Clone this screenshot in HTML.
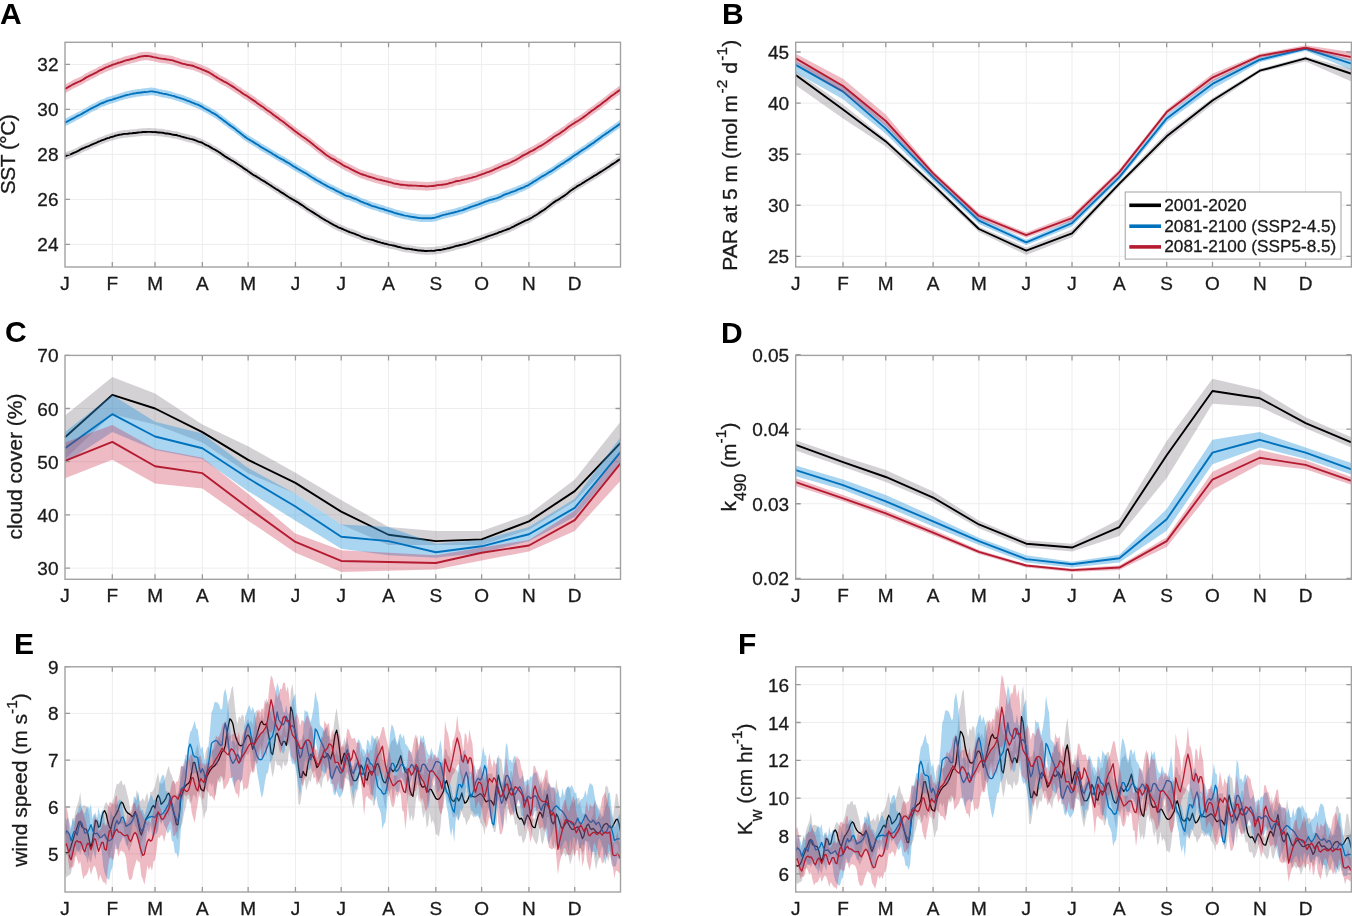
<!DOCTYPE html>
<html><head><meta charset="utf-8"><title>Figure</title>
<style>html,body{margin:0;padding:0;background:#fff;}svg{display:block;will-change:transform}</style></head>
<body><svg width="1352" height="916" viewBox="0 0 1352 916"><rect width="1352" height="916" fill="#fff"/>
<g stroke="#ededed" stroke-width="1"><line x1="112.31" y1="42.3" x2="112.31" y2="267"/><line x1="155.04" y1="42.3" x2="155.04" y2="267"/><line x1="202.35" y1="42.3" x2="202.35" y2="267"/><line x1="248.13" y1="42.3" x2="248.13" y2="267"/><line x1="295.44" y1="42.3" x2="295.44" y2="267"/><line x1="341.22" y1="42.3" x2="341.22" y2="267"/><line x1="388.53" y1="42.3" x2="388.53" y2="267"/><line x1="435.84" y1="42.3" x2="435.84" y2="267"/><line x1="481.62" y1="42.3" x2="481.62" y2="267"/><line x1="528.93" y1="42.3" x2="528.93" y2="267"/><line x1="574.72" y1="42.3" x2="574.72" y2="267"/><line x1="65" y1="244.45" x2="620.5" y2="244.45"/><line x1="65" y1="199.45" x2="620.5" y2="199.45"/><line x1="65" y1="154.45" x2="620.5" y2="154.45"/><line x1="65" y1="109.45" x2="620.5" y2="109.45"/><line x1="65" y1="64.45" x2="620.5" y2="64.45"/></g>
<path d="M65,152.71 L66.53,151.86 L68.05,151.34 L69.58,150.91 L71.1,150.29 L72.63,149.59 L74.16,148.88 L75.68,148.28 L77.21,147.49 L78.73,146.8 L80.26,145.83 L81.79,145.07 L83.31,144.45 L84.84,143.73 L86.37,143.07 L87.89,142.58 L89.42,141.96 L90.94,141.17 L92.47,140.49 L94,139.77 L95.52,139.29 L97.05,138.62 L98.57,137.83 L100.1,137.26 L101.63,136.63 L103.15,136.04 L104.68,135.52 L106.2,134.87 L107.73,134.4 L109.26,134 L110.78,133.22 L112.31,132.96 L113.84,132.51 L115.36,131.91 L116.89,131.53 L118.41,131.24 L119.94,130.82 L121.47,130.66 L122.99,130.29 L124.52,130.1 L126.04,130.11 L127.57,129.91 L129.1,129.65 L130.62,129.58 L132.15,129.47 L133.67,129.23 L135.2,129.14 L136.73,128.94 L138.25,128.74 L139.78,128.57 L141.3,128.42 L142.83,128.16 L144.36,128.26 L145.88,128.24 L147.41,128.04 L148.94,128.08 L150.46,128.1 L151.99,128.2 L153.51,128.31 L155.04,128.26 L156.57,128.39 L158.09,128.74 L159.62,128.69 L161.14,128.87 L162.67,129 L164.2,129.29 L165.72,129.7 L167.25,129.74 L168.77,129.9 L170.3,130.23 L171.83,130.65 L173.35,130.89 L174.88,131.19 L176.41,131.21 L177.93,131.78 L179.46,132.15 L180.98,132.66 L182.51,133.01 L184.04,133.44 L185.56,133.82 L187.09,134.33 L188.61,134.57 L190.14,135.09 L191.67,135.38 L193.19,135.74 L194.72,136.21 L196.24,136.83 L197.77,137.52 L199.3,138.07 L200.82,138.41 L202.35,139.16 L203.88,139.98 L205.4,140.78 L206.93,141.51 L208.45,142.19 L209.98,143.12 L211.51,144.07 L213.03,144.98 L214.56,145.68 L216.08,146.52 L217.61,147.41 L219.14,148.41 L220.66,149.36 L222.19,150.56 L223.71,151.6 L225.24,152.78 L226.77,153.59 L228.29,154.58 L229.82,155.5 L231.34,156.54 L232.87,157.15 L234.4,158.14 L235.92,159.12 L237.45,160.2 L238.98,161.16 L240.5,162.15 L242.03,163.11 L243.55,164.35 L245.08,165.4 L246.61,166.26 L248.13,167.39 L249.66,168.44 L251.18,169.61 L252.71,170.64 L254.24,171.67 L255.76,172.37 L257.29,173.35 L258.81,174.19 L260.34,175.28 L261.87,176.17 L263.39,177.07 L264.92,177.9 L266.45,179.02 L267.97,179.96 L269.5,180.94 L271.02,181.84 L272.55,182.98 L274.08,183.98 L275.6,184.95 L277.13,185.8 L278.65,186.73 L280.18,187.83 L281.71,188.84 L283.23,189.61 L284.76,190.63 L286.28,191.65 L287.81,192.73 L289.34,193.67 L290.86,194.54 L292.39,195.43 L293.91,196.3 L295.44,197.17 L296.97,198.04 L298.49,198.95 L300.02,200.11 L301.55,201.07 L303.07,202.01 L304.6,203.11 L306.12,204.18 L307.65,205.36 L309.18,206.17 L310.7,207.14 L312.23,208.09 L313.75,209.07 L315.28,210.03 L316.81,211.02 L318.33,211.9 L319.86,213.03 L321.38,214.02 L322.91,214.95 L324.44,215.83 L325.96,216.72 L327.49,217.46 L329.02,218.43 L330.54,219.36 L332.07,220.25 L333.59,221.09 L335.12,221.88 L336.65,222.61 L338.17,223.49 L339.7,224 L341.22,224.68 L342.75,225.2 L344.28,226.03 L345.8,226.68 L347.33,227.42 L348.85,227.95 L350.38,228.56 L351.91,229.09 L353.43,229.59 L354.96,230.06 L356.48,230.79 L358.01,231.28 L359.54,231.95 L361.06,232.72 L362.59,233.34 L364.12,233.98 L365.64,234.46 L367.17,234.74 L368.69,235.29 L370.22,235.57 L371.75,235.96 L373.27,236.41 L374.8,236.95 L376.32,237.42 L377.85,237.93 L379.38,238.34 L380.9,238.87 L382.43,239.23 L383.95,239.65 L385.48,239.96 L387.01,240.36 L388.53,240.76 L390.06,241.11 L391.59,241.36 L393.11,241.75 L394.64,242.01 L396.16,242.48 L397.69,242.96 L399.22,243.21 L400.74,243.57 L402.27,244.06 L403.79,244.29 L405.32,244.74 L406.85,244.88 L408.37,244.89 L409.9,245.29 L411.42,245.51 L412.95,245.75 L414.48,245.95 L416,246.15 L417.53,246.43 L419.05,246.65 L420.58,246.76 L422.11,246.89 L423.63,246.94 L425.16,247.27 L426.69,247.26 L428.21,247.09 L429.74,247.07 L431.26,247.02 L432.79,247.09 L434.32,246.94 L435.84,246.58 L437.37,246.37 L438.89,246.2 L440.42,246.19 L441.95,245.87 L443.47,245.44 L445,245.16 L446.52,244.88 L448.05,244.4 L449.58,244.21 L451.1,243.65 L452.63,243.33 L454.16,242.81 L455.68,242.35 L457.21,241.94 L458.73,241.72 L460.26,241.22 L461.79,240.91 L463.31,240.53 L464.84,240.17 L466.36,239.86 L467.89,239.4 L469.42,238.85 L470.94,238.38 L472.47,237.91 L473.99,237.38 L475.52,236.86 L477.05,236.36 L478.57,235.98 L480.1,235.47 L481.62,234.89 L483.15,234.26 L484.68,233.83 L486.2,233.2 L487.73,232.65 L489.26,232.07 L490.78,231.5 L492.31,231.11 L493.83,230.63 L495.36,229.95 L496.89,229.58 L498.41,228.86 L499.94,228.15 L501.46,227.81 L502.99,227.03 L504.52,226.56 L506.04,226 L507.57,225.46 L509.09,224.98 L510.62,224.21 L512.15,223.36 L513.67,222.8 L515.2,221.87 L516.73,221.08 L518.25,220.32 L519.78,219.55 L521.3,218.86 L522.83,218.11 L524.36,217.4 L525.88,216.67 L527.41,216.06 L528.93,215.34 L530.46,214.55 L531.99,213.72 L533.51,212.76 L535.04,211.76 L536.56,210.93 L538.09,209.9 L539.62,208.82 L541.14,207.78 L542.67,206.87 L544.2,205.91 L545.72,204.83 L547.25,203.58 L548.77,202.35 L550.3,201.18 L551.83,200.03 L553.35,198.83 L554.88,197.83 L556.4,196.75 L557.93,196.01 L559.46,195.12 L560.98,194.01 L562.51,193.08 L564.03,192.11 L565.56,190.91 L567.09,189.94 L568.61,188.56 L570.14,187.17 L571.66,186.25 L573.19,185.11 L574.72,184.2 L576.24,183.21 L577.77,182.03 L579.3,181.24 L580.82,180.43 L582.35,179.4 L583.87,178.6 L585.4,177.51 L586.93,176.59 L588.45,175.74 L589.98,174.72 L591.5,173.78 L593.03,172.85 L594.56,171.82 L596.08,171.06 L597.61,170.08 L599.13,169.04 L600.66,168.08 L602.19,167.17 L603.71,166.19 L605.24,165.2 L606.77,164.15 L608.29,163.17 L609.82,162.29 L611.34,161.06 L612.87,160.06 L614.4,159.21 L615.92,158.19 L617.45,157.07 L618.97,156.07 L620.5,155.16 L620.5,162.76 L618.97,163.67 L617.45,164.67 L615.92,165.79 L614.4,166.81 L612.87,167.66 L611.34,168.66 L609.82,169.89 L608.29,170.77 L606.77,171.75 L605.24,172.8 L603.71,173.79 L602.19,174.77 L600.66,175.68 L599.13,176.64 L597.61,177.68 L596.08,178.66 L594.56,179.42 L593.03,180.45 L591.5,181.38 L589.98,182.32 L588.45,183.34 L586.93,184.19 L585.4,185.11 L583.87,186.2 L582.35,187 L580.82,188.03 L579.3,188.84 L577.77,189.63 L576.24,190.81 L574.72,191.8 L573.19,192.71 L571.66,193.85 L570.14,194.77 L568.61,196.16 L567.09,197.54 L565.56,198.51 L564.03,199.71 L562.51,200.68 L560.98,201.61 L559.46,202.72 L557.93,203.61 L556.4,204.35 L554.88,205.43 L553.35,206.43 L551.83,207.63 L550.3,208.78 L548.77,209.95 L547.25,211.18 L545.72,212.43 L544.2,213.51 L542.67,214.47 L541.14,215.38 L539.62,216.42 L538.09,217.5 L536.56,218.53 L535.04,219.36 L533.51,220.36 L531.99,221.32 L530.46,222.15 L528.93,222.94 L527.41,223.66 L525.88,224.27 L524.36,225 L522.83,225.71 L521.3,226.46 L519.78,227.15 L518.25,227.92 L516.73,228.68 L515.2,229.47 L513.67,230.4 L512.15,230.96 L510.62,231.81 L509.09,232.58 L507.57,233.06 L506.04,233.6 L504.52,234.16 L502.99,234.63 L501.46,235.41 L499.94,235.75 L498.41,236.46 L496.89,237.18 L495.36,237.55 L493.83,238.23 L492.31,238.71 L490.78,239.1 L489.26,239.67 L487.73,240.25 L486.2,240.8 L484.68,241.43 L483.15,241.86 L481.62,242.49 L480.1,243.07 L478.57,243.58 L477.05,243.96 L475.52,244.46 L473.99,244.98 L472.47,245.51 L470.94,245.98 L469.42,246.45 L467.89,247 L466.36,247.46 L464.84,247.77 L463.31,248.13 L461.79,248.51 L460.26,248.82 L458.73,249.32 L457.21,249.54 L455.68,249.95 L454.16,250.41 L452.63,250.93 L451.1,251.25 L449.58,251.81 L448.05,252 L446.52,252.48 L445,252.76 L443.47,253.04 L441.95,253.47 L440.42,253.79 L438.89,253.8 L437.37,253.97 L435.84,254.18 L434.32,254.54 L432.79,254.69 L431.26,254.62 L429.74,254.67 L428.21,254.69 L426.69,254.86 L425.16,254.87 L423.63,254.54 L422.11,254.49 L420.58,254.36 L419.05,254.25 L417.53,254.03 L416,253.75 L414.48,253.55 L412.95,253.35 L411.42,253.11 L409.9,252.89 L408.37,252.49 L406.85,252.48 L405.32,252.34 L403.79,251.89 L402.27,251.66 L400.74,251.17 L399.22,250.81 L397.69,250.56 L396.16,250.08 L394.64,249.61 L393.11,249.35 L391.59,248.96 L390.06,248.71 L388.53,248.36 L387.01,247.96 L385.48,247.56 L383.95,247.25 L382.43,246.83 L380.9,246.47 L379.38,245.94 L377.85,245.53 L376.32,245.02 L374.8,244.55 L373.27,244.01 L371.75,243.56 L370.22,243.17 L368.69,242.89 L367.17,242.34 L365.64,242.06 L364.12,241.58 L362.59,240.94 L361.06,240.32 L359.54,239.55 L358.01,238.88 L356.48,238.39 L354.96,237.66 L353.43,237.19 L351.91,236.69 L350.38,236.16 L348.85,235.55 L347.33,235.02 L345.8,234.28 L344.28,233.63 L342.75,232.8 L341.22,232.28 L339.7,231.6 L338.17,231.09 L336.65,230.21 L335.12,229.48 L333.59,228.69 L332.07,227.85 L330.54,226.96 L329.02,226.03 L327.49,225.06 L325.96,224.32 L324.44,223.43 L322.91,222.55 L321.38,221.62 L319.86,220.63 L318.33,219.5 L316.81,218.62 L315.28,217.63 L313.75,216.67 L312.23,215.69 L310.7,214.74 L309.18,213.77 L307.65,212.96 L306.12,211.78 L304.6,210.71 L303.07,209.61 L301.55,208.67 L300.02,207.71 L298.49,206.55 L296.97,205.64 L295.44,204.77 L293.91,203.9 L292.39,203.03 L290.86,202.14 L289.34,201.27 L287.81,200.33 L286.28,199.25 L284.76,198.23 L283.23,197.21 L281.71,196.44 L280.18,195.43 L278.65,194.33 L277.13,193.4 L275.6,192.55 L274.08,191.58 L272.55,190.58 L271.02,189.44 L269.5,188.54 L267.97,187.56 L266.45,186.62 L264.92,185.5 L263.39,184.67 L261.87,183.77 L260.34,182.88 L258.81,181.79 L257.29,180.95 L255.76,179.97 L254.24,179.27 L252.71,178.24 L251.18,177.21 L249.66,176.04 L248.13,174.99 L246.61,173.86 L245.08,173 L243.55,171.95 L242.03,170.71 L240.5,169.75 L238.98,168.76 L237.45,167.8 L235.92,166.72 L234.4,165.74 L232.87,164.75 L231.34,164.14 L229.82,163.1 L228.29,162.18 L226.77,161.19 L225.24,160.38 L223.71,159.2 L222.19,158.16 L220.66,156.96 L219.14,156.01 L217.61,155.01 L216.08,154.12 L214.56,153.28 L213.03,152.58 L211.51,151.67 L209.98,150.72 L208.45,149.79 L206.93,149.11 L205.4,148.38 L203.88,147.58 L202.35,146.76 L200.82,146.01 L199.3,145.67 L197.77,145.12 L196.24,144.43 L194.72,143.81 L193.19,143.34 L191.67,142.98 L190.14,142.69 L188.61,142.17 L187.09,141.93 L185.56,141.42 L184.04,141.04 L182.51,140.61 L180.98,140.26 L179.46,139.75 L177.93,139.38 L176.41,138.81 L174.88,138.79 L173.35,138.49 L171.83,138.25 L170.3,137.83 L168.77,137.5 L167.25,137.34 L165.72,137.3 L164.2,136.89 L162.67,136.6 L161.14,136.47 L159.62,136.29 L158.09,136.34 L156.57,135.99 L155.04,135.86 L153.51,135.91 L151.99,135.8 L150.46,135.7 L148.94,135.68 L147.41,135.64 L145.88,135.84 L144.36,135.86 L142.83,135.76 L141.3,136.02 L139.78,136.17 L138.25,136.34 L136.73,136.54 L135.2,136.74 L133.67,136.83 L132.15,137.07 L130.62,137.18 L129.1,137.25 L127.57,137.51 L126.04,137.71 L124.52,137.7 L122.99,137.89 L121.47,138.26 L119.94,138.42 L118.41,138.84 L116.89,139.13 L115.36,139.51 L113.84,140.11 L112.31,140.56 L110.78,140.82 L109.26,141.6 L107.73,142 L106.2,142.47 L104.68,143.12 L103.15,143.64 L101.63,144.23 L100.1,144.86 L98.57,145.43 L97.05,146.22 L95.52,146.89 L94,147.37 L92.47,148.09 L90.94,148.77 L89.42,149.56 L87.89,150.18 L86.37,150.67 L84.84,151.33 L83.31,152.05 L81.79,152.67 L80.26,153.43 L78.73,154.4 L77.21,155.09 L75.68,155.88 L74.16,156.48 L72.63,157.19 L71.1,157.89 L69.58,158.51 L68.05,158.94 L66.53,159.46 L65,160.31 Z" fill="rgba(95,85,100,0.27)" stroke="none"/>
<path d="M65,156.51 L66.53,155.66 L68.05,155.14 L69.58,154.71 L71.1,154.09 L72.63,153.39 L74.16,152.68 L75.68,152.08 L77.21,151.29 L78.73,150.6 L80.26,149.63 L81.79,148.87 L83.31,148.25 L84.84,147.53 L86.37,146.87 L87.89,146.38 L89.42,145.76 L90.94,144.97 L92.47,144.29 L94,143.57 L95.52,143.09 L97.05,142.42 L98.57,141.63 L100.1,141.06 L101.63,140.43 L103.15,139.84 L104.68,139.32 L106.2,138.67 L107.73,138.2 L109.26,137.8 L110.78,137.02 L112.31,136.76 L113.84,136.31 L115.36,135.71 L116.89,135.33 L118.41,135.04 L119.94,134.62 L121.47,134.46 L122.99,134.09 L124.52,133.9 L126.04,133.91 L127.57,133.71 L129.1,133.45 L130.62,133.38 L132.15,133.27 L133.67,133.03 L135.2,132.94 L136.73,132.74 L138.25,132.54 L139.78,132.37 L141.3,132.22 L142.83,131.96 L144.36,132.06 L145.88,132.04 L147.41,131.84 L148.94,131.88 L150.46,131.9 L151.99,132 L153.51,132.11 L155.04,132.06 L156.57,132.19 L158.09,132.54 L159.62,132.49 L161.14,132.67 L162.67,132.8 L164.2,133.09 L165.72,133.5 L167.25,133.54 L168.77,133.7 L170.3,134.03 L171.83,134.45 L173.35,134.69 L174.88,134.99 L176.41,135.01 L177.93,135.58 L179.46,135.95 L180.98,136.46 L182.51,136.81 L184.04,137.24 L185.56,137.62 L187.09,138.13 L188.61,138.37 L190.14,138.89 L191.67,139.18 L193.19,139.54 L194.72,140.01 L196.24,140.63 L197.77,141.32 L199.3,141.87 L200.82,142.21 L202.35,142.96 L203.88,143.78 L205.4,144.58 L206.93,145.31 L208.45,145.99 L209.98,146.92 L211.51,147.87 L213.03,148.78 L214.56,149.48 L216.08,150.32 L217.61,151.21 L219.14,152.21 L220.66,153.16 L222.19,154.36 L223.71,155.4 L225.24,156.58 L226.77,157.39 L228.29,158.38 L229.82,159.3 L231.34,160.34 L232.87,160.95 L234.4,161.94 L235.92,162.92 L237.45,164 L238.98,164.96 L240.5,165.95 L242.03,166.91 L243.55,168.15 L245.08,169.2 L246.61,170.06 L248.13,171.19 L249.66,172.24 L251.18,173.41 L252.71,174.44 L254.24,175.47 L255.76,176.17 L257.29,177.15 L258.81,177.99 L260.34,179.08 L261.87,179.97 L263.39,180.87 L264.92,181.7 L266.45,182.82 L267.97,183.76 L269.5,184.74 L271.02,185.64 L272.55,186.78 L274.08,187.78 L275.6,188.75 L277.13,189.6 L278.65,190.53 L280.18,191.63 L281.71,192.64 L283.23,193.41 L284.76,194.43 L286.28,195.45 L287.81,196.53 L289.34,197.47 L290.86,198.34 L292.39,199.23 L293.91,200.1 L295.44,200.97 L296.97,201.84 L298.49,202.75 L300.02,203.91 L301.55,204.87 L303.07,205.81 L304.6,206.91 L306.12,207.98 L307.65,209.16 L309.18,209.97 L310.7,210.94 L312.23,211.89 L313.75,212.87 L315.28,213.83 L316.81,214.82 L318.33,215.7 L319.86,216.83 L321.38,217.82 L322.91,218.75 L324.44,219.63 L325.96,220.52 L327.49,221.26 L329.02,222.23 L330.54,223.16 L332.07,224.05 L333.59,224.89 L335.12,225.68 L336.65,226.41 L338.17,227.29 L339.7,227.8 L341.22,228.48 L342.75,229 L344.28,229.83 L345.8,230.48 L347.33,231.22 L348.85,231.75 L350.38,232.36 L351.91,232.89 L353.43,233.39 L354.96,233.86 L356.48,234.59 L358.01,235.08 L359.54,235.75 L361.06,236.52 L362.59,237.14 L364.12,237.78 L365.64,238.26 L367.17,238.54 L368.69,239.09 L370.22,239.37 L371.75,239.76 L373.27,240.21 L374.8,240.75 L376.32,241.22 L377.85,241.73 L379.38,242.14 L380.9,242.67 L382.43,243.03 L383.95,243.45 L385.48,243.76 L387.01,244.16 L388.53,244.56 L390.06,244.91 L391.59,245.16 L393.11,245.55 L394.64,245.81 L396.16,246.28 L397.69,246.76 L399.22,247.01 L400.74,247.37 L402.27,247.86 L403.79,248.09 L405.32,248.54 L406.85,248.68 L408.37,248.69 L409.9,249.09 L411.42,249.31 L412.95,249.55 L414.48,249.75 L416,249.95 L417.53,250.23 L419.05,250.45 L420.58,250.56 L422.11,250.69 L423.63,250.74 L425.16,251.07 L426.69,251.06 L428.21,250.89 L429.74,250.87 L431.26,250.82 L432.79,250.89 L434.32,250.74 L435.84,250.38 L437.37,250.17 L438.89,250 L440.42,249.99 L441.95,249.67 L443.47,249.24 L445,248.96 L446.52,248.68 L448.05,248.2 L449.58,248.01 L451.1,247.45 L452.63,247.13 L454.16,246.61 L455.68,246.15 L457.21,245.74 L458.73,245.52 L460.26,245.02 L461.79,244.71 L463.31,244.33 L464.84,243.97 L466.36,243.66 L467.89,243.2 L469.42,242.65 L470.94,242.18 L472.47,241.71 L473.99,241.18 L475.52,240.66 L477.05,240.16 L478.57,239.78 L480.1,239.27 L481.62,238.69 L483.15,238.06 L484.68,237.63 L486.2,237 L487.73,236.45 L489.26,235.87 L490.78,235.3 L492.31,234.91 L493.83,234.43 L495.36,233.75 L496.89,233.38 L498.41,232.66 L499.94,231.95 L501.46,231.61 L502.99,230.83 L504.52,230.36 L506.04,229.8 L507.57,229.26 L509.09,228.78 L510.62,228.01 L512.15,227.16 L513.67,226.6 L515.2,225.67 L516.73,224.88 L518.25,224.12 L519.78,223.35 L521.3,222.66 L522.83,221.91 L524.36,221.2 L525.88,220.47 L527.41,219.86 L528.93,219.14 L530.46,218.35 L531.99,217.52 L533.51,216.56 L535.04,215.56 L536.56,214.73 L538.09,213.7 L539.62,212.62 L541.14,211.58 L542.67,210.67 L544.2,209.71 L545.72,208.63 L547.25,207.38 L548.77,206.15 L550.3,204.98 L551.83,203.83 L553.35,202.63 L554.88,201.63 L556.4,200.55 L557.93,199.81 L559.46,198.92 L560.98,197.81 L562.51,196.88 L564.03,195.91 L565.56,194.71 L567.09,193.74 L568.61,192.36 L570.14,190.97 L571.66,190.05 L573.19,188.91 L574.72,188 L576.24,187.01 L577.77,185.83 L579.3,185.04 L580.82,184.23 L582.35,183.2 L583.87,182.4 L585.4,181.31 L586.93,180.39 L588.45,179.54 L589.98,178.52 L591.5,177.58 L593.03,176.65 L594.56,175.62 L596.08,174.86 L597.61,173.88 L599.13,172.84 L600.66,171.88 L602.19,170.97 L603.71,169.99 L605.24,169 L606.77,167.95 L608.29,166.97 L609.82,166.09 L611.34,164.86 L612.87,163.86 L614.4,163.01 L615.92,161.99 L617.45,160.87 L618.97,159.87 L620.5,158.96" fill="none" stroke="#000000" stroke-width="1.9" stroke-linejoin="round"/>
<path d="M65,118.75 L66.53,118.01 L68.05,117.33 L69.58,116.45 L71.1,115.61 L72.63,114.82 L74.16,114.04 L75.68,113.17 L77.21,112.36 L78.73,111.66 L80.26,110.95 L81.79,110.14 L83.31,109.08 L84.84,108.3 L86.37,107.46 L87.89,106.61 L89.42,105.73 L90.94,104.82 L92.47,104.01 L94,103.31 L95.52,102.63 L97.05,101.82 L98.57,101.02 L100.1,100.14 L101.63,99.46 L103.15,98.93 L104.68,98.38 L106.2,97.55 L107.73,97.04 L109.26,96.6 L110.78,96.23 L112.31,95.76 L113.84,95.22 L115.36,94.72 L116.89,94.36 L118.41,93.7 L119.94,93.26 L121.47,92.76 L122.99,92.45 L124.52,91.77 L126.04,91.41 L127.57,91.06 L129.1,90.76 L130.62,90.34 L132.15,90.08 L133.67,89.67 L135.2,89.53 L136.73,89.2 L138.25,88.98 L139.78,88.9 L141.3,88.68 L142.83,88.45 L144.36,88.27 L145.88,88.27 L147.41,88.07 L148.94,87.78 L150.46,87.62 L151.99,87.59 L153.51,87.76 L155.04,88.05 L156.57,88.32 L158.09,88.64 L159.62,89.14 L161.14,89.31 L162.67,89.78 L164.2,90.03 L165.72,90.26 L167.25,90.62 L168.77,91.04 L170.3,91.27 L171.83,91.76 L173.35,92.14 L174.88,92.67 L176.41,93.19 L177.93,93.65 L179.46,94.06 L180.98,94.54 L182.51,95 L184.04,95.55 L185.56,96.14 L187.09,96.78 L188.61,97.23 L190.14,97.84 L191.67,98.53 L193.19,99.15 L194.72,99.75 L196.24,100.38 L197.77,100.88 L199.3,101.58 L200.82,102.31 L202.35,103.15 L203.88,104.2 L205.4,104.95 L206.93,105.77 L208.45,106.54 L209.98,107.5 L211.51,108.48 L213.03,109.24 L214.56,110.11 L216.08,111.03 L217.61,112.08 L219.14,113.38 L220.66,114.35 L222.19,115.54 L223.71,116.85 L225.24,117.81 L226.77,118.96 L228.29,120.18 L229.82,121.32 L231.34,122.47 L232.87,123.52 L234.4,124.57 L235.92,125.81 L237.45,127.13 L238.98,128.22 L240.5,129.48 L242.03,130.78 L243.55,131.93 L245.08,133.07 L246.61,134.22 L248.13,135.2 L249.66,136.05 L251.18,136.96 L252.71,137.82 L254.24,138.88 L255.76,139.76 L257.29,140.66 L258.81,141.58 L260.34,142.79 L261.87,143.68 L263.39,144.6 L264.92,145.43 L266.45,146.33 L267.97,147.23 L269.5,148.14 L271.02,148.95 L272.55,150.02 L274.08,150.93 L275.6,151.83 L277.13,152.77 L278.65,153.73 L280.18,154.55 L281.71,155.38 L283.23,156.12 L284.76,157.11 L286.28,158.01 L287.81,158.89 L289.34,159.66 L290.86,160.7 L292.39,161.79 L293.91,162.72 L295.44,163.59 L296.97,164.53 L298.49,165.4 L300.02,166.36 L301.55,167.2 L303.07,168.02 L304.6,168.9 L306.12,169.7 L307.65,170.67 L309.18,171.81 L310.7,172.73 L312.23,173.7 L313.75,174.6 L315.28,175.57 L316.81,176.45 L318.33,177.38 L319.86,178.08 L321.38,179.09 L322.91,179.93 L324.44,180.74 L325.96,181.52 L327.49,182.56 L329.02,183.18 L330.54,184.02 L332.07,184.68 L333.59,185.32 L335.12,186.25 L336.65,187.08 L338.17,187.76 L339.7,188.68 L341.22,189.35 L342.75,190.1 L344.28,191.09 L345.8,191.75 L347.33,192.19 L348.85,192.58 L350.38,193.04 L351.91,193.86 L353.43,194.46 L354.96,194.92 L356.48,195.51 L358.01,196.23 L359.54,197.13 L361.06,197.88 L362.59,198.41 L364.12,199.05 L365.64,199.58 L367.17,200.12 L368.69,200.71 L370.22,201.34 L371.75,202.02 L373.27,202.44 L374.8,202.73 L376.32,203.25 L377.85,203.74 L379.38,204.36 L380.9,204.82 L382.43,205.01 L383.95,205.48 L385.48,206.24 L387.01,206.64 L388.53,207.15 L390.06,207.5 L391.59,207.92 L393.11,208.5 L394.64,209.08 L396.16,209.48 L397.69,209.92 L399.22,210.27 L400.74,210.71 L402.27,211.07 L403.79,211.51 L405.32,211.79 L406.85,212.02 L408.37,212.39 L409.9,212.66 L411.42,213.03 L412.95,213.21 L414.48,213.47 L416,213.75 L417.53,214 L419.05,214.13 L420.58,214.33 L422.11,214.44 L423.63,214.45 L425.16,214.46 L426.69,214.52 L428.21,214.45 L429.74,214.42 L431.26,214.39 L432.79,214.18 L434.32,213.96 L435.84,213.56 L437.37,213.09 L438.89,212.71 L440.42,212.12 L441.95,211.63 L443.47,211.1 L445,210.81 L446.52,210.41 L448.05,210.1 L449.58,209.67 L451.1,209.38 L452.63,208.93 L454.16,208.67 L455.68,208.18 L457.21,207.85 L458.73,207.33 L460.26,206.84 L461.79,206.56 L463.31,205.96 L464.84,205.43 L466.36,204.91 L467.89,204.33 L469.42,203.69 L470.94,203.15 L472.47,202.6 L473.99,202.16 L475.52,201.55 L477.05,201.03 L478.57,200.5 L480.1,199.95 L481.62,199.39 L483.15,198.75 L484.68,198.13 L486.2,197.53 L487.73,197.02 L489.26,196.43 L490.78,195.99 L492.31,195.68 L493.83,195.23 L495.36,194.85 L496.89,194.35 L498.41,193.75 L499.94,193.07 L501.46,192.48 L502.99,191.57 L504.52,190.85 L506.04,190.21 L507.57,189.74 L509.09,189.25 L510.62,188.68 L512.15,188.11 L513.67,187.58 L515.2,187.04 L516.73,186.3 L518.25,185.55 L519.78,184.99 L521.3,184.44 L522.83,183.87 L524.36,183.22 L525.88,182.37 L527.41,181.73 L528.93,181.02 L530.46,179.95 L531.99,179.07 L533.51,177.91 L535.04,177.03 L536.56,176.27 L538.09,175.27 L539.62,174.19 L541.14,173.21 L542.67,172.32 L544.2,171.58 L545.72,170.72 L547.25,169.71 L548.77,168.66 L550.3,167.89 L551.83,167.03 L553.35,166.01 L554.88,165.02 L556.4,163.79 L557.93,162.77 L559.46,161.86 L560.98,160.74 L562.51,159.85 L564.03,158.89 L565.56,157.66 L567.09,156.8 L568.61,155.81 L570.14,154.82 L571.66,153.66 L573.19,152.4 L574.72,151.39 L576.24,150.57 L577.77,149.58 L579.3,148.39 L580.82,147.5 L582.35,146.32 L583.87,145.39 L585.4,144.47 L586.93,143.37 L588.45,142.34 L589.98,141.32 L591.5,140.22 L593.03,139.29 L594.56,138.27 L596.08,137.02 L597.61,135.87 L599.13,134.84 L600.66,133.74 L602.19,132.48 L603.71,131.5 L605.24,130.36 L606.77,129.31 L608.29,128.39 L609.82,127.21 L611.34,126.2 L612.87,125.13 L614.4,124.02 L615.92,123.05 L617.45,121.92 L618.97,120.81 L620.5,119.76 L620.5,127.36 L618.97,128.41 L617.45,129.52 L615.92,130.65 L614.4,131.62 L612.87,132.73 L611.34,133.8 L609.82,134.81 L608.29,135.99 L606.77,136.91 L605.24,137.96 L603.71,139.1 L602.19,140.08 L600.66,141.34 L599.13,142.44 L597.61,143.47 L596.08,144.62 L594.56,145.87 L593.03,146.89 L591.5,147.82 L589.98,148.92 L588.45,149.94 L586.93,150.97 L585.4,152.07 L583.87,152.99 L582.35,153.92 L580.82,155.1 L579.3,155.99 L577.77,157.18 L576.24,158.17 L574.72,158.99 L573.19,160 L571.66,161.26 L570.14,162.42 L568.61,163.41 L567.09,164.4 L565.56,165.26 L564.03,166.49 L562.51,167.45 L560.98,168.34 L559.46,169.46 L557.93,170.37 L556.4,171.39 L554.88,172.62 L553.35,173.61 L551.83,174.63 L550.3,175.49 L548.77,176.26 L547.25,177.31 L545.72,178.32 L544.2,179.18 L542.67,179.92 L541.14,180.81 L539.62,181.79 L538.09,182.87 L536.56,183.87 L535.04,184.63 L533.51,185.51 L531.99,186.67 L530.46,187.55 L528.93,188.62 L527.41,189.33 L525.88,189.97 L524.36,190.82 L522.83,191.47 L521.3,192.04 L519.78,192.59 L518.25,193.15 L516.73,193.9 L515.2,194.64 L513.67,195.18 L512.15,195.71 L510.62,196.28 L509.09,196.85 L507.57,197.34 L506.04,197.81 L504.52,198.45 L502.99,199.17 L501.46,200.08 L499.94,200.67 L498.41,201.35 L496.89,201.95 L495.36,202.45 L493.83,202.83 L492.31,203.28 L490.78,203.59 L489.26,204.03 L487.73,204.62 L486.2,205.13 L484.68,205.73 L483.15,206.35 L481.62,206.99 L480.1,207.55 L478.57,208.1 L477.05,208.63 L475.52,209.15 L473.99,209.76 L472.47,210.2 L470.94,210.75 L469.42,211.29 L467.89,211.93 L466.36,212.51 L464.84,213.03 L463.31,213.56 L461.79,214.16 L460.26,214.44 L458.73,214.93 L457.21,215.45 L455.68,215.78 L454.16,216.27 L452.63,216.53 L451.1,216.98 L449.58,217.27 L448.05,217.7 L446.52,218.01 L445,218.41 L443.47,218.7 L441.95,219.23 L440.42,219.72 L438.89,220.31 L437.37,220.69 L435.84,221.16 L434.32,221.56 L432.79,221.78 L431.26,221.99 L429.74,222.02 L428.21,222.05 L426.69,222.12 L425.16,222.06 L423.63,222.05 L422.11,222.04 L420.58,221.93 L419.05,221.73 L417.53,221.6 L416,221.35 L414.48,221.07 L412.95,220.81 L411.42,220.63 L409.9,220.26 L408.37,219.99 L406.85,219.62 L405.32,219.39 L403.79,219.11 L402.27,218.67 L400.74,218.31 L399.22,217.87 L397.69,217.52 L396.16,217.08 L394.64,216.68 L393.11,216.1 L391.59,215.52 L390.06,215.1 L388.53,214.75 L387.01,214.24 L385.48,213.84 L383.95,213.08 L382.43,212.61 L380.9,212.42 L379.38,211.96 L377.85,211.34 L376.32,210.85 L374.8,210.33 L373.27,210.04 L371.75,209.62 L370.22,208.94 L368.69,208.31 L367.17,207.72 L365.64,207.18 L364.12,206.65 L362.59,206.01 L361.06,205.48 L359.54,204.73 L358.01,203.83 L356.48,203.11 L354.96,202.52 L353.43,202.06 L351.91,201.46 L350.38,200.64 L348.85,200.18 L347.33,199.79 L345.8,199.35 L344.28,198.69 L342.75,197.7 L341.22,196.95 L339.7,196.28 L338.17,195.36 L336.65,194.68 L335.12,193.85 L333.59,192.92 L332.07,192.28 L330.54,191.62 L329.02,190.78 L327.49,190.16 L325.96,189.12 L324.44,188.34 L322.91,187.53 L321.38,186.69 L319.86,185.68 L318.33,184.98 L316.81,184.05 L315.28,183.17 L313.75,182.2 L312.23,181.3 L310.7,180.33 L309.18,179.41 L307.65,178.27 L306.12,177.3 L304.6,176.5 L303.07,175.62 L301.55,174.8 L300.02,173.96 L298.49,173 L296.97,172.13 L295.44,171.19 L293.91,170.32 L292.39,169.39 L290.86,168.3 L289.34,167.26 L287.81,166.49 L286.28,165.61 L284.76,164.71 L283.23,163.72 L281.71,162.98 L280.18,162.15 L278.65,161.33 L277.13,160.37 L275.6,159.43 L274.08,158.53 L272.55,157.62 L271.02,156.55 L269.5,155.74 L267.97,154.83 L266.45,153.93 L264.92,153.03 L263.39,152.2 L261.87,151.28 L260.34,150.39 L258.81,149.18 L257.29,148.26 L255.76,147.36 L254.24,146.48 L252.71,145.42 L251.18,144.56 L249.66,143.65 L248.13,142.8 L246.61,141.82 L245.08,140.67 L243.55,139.53 L242.03,138.38 L240.5,137.08 L238.98,135.82 L237.45,134.73 L235.92,133.41 L234.4,132.17 L232.87,131.12 L231.34,130.07 L229.82,128.92 L228.29,127.78 L226.77,126.56 L225.24,125.41 L223.71,124.45 L222.19,123.14 L220.66,121.95 L219.14,120.98 L217.61,119.68 L216.08,118.63 L214.56,117.71 L213.03,116.84 L211.51,116.08 L209.98,115.1 L208.45,114.14 L206.93,113.37 L205.4,112.55 L203.88,111.8 L202.35,110.75 L200.82,109.91 L199.3,109.18 L197.77,108.48 L196.24,107.98 L194.72,107.35 L193.19,106.75 L191.67,106.13 L190.14,105.44 L188.61,104.83 L187.09,104.38 L185.56,103.74 L184.04,103.15 L182.51,102.6 L180.98,102.14 L179.46,101.66 L177.93,101.25 L176.41,100.79 L174.88,100.27 L173.35,99.74 L171.83,99.36 L170.3,98.87 L168.77,98.64 L167.25,98.22 L165.72,97.86 L164.2,97.63 L162.67,97.38 L161.14,96.91 L159.62,96.74 L158.09,96.24 L156.57,95.92 L155.04,95.65 L153.51,95.36 L151.99,95.19 L150.46,95.22 L148.94,95.38 L147.41,95.67 L145.88,95.87 L144.36,95.87 L142.83,96.05 L141.3,96.28 L139.78,96.5 L138.25,96.58 L136.73,96.8 L135.2,97.13 L133.67,97.27 L132.15,97.68 L130.62,97.94 L129.1,98.36 L127.57,98.66 L126.04,99.01 L124.52,99.37 L122.99,100.05 L121.47,100.36 L119.94,100.86 L118.41,101.3 L116.89,101.96 L115.36,102.32 L113.84,102.82 L112.31,103.36 L110.78,103.83 L109.26,104.2 L107.73,104.64 L106.2,105.15 L104.68,105.98 L103.15,106.53 L101.63,107.06 L100.1,107.74 L98.57,108.62 L97.05,109.42 L95.52,110.23 L94,110.91 L92.47,111.61 L90.94,112.42 L89.42,113.33 L87.89,114.21 L86.37,115.06 L84.84,115.9 L83.31,116.68 L81.79,117.74 L80.26,118.55 L78.73,119.26 L77.21,119.96 L75.68,120.77 L74.16,121.64 L72.63,122.42 L71.1,123.21 L69.58,124.05 L68.05,124.93 L66.53,125.61 L65,126.35 Z" fill="rgba(40,150,220,0.40)" stroke="none"/>
<path d="M65,122.55 L66.53,121.81 L68.05,121.13 L69.58,120.25 L71.1,119.41 L72.63,118.62 L74.16,117.84 L75.68,116.97 L77.21,116.16 L78.73,115.46 L80.26,114.75 L81.79,113.94 L83.31,112.88 L84.84,112.1 L86.37,111.26 L87.89,110.41 L89.42,109.53 L90.94,108.62 L92.47,107.81 L94,107.11 L95.52,106.43 L97.05,105.62 L98.57,104.82 L100.1,103.94 L101.63,103.26 L103.15,102.73 L104.68,102.18 L106.2,101.35 L107.73,100.84 L109.26,100.4 L110.78,100.03 L112.31,99.56 L113.84,99.02 L115.36,98.52 L116.89,98.16 L118.41,97.5 L119.94,97.06 L121.47,96.56 L122.99,96.25 L124.52,95.57 L126.04,95.21 L127.57,94.86 L129.1,94.56 L130.62,94.14 L132.15,93.88 L133.67,93.47 L135.2,93.33 L136.73,93 L138.25,92.78 L139.78,92.7 L141.3,92.48 L142.83,92.25 L144.36,92.07 L145.88,92.07 L147.41,91.87 L148.94,91.58 L150.46,91.42 L151.99,91.39 L153.51,91.56 L155.04,91.85 L156.57,92.12 L158.09,92.44 L159.62,92.94 L161.14,93.11 L162.67,93.58 L164.2,93.83 L165.72,94.06 L167.25,94.42 L168.77,94.84 L170.3,95.07 L171.83,95.56 L173.35,95.94 L174.88,96.47 L176.41,96.99 L177.93,97.45 L179.46,97.86 L180.98,98.34 L182.51,98.8 L184.04,99.35 L185.56,99.94 L187.09,100.58 L188.61,101.03 L190.14,101.64 L191.67,102.33 L193.19,102.95 L194.72,103.55 L196.24,104.18 L197.77,104.68 L199.3,105.38 L200.82,106.11 L202.35,106.95 L203.88,108 L205.4,108.75 L206.93,109.57 L208.45,110.34 L209.98,111.3 L211.51,112.28 L213.03,113.04 L214.56,113.91 L216.08,114.83 L217.61,115.88 L219.14,117.18 L220.66,118.15 L222.19,119.34 L223.71,120.65 L225.24,121.61 L226.77,122.76 L228.29,123.98 L229.82,125.12 L231.34,126.27 L232.87,127.32 L234.4,128.37 L235.92,129.61 L237.45,130.93 L238.98,132.02 L240.5,133.28 L242.03,134.58 L243.55,135.73 L245.08,136.87 L246.61,138.02 L248.13,139 L249.66,139.85 L251.18,140.76 L252.71,141.62 L254.24,142.68 L255.76,143.56 L257.29,144.46 L258.81,145.38 L260.34,146.59 L261.87,147.48 L263.39,148.4 L264.92,149.23 L266.45,150.13 L267.97,151.03 L269.5,151.94 L271.02,152.75 L272.55,153.82 L274.08,154.73 L275.6,155.63 L277.13,156.57 L278.65,157.53 L280.18,158.35 L281.71,159.18 L283.23,159.92 L284.76,160.91 L286.28,161.81 L287.81,162.69 L289.34,163.46 L290.86,164.5 L292.39,165.59 L293.91,166.52 L295.44,167.39 L296.97,168.33 L298.49,169.2 L300.02,170.16 L301.55,171 L303.07,171.82 L304.6,172.7 L306.12,173.5 L307.65,174.47 L309.18,175.61 L310.7,176.53 L312.23,177.5 L313.75,178.4 L315.28,179.37 L316.81,180.25 L318.33,181.18 L319.86,181.88 L321.38,182.89 L322.91,183.73 L324.44,184.54 L325.96,185.32 L327.49,186.36 L329.02,186.98 L330.54,187.82 L332.07,188.48 L333.59,189.12 L335.12,190.05 L336.65,190.88 L338.17,191.56 L339.7,192.48 L341.22,193.15 L342.75,193.9 L344.28,194.89 L345.8,195.55 L347.33,195.99 L348.85,196.38 L350.38,196.84 L351.91,197.66 L353.43,198.26 L354.96,198.72 L356.48,199.31 L358.01,200.03 L359.54,200.93 L361.06,201.68 L362.59,202.21 L364.12,202.85 L365.64,203.38 L367.17,203.92 L368.69,204.51 L370.22,205.14 L371.75,205.82 L373.27,206.24 L374.8,206.53 L376.32,207.05 L377.85,207.54 L379.38,208.16 L380.9,208.62 L382.43,208.81 L383.95,209.28 L385.48,210.04 L387.01,210.44 L388.53,210.95 L390.06,211.3 L391.59,211.72 L393.11,212.3 L394.64,212.88 L396.16,213.28 L397.69,213.72 L399.22,214.07 L400.74,214.51 L402.27,214.87 L403.79,215.31 L405.32,215.59 L406.85,215.82 L408.37,216.19 L409.9,216.46 L411.42,216.83 L412.95,217.01 L414.48,217.27 L416,217.55 L417.53,217.8 L419.05,217.93 L420.58,218.13 L422.11,218.24 L423.63,218.25 L425.16,218.26 L426.69,218.32 L428.21,218.25 L429.74,218.22 L431.26,218.19 L432.79,217.98 L434.32,217.76 L435.84,217.36 L437.37,216.89 L438.89,216.51 L440.42,215.92 L441.95,215.43 L443.47,214.9 L445,214.61 L446.52,214.21 L448.05,213.9 L449.58,213.47 L451.1,213.18 L452.63,212.73 L454.16,212.47 L455.68,211.98 L457.21,211.65 L458.73,211.13 L460.26,210.64 L461.79,210.36 L463.31,209.76 L464.84,209.23 L466.36,208.71 L467.89,208.13 L469.42,207.49 L470.94,206.95 L472.47,206.4 L473.99,205.96 L475.52,205.35 L477.05,204.83 L478.57,204.3 L480.1,203.75 L481.62,203.19 L483.15,202.55 L484.68,201.93 L486.2,201.33 L487.73,200.82 L489.26,200.23 L490.78,199.79 L492.31,199.48 L493.83,199.03 L495.36,198.65 L496.89,198.15 L498.41,197.55 L499.94,196.87 L501.46,196.28 L502.99,195.37 L504.52,194.65 L506.04,194.01 L507.57,193.54 L509.09,193.05 L510.62,192.48 L512.15,191.91 L513.67,191.38 L515.2,190.84 L516.73,190.1 L518.25,189.35 L519.78,188.79 L521.3,188.24 L522.83,187.67 L524.36,187.02 L525.88,186.17 L527.41,185.53 L528.93,184.82 L530.46,183.75 L531.99,182.87 L533.51,181.71 L535.04,180.83 L536.56,180.07 L538.09,179.07 L539.62,177.99 L541.14,177.01 L542.67,176.12 L544.2,175.38 L545.72,174.52 L547.25,173.51 L548.77,172.46 L550.3,171.69 L551.83,170.83 L553.35,169.81 L554.88,168.82 L556.4,167.59 L557.93,166.57 L559.46,165.66 L560.98,164.54 L562.51,163.65 L564.03,162.69 L565.56,161.46 L567.09,160.6 L568.61,159.61 L570.14,158.62 L571.66,157.46 L573.19,156.2 L574.72,155.19 L576.24,154.37 L577.77,153.38 L579.3,152.19 L580.82,151.3 L582.35,150.12 L583.87,149.19 L585.4,148.27 L586.93,147.17 L588.45,146.14 L589.98,145.12 L591.5,144.02 L593.03,143.09 L594.56,142.07 L596.08,140.82 L597.61,139.67 L599.13,138.64 L600.66,137.54 L602.19,136.28 L603.71,135.3 L605.24,134.16 L606.77,133.11 L608.29,132.19 L609.82,131.01 L611.34,130 L612.87,128.93 L614.4,127.82 L615.92,126.85 L617.45,125.72 L618.97,124.61 L620.5,123.56" fill="none" stroke="#0072bd" stroke-width="1.9" stroke-linejoin="round"/>
<path d="M65,84.64 L66.53,83.8 L68.05,82.9 L69.58,82.07 L71.1,81.23 L72.63,80.25 L74.16,79.53 L75.68,78.85 L77.21,78.18 L78.73,77.45 L80.26,76.74 L81.79,75.92 L83.31,75.06 L84.84,74.07 L86.37,73.11 L87.89,72.4 L89.42,71.57 L90.94,70.72 L92.47,70.08 L94,69.32 L95.52,68.64 L97.05,67.76 L98.57,66.78 L100.1,65.97 L101.63,65.46 L103.15,64.59 L104.68,63.84 L106.2,63.17 L107.73,62.6 L109.26,61.9 L110.78,61.32 L112.31,60.62 L113.84,60.09 L115.36,59.68 L116.89,59.07 L118.41,58.41 L119.94,58.14 L121.47,57.71 L122.99,57.03 L124.52,56.54 L126.04,56.03 L127.57,55.74 L129.1,55.48 L130.62,54.92 L132.15,54.46 L133.67,54.24 L135.2,53.88 L136.73,53.4 L138.25,52.81 L139.78,52.46 L141.3,52.12 L142.83,51.91 L144.36,51.77 L145.88,51.65 L147.41,51.65 L148.94,51.85 L150.46,52.12 L151.99,52.42 L153.51,52.76 L155.04,53.06 L156.57,53.35 L158.09,53.8 L159.62,54.03 L161.14,54.3 L162.67,54.58 L164.2,54.73 L165.72,54.89 L167.25,55.21 L168.77,55.32 L170.3,55.7 L171.83,55.85 L173.35,56.35 L174.88,56.92 L176.41,57.38 L177.93,57.84 L179.46,58.35 L180.98,58.91 L182.51,59.42 L184.04,59.61 L185.56,60 L187.09,60.42 L188.61,60.65 L190.14,61.02 L191.67,61.19 L193.19,61.68 L194.72,62.26 L196.24,62.81 L197.77,63.46 L199.3,64.01 L200.82,64.56 L202.35,65.29 L203.88,65.82 L205.4,66.6 L206.93,67.19 L208.45,67.81 L209.98,68.67 L211.51,69.63 L213.03,70.61 L214.56,71.73 L216.08,72.58 L217.61,73.52 L219.14,74.4 L220.66,75.38 L222.19,76.16 L223.71,77.02 L225.24,77.72 L226.77,78.57 L228.29,79.45 L229.82,80.53 L231.34,81.34 L232.87,82.36 L234.4,83.29 L235.92,84.41 L237.45,85.41 L238.98,86.42 L240.5,87.35 L242.03,88.59 L243.55,89.69 L245.08,90.57 L246.61,91.36 L248.13,92.44 L249.66,93.54 L251.18,94.6 L252.71,95.59 L254.24,96.55 L255.76,97.6 L257.29,98.91 L258.81,99.99 L260.34,101.03 L261.87,101.98 L263.39,103.02 L264.92,104.11 L266.45,105.4 L267.97,106.4 L269.5,107.46 L271.02,108.47 L272.55,109.82 L274.08,110.94 L275.6,112.06 L277.13,113.03 L278.65,114.12 L280.18,115.43 L281.71,116.46 L283.23,117.41 L284.76,118.6 L286.28,119.89 L287.81,121.09 L289.34,122.37 L290.86,123.43 L292.39,124.78 L293.91,125.97 L295.44,127.16 L296.97,128.2 L298.49,129.48 L300.02,130.47 L301.55,131.65 L303.07,132.63 L304.6,133.69 L306.12,134.78 L307.65,135.88 L309.18,136.98 L310.7,138.19 L312.23,139.44 L313.75,140.74 L315.28,141.97 L316.81,143.13 L318.33,144.45 L319.86,145.52 L321.38,146.81 L322.91,148 L324.44,149.2 L325.96,150.41 L327.49,151.45 L329.02,152.5 L330.54,153.5 L332.07,154.22 L333.59,155 L335.12,155.82 L336.65,156.92 L338.17,157.91 L339.7,158.67 L341.22,159.56 L342.75,160.69 L344.28,161.49 L345.8,162.32 L347.33,162.93 L348.85,163.67 L350.38,164.49 L351.91,165.31 L353.43,166.07 L354.96,166.96 L356.48,167.52 L358.01,168.38 L359.54,169 L361.06,169.7 L362.59,170.21 L364.12,170.7 L365.64,171.13 L367.17,171.82 L368.69,172.19 L370.22,172.75 L371.75,173.05 L373.27,173.59 L374.8,174.1 L376.32,174.6 L377.85,175.01 L379.38,175.34 L380.9,175.7 L382.43,176.11 L383.95,176.42 L385.48,176.88 L387.01,177.18 L388.53,177.59 L390.06,177.91 L391.59,178.37 L393.11,178.93 L394.64,179.31 L396.16,179.5 L397.69,179.72 L399.22,180.09 L400.74,180.45 L402.27,180.47 L403.79,180.61 L405.32,180.83 L406.85,180.97 L408.37,181.21 L409.9,181.13 L411.42,181.13 L412.95,181.36 L414.48,181.35 L416,181.33 L417.53,181.55 L419.05,181.58 L420.58,181.67 L422.11,181.72 L423.63,181.79 L425.16,181.93 L426.69,182.05 L428.21,181.95 L429.74,181.81 L431.26,181.76 L432.79,181.67 L434.32,181.46 L435.84,181.22 L437.37,180.8 L438.89,180.77 L440.42,180.58 L441.95,180.39 L443.47,180.25 L445,180.05 L446.52,179.74 L448.05,179.38 L449.58,178.72 L451.1,178.54 L452.63,178.11 L454.16,177.61 L455.68,176.99 L457.21,176.72 L458.73,176.65 L460.26,176.29 L461.79,175.83 L463.31,175.5 L464.84,175.08 L466.36,174.84 L467.89,174.33 L469.42,173.89 L470.94,173.62 L472.47,173.17 L473.99,172.67 L475.52,172.31 L477.05,171.79 L478.57,171.15 L480.1,170.68 L481.62,170.01 L483.15,169.48 L484.68,169.02 L486.2,168.33 L487.73,167.86 L489.26,167.42 L490.78,166.72 L492.31,166.17 L493.83,165.47 L495.36,164.6 L496.89,164.02 L498.41,163.24 L499.94,162.61 L501.46,161.96 L502.99,161.2 L504.52,160.57 L506.04,160.16 L507.57,159.57 L509.09,158.95 L510.62,158.18 L512.15,157.38 L513.67,156.66 L515.2,155.94 L516.73,155.04 L518.25,154.19 L519.78,153.27 L521.3,152.29 L522.83,151.35 L524.36,150.51 L525.88,149.74 L527.41,149.02 L528.93,148.07 L530.46,147.17 L531.99,146.51 L533.51,145.81 L535.04,144.83 L536.56,143.9 L538.09,142.89 L539.62,142.15 L541.14,141.37 L542.67,140.42 L544.2,139.44 L545.72,138.51 L547.25,137.41 L548.77,136.35 L550.3,135.31 L551.83,134.18 L553.35,132.96 L554.88,131.97 L556.4,131.13 L557.93,130.24 L559.46,129.36 L560.98,128.12 L562.51,127.11 L564.03,126.15 L565.56,125.04 L567.09,123.71 L568.61,122.53 L570.14,121.41 L571.66,120.41 L573.19,119.43 L574.72,118.53 L576.24,117.49 L577.77,116.7 L579.3,115.72 L580.82,114.66 L582.35,113.69 L583.87,112.57 L585.4,111.48 L586.93,110.34 L588.45,109.08 L589.98,107.95 L591.5,106.74 L593.03,105.63 L594.56,104.64 L596.08,103.42 L597.61,102.35 L599.13,101.36 L600.66,100.24 L602.19,99.04 L603.71,97.76 L605.24,96.66 L606.77,95.56 L608.29,94.24 L609.82,92.92 L611.34,91.73 L612.87,90.65 L614.4,89.68 L615.92,88.46 L617.45,87.35 L618.97,86.31 L620.5,85.37 L620.5,93.97 L618.97,94.91 L617.45,95.95 L615.92,97.06 L614.4,98.28 L612.87,99.25 L611.34,100.33 L609.82,101.52 L608.29,102.84 L606.77,104.16 L605.24,105.26 L603.71,106.36 L602.19,107.64 L600.66,108.84 L599.13,109.96 L597.61,110.95 L596.08,112.02 L594.56,113.24 L593.03,114.23 L591.5,115.34 L589.98,116.55 L588.45,117.68 L586.93,118.94 L585.4,120.08 L583.87,121.17 L582.35,122.29 L580.82,123.26 L579.3,124.32 L577.77,125.3 L576.24,126.09 L574.72,127.13 L573.19,128.03 L571.66,129.01 L570.14,130.01 L568.61,131.13 L567.09,132.31 L565.56,133.64 L564.03,134.75 L562.51,135.71 L560.98,136.72 L559.46,137.96 L557.93,138.84 L556.4,139.73 L554.88,140.57 L553.35,141.56 L551.83,142.78 L550.3,143.91 L548.77,144.95 L547.25,146.01 L545.72,147.11 L544.2,148.04 L542.67,149.02 L541.14,149.97 L539.62,150.75 L538.09,151.49 L536.56,152.5 L535.04,153.43 L533.51,154.41 L531.99,155.11 L530.46,155.77 L528.93,156.67 L527.41,157.62 L525.88,158.34 L524.36,159.11 L522.83,159.95 L521.3,160.89 L519.78,161.87 L518.25,162.79 L516.73,163.64 L515.2,164.54 L513.67,165.26 L512.15,165.98 L510.62,166.78 L509.09,167.55 L507.57,168.17 L506.04,168.76 L504.52,169.17 L502.99,169.8 L501.46,170.56 L499.94,171.21 L498.41,171.84 L496.89,172.62 L495.36,173.2 L493.83,174.07 L492.31,174.77 L490.78,175.32 L489.26,176.02 L487.73,176.46 L486.2,176.93 L484.68,177.62 L483.15,178.08 L481.62,178.61 L480.1,179.28 L478.57,179.75 L477.05,180.39 L475.52,180.91 L473.99,181.27 L472.47,181.77 L470.94,182.22 L469.42,182.49 L467.89,182.93 L466.36,183.44 L464.84,183.68 L463.31,184.1 L461.79,184.43 L460.26,184.89 L458.73,185.25 L457.21,185.32 L455.68,185.59 L454.16,186.21 L452.63,186.71 L451.1,187.14 L449.58,187.32 L448.05,187.98 L446.52,188.34 L445,188.65 L443.47,188.85 L441.95,188.99 L440.42,189.18 L438.89,189.37 L437.37,189.4 L435.84,189.82 L434.32,190.06 L432.79,190.27 L431.26,190.36 L429.74,190.41 L428.21,190.55 L426.69,190.65 L425.16,190.53 L423.63,190.39 L422.11,190.32 L420.58,190.27 L419.05,190.18 L417.53,190.15 L416,189.93 L414.48,189.95 L412.95,189.96 L411.42,189.73 L409.9,189.73 L408.37,189.81 L406.85,189.57 L405.32,189.43 L403.79,189.21 L402.27,189.07 L400.74,189.05 L399.22,188.69 L397.69,188.32 L396.16,188.1 L394.64,187.91 L393.11,187.53 L391.59,186.97 L390.06,186.51 L388.53,186.19 L387.01,185.78 L385.48,185.48 L383.95,185.02 L382.43,184.71 L380.9,184.3 L379.38,183.94 L377.85,183.61 L376.32,183.2 L374.8,182.7 L373.27,182.19 L371.75,181.65 L370.22,181.35 L368.69,180.79 L367.17,180.42 L365.64,179.73 L364.12,179.3 L362.59,178.81 L361.06,178.3 L359.54,177.6 L358.01,176.98 L356.48,176.12 L354.96,175.56 L353.43,174.67 L351.91,173.91 L350.38,173.09 L348.85,172.27 L347.33,171.53 L345.8,170.92 L344.28,170.09 L342.75,169.29 L341.22,168.16 L339.7,167.27 L338.17,166.51 L336.65,165.52 L335.12,164.42 L333.59,163.6 L332.07,162.82 L330.54,162.1 L329.02,161.1 L327.49,160.05 L325.96,159.01 L324.44,157.8 L322.91,156.6 L321.38,155.41 L319.86,154.12 L318.33,153.05 L316.81,151.73 L315.28,150.57 L313.75,149.34 L312.23,148.04 L310.7,146.79 L309.18,145.58 L307.65,144.48 L306.12,143.38 L304.6,142.29 L303.07,141.23 L301.55,140.25 L300.02,139.07 L298.49,138.08 L296.97,136.8 L295.44,135.76 L293.91,134.57 L292.39,133.38 L290.86,132.03 L289.34,130.97 L287.81,129.69 L286.28,128.49 L284.76,127.2 L283.23,126.01 L281.71,125.06 L280.18,124.03 L278.65,122.72 L277.13,121.63 L275.6,120.66 L274.08,119.54 L272.55,118.42 L271.02,117.07 L269.5,116.06 L267.97,115 L266.45,114 L264.92,112.71 L263.39,111.62 L261.87,110.58 L260.34,109.63 L258.81,108.59 L257.29,107.51 L255.76,106.2 L254.24,105.15 L252.71,104.19 L251.18,103.2 L249.66,102.14 L248.13,101.04 L246.61,99.96 L245.08,99.17 L243.55,98.29 L242.03,97.19 L240.5,95.95 L238.98,95.02 L237.45,94.01 L235.92,93.01 L234.4,91.89 L232.87,90.96 L231.34,89.94 L229.82,89.13 L228.29,88.05 L226.77,87.17 L225.24,86.32 L223.71,85.62 L222.19,84.76 L220.66,83.98 L219.14,83 L217.61,82.12 L216.08,81.18 L214.56,80.33 L213.03,79.21 L211.51,78.23 L209.98,77.27 L208.45,76.41 L206.93,75.79 L205.4,75.2 L203.88,74.42 L202.35,73.89 L200.82,73.16 L199.3,72.61 L197.77,72.06 L196.24,71.41 L194.72,70.86 L193.19,70.28 L191.67,69.79 L190.14,69.62 L188.61,69.25 L187.09,69.02 L185.56,68.6 L184.04,68.21 L182.51,68.02 L180.98,67.51 L179.46,66.95 L177.93,66.44 L176.41,65.98 L174.88,65.52 L173.35,64.95 L171.83,64.45 L170.3,64.3 L168.77,63.92 L167.25,63.81 L165.72,63.49 L164.2,63.33 L162.67,63.18 L161.14,62.9 L159.62,62.63 L158.09,62.4 L156.57,61.95 L155.04,61.66 L153.51,61.36 L151.99,61.02 L150.46,60.72 L148.94,60.45 L147.41,60.25 L145.88,60.25 L144.36,60.37 L142.83,60.51 L141.3,60.72 L139.78,61.06 L138.25,61.41 L136.73,62 L135.2,62.48 L133.67,62.84 L132.15,63.06 L130.62,63.52 L129.1,64.08 L127.57,64.34 L126.04,64.63 L124.52,65.14 L122.99,65.63 L121.47,66.31 L119.94,66.74 L118.41,67.01 L116.89,67.67 L115.36,68.28 L113.84,68.69 L112.31,69.22 L110.78,69.92 L109.26,70.5 L107.73,71.2 L106.2,71.77 L104.68,72.44 L103.15,73.19 L101.63,74.06 L100.1,74.57 L98.57,75.38 L97.05,76.36 L95.52,77.24 L94,77.92 L92.47,78.68 L90.94,79.32 L89.42,80.17 L87.89,81 L86.37,81.71 L84.84,82.67 L83.31,83.66 L81.79,84.52 L80.26,85.34 L78.73,86.05 L77.21,86.78 L75.68,87.45 L74.16,88.13 L72.63,88.85 L71.1,89.83 L69.58,90.67 L68.05,91.5 L66.53,92.4 L65,93.24 Z" fill="rgba(200,30,60,0.30)" stroke="none"/>
<path d="M65,88.94 L66.53,88.1 L68.05,87.2 L69.58,86.37 L71.1,85.53 L72.63,84.55 L74.16,83.83 L75.68,83.15 L77.21,82.48 L78.73,81.75 L80.26,81.04 L81.79,80.22 L83.31,79.36 L84.84,78.37 L86.37,77.41 L87.89,76.7 L89.42,75.87 L90.94,75.02 L92.47,74.38 L94,73.62 L95.52,72.94 L97.05,72.06 L98.57,71.08 L100.1,70.27 L101.63,69.76 L103.15,68.89 L104.68,68.14 L106.2,67.47 L107.73,66.9 L109.26,66.2 L110.78,65.62 L112.31,64.92 L113.84,64.39 L115.36,63.98 L116.89,63.37 L118.41,62.71 L119.94,62.44 L121.47,62.01 L122.99,61.33 L124.52,60.84 L126.04,60.33 L127.57,60.04 L129.1,59.78 L130.62,59.22 L132.15,58.76 L133.67,58.54 L135.2,58.18 L136.73,57.7 L138.25,57.11 L139.78,56.76 L141.3,56.42 L142.83,56.21 L144.36,56.07 L145.88,55.95 L147.41,55.95 L148.94,56.15 L150.46,56.42 L151.99,56.72 L153.51,57.06 L155.04,57.36 L156.57,57.65 L158.09,58.1 L159.62,58.33 L161.14,58.6 L162.67,58.88 L164.2,59.03 L165.72,59.19 L167.25,59.51 L168.77,59.62 L170.3,60 L171.83,60.15 L173.35,60.65 L174.88,61.22 L176.41,61.68 L177.93,62.14 L179.46,62.65 L180.98,63.21 L182.51,63.72 L184.04,63.91 L185.56,64.3 L187.09,64.72 L188.61,64.95 L190.14,65.32 L191.67,65.49 L193.19,65.98 L194.72,66.56 L196.24,67.11 L197.77,67.76 L199.3,68.31 L200.82,68.86 L202.35,69.59 L203.88,70.12 L205.4,70.9 L206.93,71.49 L208.45,72.11 L209.98,72.97 L211.51,73.93 L213.03,74.91 L214.56,76.03 L216.08,76.88 L217.61,77.82 L219.14,78.7 L220.66,79.68 L222.19,80.46 L223.71,81.32 L225.24,82.02 L226.77,82.87 L228.29,83.75 L229.82,84.83 L231.34,85.64 L232.87,86.66 L234.4,87.59 L235.92,88.71 L237.45,89.71 L238.98,90.72 L240.5,91.65 L242.03,92.89 L243.55,93.99 L245.08,94.87 L246.61,95.66 L248.13,96.74 L249.66,97.84 L251.18,98.9 L252.71,99.89 L254.24,100.85 L255.76,101.9 L257.29,103.21 L258.81,104.29 L260.34,105.33 L261.87,106.28 L263.39,107.32 L264.92,108.41 L266.45,109.7 L267.97,110.7 L269.5,111.76 L271.02,112.77 L272.55,114.12 L274.08,115.24 L275.6,116.36 L277.13,117.33 L278.65,118.42 L280.18,119.73 L281.71,120.76 L283.23,121.71 L284.76,122.9 L286.28,124.19 L287.81,125.39 L289.34,126.67 L290.86,127.73 L292.39,129.08 L293.91,130.27 L295.44,131.46 L296.97,132.5 L298.49,133.78 L300.02,134.77 L301.55,135.95 L303.07,136.93 L304.6,137.99 L306.12,139.08 L307.65,140.18 L309.18,141.28 L310.7,142.49 L312.23,143.74 L313.75,145.04 L315.28,146.27 L316.81,147.43 L318.33,148.75 L319.86,149.82 L321.38,151.11 L322.91,152.3 L324.44,153.5 L325.96,154.71 L327.49,155.75 L329.02,156.8 L330.54,157.8 L332.07,158.52 L333.59,159.3 L335.12,160.12 L336.65,161.22 L338.17,162.21 L339.7,162.97 L341.22,163.86 L342.75,164.99 L344.28,165.79 L345.8,166.62 L347.33,167.23 L348.85,167.97 L350.38,168.79 L351.91,169.61 L353.43,170.37 L354.96,171.26 L356.48,171.82 L358.01,172.68 L359.54,173.3 L361.06,174 L362.59,174.51 L364.12,175 L365.64,175.43 L367.17,176.12 L368.69,176.49 L370.22,177.05 L371.75,177.35 L373.27,177.89 L374.8,178.4 L376.32,178.9 L377.85,179.31 L379.38,179.64 L380.9,180 L382.43,180.41 L383.95,180.72 L385.48,181.18 L387.01,181.48 L388.53,181.89 L390.06,182.21 L391.59,182.67 L393.11,183.23 L394.64,183.61 L396.16,183.8 L397.69,184.02 L399.22,184.39 L400.74,184.75 L402.27,184.77 L403.79,184.91 L405.32,185.13 L406.85,185.27 L408.37,185.51 L409.9,185.43 L411.42,185.43 L412.95,185.66 L414.48,185.65 L416,185.63 L417.53,185.85 L419.05,185.88 L420.58,185.97 L422.11,186.02 L423.63,186.09 L425.16,186.23 L426.69,186.35 L428.21,186.25 L429.74,186.11 L431.26,186.06 L432.79,185.97 L434.32,185.76 L435.84,185.52 L437.37,185.1 L438.89,185.07 L440.42,184.88 L441.95,184.69 L443.47,184.55 L445,184.35 L446.52,184.04 L448.05,183.68 L449.58,183.02 L451.1,182.84 L452.63,182.41 L454.16,181.91 L455.68,181.29 L457.21,181.02 L458.73,180.95 L460.26,180.59 L461.79,180.13 L463.31,179.8 L464.84,179.38 L466.36,179.14 L467.89,178.63 L469.42,178.19 L470.94,177.92 L472.47,177.47 L473.99,176.97 L475.52,176.61 L477.05,176.09 L478.57,175.45 L480.1,174.98 L481.62,174.31 L483.15,173.78 L484.68,173.32 L486.2,172.63 L487.73,172.16 L489.26,171.72 L490.78,171.02 L492.31,170.47 L493.83,169.77 L495.36,168.9 L496.89,168.32 L498.41,167.54 L499.94,166.91 L501.46,166.26 L502.99,165.5 L504.52,164.87 L506.04,164.46 L507.57,163.87 L509.09,163.25 L510.62,162.48 L512.15,161.68 L513.67,160.96 L515.2,160.24 L516.73,159.34 L518.25,158.49 L519.78,157.57 L521.3,156.59 L522.83,155.65 L524.36,154.81 L525.88,154.04 L527.41,153.32 L528.93,152.37 L530.46,151.47 L531.99,150.81 L533.51,150.11 L535.04,149.13 L536.56,148.2 L538.09,147.19 L539.62,146.45 L541.14,145.67 L542.67,144.72 L544.2,143.74 L545.72,142.81 L547.25,141.71 L548.77,140.65 L550.3,139.61 L551.83,138.48 L553.35,137.26 L554.88,136.27 L556.4,135.43 L557.93,134.54 L559.46,133.66 L560.98,132.42 L562.51,131.41 L564.03,130.45 L565.56,129.34 L567.09,128.01 L568.61,126.83 L570.14,125.71 L571.66,124.71 L573.19,123.73 L574.72,122.83 L576.24,121.79 L577.77,121 L579.3,120.02 L580.82,118.96 L582.35,117.99 L583.87,116.87 L585.4,115.78 L586.93,114.64 L588.45,113.38 L589.98,112.25 L591.5,111.04 L593.03,109.93 L594.56,108.94 L596.08,107.72 L597.61,106.65 L599.13,105.66 L600.66,104.54 L602.19,103.34 L603.71,102.06 L605.24,100.96 L606.77,99.86 L608.29,98.54 L609.82,97.22 L611.34,96.03 L612.87,94.95 L614.4,93.98 L615.92,92.76 L617.45,91.65 L618.97,90.61 L620.5,89.67" fill="none" stroke="#b41b30" stroke-width="1.9" stroke-linejoin="round"/>
<path d="M112.31,267 v-5 M112.31,42.3 v5 M155.04,267 v-5 M155.04,42.3 v5 M202.35,267 v-5 M202.35,42.3 v5 M248.13,267 v-5 M248.13,42.3 v5 M295.44,267 v-5 M295.44,42.3 v5 M341.22,267 v-5 M341.22,42.3 v5 M388.53,267 v-5 M388.53,42.3 v5 M435.84,267 v-5 M435.84,42.3 v5 M481.62,267 v-5 M481.62,42.3 v5 M528.93,267 v-5 M528.93,42.3 v5 M574.72,267 v-5 M574.72,42.3 v5 M65,244.45 h5 M620.5,244.45 h-5 M65,199.45 h5 M620.5,199.45 h-5 M65,154.45 h5 M620.5,154.45 h-5 M65,109.45 h5 M620.5,109.45 h-5 M65,64.45 h5 M620.5,64.45 h-5" stroke="#999" stroke-width="1.3" fill="none"/>
<rect x="65" y="42.3" width="555.5" height="224.7" fill="none" stroke="#a2a2a2" stroke-width="1.4"/>
<g style="font-family:'Liberation Sans',sans-serif;font-size:19px" fill="#1a1a1a" stroke="#1a1a1a" stroke-width="0.3"><text x="58.5" y="251.45" text-anchor="end">24</text><text x="58.5" y="206.45" text-anchor="end">26</text><text x="58.5" y="161.45" text-anchor="end">28</text><text x="58.5" y="116.45" text-anchor="end">30</text><text x="58.5" y="71.45" text-anchor="end">32</text><text x="65" y="290.1" text-anchor="middle">J</text><text x="112.31" y="290.1" text-anchor="middle">F</text><text x="155.04" y="290.1" text-anchor="middle">M</text><text x="202.35" y="290.1" text-anchor="middle">A</text><text x="248.13" y="290.1" text-anchor="middle">M</text><text x="295.44" y="290.1" text-anchor="middle">J</text><text x="341.22" y="290.1" text-anchor="middle">J</text><text x="388.53" y="290.1" text-anchor="middle">A</text><text x="435.84" y="290.1" text-anchor="middle">S</text><text x="481.62" y="290.1" text-anchor="middle">O</text><text x="528.93" y="290.1" text-anchor="middle">N</text><text x="574.72" y="290.1" text-anchor="middle">D</text></g>
<text transform="translate(15.3,154.5) rotate(-90)" text-anchor="middle" style="font-family:'Liberation Sans',sans-serif;font-size:21px" fill="#1a1a1a" stroke="#1a1a1a" stroke-width="0.3"><tspan letter-spacing="-0.55">SST (°C)</tspan></text>
<text x="0" y="24" style="font-family:'Liberation Sans',sans-serif;font-size:30px;font-weight:bold" fill="#000">A</text>
<g stroke="#ededed" stroke-width="1"><line x1="843.03" y1="42.3" x2="843.03" y2="267"/><line x1="885.77" y1="42.3" x2="885.77" y2="267"/><line x1="933.1" y1="42.3" x2="933.1" y2="267"/><line x1="978.9" y1="42.3" x2="978.9" y2="267"/><line x1="1026.22" y1="42.3" x2="1026.22" y2="267"/><line x1="1072.02" y1="42.3" x2="1072.02" y2="267"/><line x1="1119.35" y1="42.3" x2="1119.35" y2="267"/><line x1="1166.68" y1="42.3" x2="1166.68" y2="267"/><line x1="1212.48" y1="42.3" x2="1212.48" y2="267"/><line x1="1259.8" y1="42.3" x2="1259.8" y2="267"/><line x1="1305.6" y1="42.3" x2="1305.6" y2="267"/><line x1="795.7" y1="256.3" x2="1351.4" y2="256.3"/><line x1="795.7" y1="205.23" x2="1351.4" y2="205.23"/><line x1="795.7" y1="154.15" x2="1351.4" y2="154.15"/><line x1="795.7" y1="103.08" x2="1351.4" y2="103.08"/><line x1="795.7" y1="52" x2="1351.4" y2="52"/></g>
<path d="M795.7,71.2 L843.03,104.39 L885.77,138.87 L933.1,182.28 L978.9,226.46 L1026.22,247.4 L1072.02,229.52 L1119.35,181 L1166.68,132.48 L1212.48,98.01 L1259.8,68.64 L1305.6,56.39 L1351.4,68.64 L1351.4,81.41 L1305.6,61.49 L1259.8,72.47 L1212.48,104.39 L1166.68,140.15 L1119.35,186.62 L1072.02,237.18 L1026.22,255.06 L978.9,232.08 L933.1,188.66 L885.77,146.53 L843.03,118.44 L795.7,85.24 Z" fill="rgba(95,85,100,0.27)" stroke="none"/>
<path d="M795.7,75.03 L843.03,109.5 L885.77,141.42 L933.1,184.83 L978.9,229.01 L1026.22,250.72 L1072.02,233.35 L1119.35,183.56 L1166.68,136.31 L1212.48,100.56 L1259.8,70.69 L1305.6,58.43 L1351.4,73.75" fill="none" stroke="#000000" stroke-width="1.9" stroke-linejoin="round"/>
<path d="M795.7,60.98 L843.03,85.24 L885.77,123.55 L933.1,174.62 L978.9,217.26 L1026.22,239.74 L1072.02,219.82 L1119.35,174.62 L1166.68,114.61 L1212.48,80.13 L1259.8,57.15 L1305.6,46.94 L1351.4,59.71 L1351.4,69.92 L1305.6,50.77 L1259.8,62.26 L1212.48,89.07 L1166.68,122.27 L1119.35,180.24 L1072.02,226.46 L1026.22,245.35 L978.9,223.9 L933.1,181 L885.77,133.76 L843.03,99.29 L795.7,72.47 Z" fill="rgba(40,150,220,0.40)" stroke="none"/>
<path d="M795.7,64.81 L843.03,91.63 L885.77,128.65 L933.1,177.17 L978.9,220.58 L1026.22,242.29 L1072.02,223.14 L1119.35,177.17 L1166.68,118.44 L1212.48,83.97 L1259.8,59.71 L1305.6,48.73 L1351.4,63.54" fill="none" stroke="#0072bd" stroke-width="1.9" stroke-linejoin="round"/>
<path d="M795.7,53.83 L843.03,78.86 L885.77,114.61 L933.1,170.79 L978.9,212.92 L1026.22,232.59 L1072.02,214.71 L1119.35,169.51 L1166.68,109.5 L1212.48,73.75 L1259.8,53.83 L1305.6,45.15 L1351.4,52.04 L1351.4,60.98 L1305.6,49.49 L1259.8,57.92 L1212.48,81.41 L1166.68,114.61 L1119.35,175.13 L1072.02,221.35 L1026.22,237.69 L978.9,219.31 L933.1,177.17 L885.77,126.1 L843.03,92.14 L795.7,63.03 Z" fill="rgba(200,30,60,0.30)" stroke="none"/>
<path d="M795.7,58.43 L843.03,86.01 L885.77,120.99 L933.1,173.34 L978.9,215.99 L1026.22,235.14 L1072.02,218.03 L1119.35,172.07 L1166.68,112.06 L1212.48,77.58 L1259.8,55.88 L1305.6,47.7 L1351.4,57.15" fill="none" stroke="#b41b30" stroke-width="1.9" stroke-linejoin="round"/>
<path d="M843.03,267 v-5 M843.03,42.3 v5 M885.77,267 v-5 M885.77,42.3 v5 M933.1,267 v-5 M933.1,42.3 v5 M978.9,267 v-5 M978.9,42.3 v5 M1026.22,267 v-5 M1026.22,42.3 v5 M1072.02,267 v-5 M1072.02,42.3 v5 M1119.35,267 v-5 M1119.35,42.3 v5 M1166.68,267 v-5 M1166.68,42.3 v5 M1212.48,267 v-5 M1212.48,42.3 v5 M1259.8,267 v-5 M1259.8,42.3 v5 M1305.6,267 v-5 M1305.6,42.3 v5 M795.7,256.3 h5 M1351.4,256.3 h-5 M795.7,205.23 h5 M1351.4,205.23 h-5 M795.7,154.15 h5 M1351.4,154.15 h-5 M795.7,103.08 h5 M1351.4,103.08 h-5 M795.7,52 h5 M1351.4,52 h-5" stroke="#999" stroke-width="1.3" fill="none"/>
<rect x="795.7" y="42.3" width="555.7" height="224.7" fill="none" stroke="#a2a2a2" stroke-width="1.4"/>
<g style="font-family:'Liberation Sans',sans-serif;font-size:19px" fill="#1a1a1a" stroke="#1a1a1a" stroke-width="0.3"><text x="789.2" y="263.3" text-anchor="end">25</text><text x="789.2" y="212.23" text-anchor="end">30</text><text x="789.2" y="161.15" text-anchor="end">35</text><text x="789.2" y="110.08" text-anchor="end">40</text><text x="789.2" y="59" text-anchor="end">45</text><text x="795.7" y="290.1" text-anchor="middle">J</text><text x="843.03" y="290.1" text-anchor="middle">F</text><text x="885.77" y="290.1" text-anchor="middle">M</text><text x="933.1" y="290.1" text-anchor="middle">A</text><text x="978.9" y="290.1" text-anchor="middle">M</text><text x="1026.22" y="290.1" text-anchor="middle">J</text><text x="1072.02" y="290.1" text-anchor="middle">J</text><text x="1119.35" y="290.1" text-anchor="middle">A</text><text x="1166.68" y="290.1" text-anchor="middle">S</text><text x="1212.48" y="290.1" text-anchor="middle">O</text><text x="1259.8" y="290.1" text-anchor="middle">N</text><text x="1305.6" y="290.1" text-anchor="middle">D</text></g>
<rect x="1125.2" y="192" width="215.8" height="67.1" fill="#fff" stroke="#a2a2a2" stroke-width="1.0"/>
<line x1="1129.3" y1="205.3" x2="1161" y2="205.3" stroke="#000000" stroke-width="3.6"/>
<text x="1164.3" y="210.6" style="font-family:'Liberation Sans',sans-serif;font-size:17.2px" fill="#1a1a1a" stroke="#1a1a1a" stroke-width="0.3">2001-2020</text>
<line x1="1129.3" y1="226.2" x2="1161" y2="226.2" stroke="#0072bd" stroke-width="3.6"/>
<text x="1164.3" y="231.5" style="font-family:'Liberation Sans',sans-serif;font-size:17.2px" fill="#1a1a1a" stroke="#1a1a1a" stroke-width="0.3">2081-2100 (SSP2-4.5)</text>
<line x1="1129.3" y1="246.9" x2="1161" y2="246.9" stroke="#b41b30" stroke-width="3.6"/>
<text x="1164.3" y="252.2" style="font-family:'Liberation Sans',sans-serif;font-size:17.2px" fill="#1a1a1a" stroke="#1a1a1a" stroke-width="0.3">2081-2100 (SSP5-8.5)</text>
<text transform="translate(737.3,155.3) rotate(-90)" text-anchor="middle" style="font-family:'Liberation Sans',sans-serif;font-size:21px" fill="#1a1a1a" stroke="#1a1a1a" stroke-width="0.3">PAR at 5 m (mol m<tspan dx="1.5" dy="-10" font-size="15.5">-2</tspan><tspan dy="10"> d</tspan><tspan dx="1.5" dy="-10" font-size="15.5">-1</tspan><tspan dy="10">)</tspan></text>
<text x="722" y="24" style="font-family:'Liberation Sans',sans-serif;font-size:30px;font-weight:bold" fill="#000">B</text>
<g stroke="#ededed" stroke-width="1"><line x1="112.31" y1="355.4" x2="112.31" y2="579.3"/><line x1="155.04" y1="355.4" x2="155.04" y2="579.3"/><line x1="202.35" y1="355.4" x2="202.35" y2="579.3"/><line x1="248.13" y1="355.4" x2="248.13" y2="579.3"/><line x1="295.44" y1="355.4" x2="295.44" y2="579.3"/><line x1="341.22" y1="355.4" x2="341.22" y2="579.3"/><line x1="388.53" y1="355.4" x2="388.53" y2="579.3"/><line x1="435.84" y1="355.4" x2="435.84" y2="579.3"/><line x1="481.62" y1="355.4" x2="481.62" y2="579.3"/><line x1="528.93" y1="355.4" x2="528.93" y2="579.3"/><line x1="574.72" y1="355.4" x2="574.72" y2="579.3"/><line x1="65" y1="568.1" x2="620.5" y2="568.1"/><line x1="65" y1="514.9" x2="620.5" y2="514.9"/><line x1="65" y1="461.7" x2="620.5" y2="461.7"/><line x1="65" y1="408.5" x2="620.5" y2="408.5"/></g>
<path d="M65,415.43 L112.31,376.94 L155.04,393.62 L202.35,424.42 L248.13,446.23 L295.44,472.66 L341.22,500.12 L388.53,527.06 L435.84,530.91 L481.62,530.91 L528.93,514.23 L574.72,479.59 L620.5,421.85 L620.5,452.64 L574.72,501.4 L528.93,529.63 L481.62,545.02 L435.84,545.02 L388.53,545.02 L341.22,524.49 L295.44,493.7 L248.13,473.17 L202.35,442.38 L155.04,424.42 L112.31,414.15 L65,459.06 Z" fill="rgba(95,85,100,0.27)" stroke="none"/>
<path d="M65,437.25 L112.31,394.91 L155.04,408.51 L202.35,432.11 L248.13,459.83 L295.44,482.92 L341.22,511.66 L388.53,534.76 L435.84,541.17 L481.62,539.38 L528.93,521.41 L574.72,491.13 L620.5,442.89" fill="none" stroke="#000000" stroke-width="1.9" stroke-linejoin="round"/>
<path d="M65,432.11 L112.31,394.91 L155.04,421.85 L202.35,433.4 L248.13,468.04 L295.44,493.7 L341.22,524.49 L388.53,527.06 L435.84,543.74 L481.62,539.89 L528.93,527.06 L574.72,498.83 L620.5,437.25 L620.5,462.91 L574.72,516.79 L528.93,541.17 L481.62,552.72 L435.84,557.85 L388.53,555.29 L341.22,548.87 L295.44,520.64 L248.13,491.13 L202.35,459.06 L155.04,450.08 L112.31,432.11 L65,462.91 Z" fill="rgba(40,150,220,0.40)" stroke="none"/>
<path d="M65,448.28 L112.31,414.15 L155.04,436.48 L202.35,448.28 L248.13,478.3 L295.44,506.53 L341.22,536.81 L388.53,541.17 L435.84,552.21 L481.62,546.3 L528.93,534.24 L574.72,507.81 L620.5,452.13" fill="none" stroke="#0072bd" stroke-width="1.9" stroke-linejoin="round"/>
<path d="M65,442.38 L112.31,424.93 L155.04,448.79 L202.35,457.78 L248.13,493.7 L295.44,533.47 L341.22,550.15 L388.53,552.72 L435.84,555.29 L481.62,547.59 L528.93,539.89 L574.72,510.38 L620.5,452.64 L620.5,480.87 L574.72,530.91 L528.93,551.44 L481.62,560.42 L435.84,569.4 L388.53,570.68 L341.22,571.97 L295.44,552.72 L248.13,520.64 L202.35,488.57 L155.04,483.44 L112.31,459.83 L65,478.3 Z" fill="rgba(200,30,60,0.30)" stroke="none"/>
<path d="M65,460.85 L112.31,441.87 L155.04,466.24 L202.35,473.17 L248.13,507.81 L295.44,541.94 L341.22,560.93 L388.53,561.96 L435.84,562.98 L481.62,552.72 L528.93,545.54 L574.72,520.13 L620.5,463.42" fill="none" stroke="#b41b30" stroke-width="1.9" stroke-linejoin="round"/>
<path d="M112.31,579.3 v-5 M112.31,355.4 v5 M155.04,579.3 v-5 M155.04,355.4 v5 M202.35,579.3 v-5 M202.35,355.4 v5 M248.13,579.3 v-5 M248.13,355.4 v5 M295.44,579.3 v-5 M295.44,355.4 v5 M341.22,579.3 v-5 M341.22,355.4 v5 M388.53,579.3 v-5 M388.53,355.4 v5 M435.84,579.3 v-5 M435.84,355.4 v5 M481.62,579.3 v-5 M481.62,355.4 v5 M528.93,579.3 v-5 M528.93,355.4 v5 M574.72,579.3 v-5 M574.72,355.4 v5 M65,568.1 h5 M620.5,568.1 h-5 M65,514.9 h5 M620.5,514.9 h-5 M65,461.7 h5 M620.5,461.7 h-5 M65,408.5 h5 M620.5,408.5 h-5 M65,355.3 h5 M620.5,355.3 h-5" stroke="#999" stroke-width="1.3" fill="none"/>
<rect x="65" y="355.4" width="555.5" height="223.9" fill="none" stroke="#a2a2a2" stroke-width="1.4"/>
<g style="font-family:'Liberation Sans',sans-serif;font-size:19px" fill="#1a1a1a" stroke="#1a1a1a" stroke-width="0.3"><text x="58.5" y="575.1" text-anchor="end">30</text><text x="58.5" y="521.9" text-anchor="end">40</text><text x="58.5" y="468.7" text-anchor="end">50</text><text x="58.5" y="415.5" text-anchor="end">60</text><text x="58.5" y="362.3" text-anchor="end">70</text><text x="65" y="602.4" text-anchor="middle">J</text><text x="112.31" y="602.4" text-anchor="middle">F</text><text x="155.04" y="602.4" text-anchor="middle">M</text><text x="202.35" y="602.4" text-anchor="middle">A</text><text x="248.13" y="602.4" text-anchor="middle">M</text><text x="295.44" y="602.4" text-anchor="middle">J</text><text x="341.22" y="602.4" text-anchor="middle">J</text><text x="388.53" y="602.4" text-anchor="middle">A</text><text x="435.84" y="602.4" text-anchor="middle">S</text><text x="481.62" y="602.4" text-anchor="middle">O</text><text x="528.93" y="602.4" text-anchor="middle">N</text><text x="574.72" y="602.4" text-anchor="middle">D</text></g>
<text transform="translate(21.8,466.5) rotate(-90)" text-anchor="middle" style="font-family:'Liberation Sans',sans-serif;font-size:21px" fill="#1a1a1a" stroke="#1a1a1a" stroke-width="0.3">cloud cover (%)</text>
<text x="5" y="342" style="font-family:'Liberation Sans',sans-serif;font-size:30px;font-weight:bold" fill="#000">C</text>
<g stroke="#ededed" stroke-width="1"><line x1="843.03" y1="355.4" x2="843.03" y2="579.3"/><line x1="885.77" y1="355.4" x2="885.77" y2="579.3"/><line x1="933.1" y1="355.4" x2="933.1" y2="579.3"/><line x1="978.9" y1="355.4" x2="978.9" y2="579.3"/><line x1="1026.22" y1="355.4" x2="1026.22" y2="579.3"/><line x1="1072.02" y1="355.4" x2="1072.02" y2="579.3"/><line x1="1119.35" y1="355.4" x2="1119.35" y2="579.3"/><line x1="1166.68" y1="355.4" x2="1166.68" y2="579.3"/><line x1="1212.48" y1="355.4" x2="1212.48" y2="579.3"/><line x1="1259.8" y1="355.4" x2="1259.8" y2="579.3"/><line x1="1305.6" y1="355.4" x2="1305.6" y2="579.3"/><line x1="795.7" y1="503.73" x2="1351.4" y2="503.73"/><line x1="795.7" y1="429.16" x2="1351.4" y2="429.16"/></g>
<path d="M795.7,440.3 L843.03,456.46 L885.77,470.06 L933.1,491.61 L978.9,520.6 L1026.22,540.35 L1072.02,543.69 L1119.35,519.32 L1166.68,441.07 L1212.48,378.73 L1259.8,389.76 L1305.6,417.21 L1351.4,437.22 L1351.4,447.49 L1305.6,428.25 L1259.8,406.95 L1212.48,403.87 L1166.68,478.27 L1119.35,535.99 L1072.02,551.39 L1026.22,547.54 L978.9,528.3 L933.1,501.87 L885.77,482.12 L843.03,466.73 L795.7,450.56 Z" fill="rgba(95,85,100,0.27)" stroke="none"/>
<path d="M795.7,444.92 L843.03,462.11 L885.77,476.99 L933.1,497.51 L978.9,524.45 L1026.22,543.69 L1072.02,547.54 L1119.35,527.01 L1166.68,455.18 L1212.48,391.05 L1259.8,398.23 L1305.6,423.11 L1351.4,442.36" fill="none" stroke="#000000" stroke-width="1.9" stroke-linejoin="round"/>
<path d="M795.7,465.44 L843.03,479.55 L885.77,494.95 L933.1,516.24 L978.9,537.79 L1026.22,555.23 L1072.02,561.65 L1119.35,554.72 L1166.68,509.06 L1212.48,439.79 L1259.8,432.09 L1305.6,447.49 L1351.4,462.88 L1351.4,474.42 L1305.6,459.03 L1259.8,447.49 L1212.48,464.16 L1166.68,530.86 L1119.35,562.42 L1072.02,567.55 L1026.22,562.42 L978.9,544.97 L933.1,526.5 L885.77,506.49 L843.03,489.82 L795.7,476.22 Z" fill="rgba(40,150,220,0.40)" stroke="none"/>
<path d="M795.7,470.06 L843.03,485.2 L885.77,501.36 L933.1,521.37 L978.9,541.12 L1026.22,559.08 L1072.02,564.21 L1119.35,558.31 L1166.68,519.32 L1212.48,452.62 L1259.8,439.79 L1305.6,452.62 L1351.4,469.29" fill="none" stroke="#0072bd" stroke-width="1.9" stroke-linejoin="round"/>
<path d="M795.7,478.27 L843.03,494.95 L885.77,510.34 L933.1,529.58 L978.9,550.1 L1026.22,564.21 L1072.02,568.57 L1119.35,565.5 L1166.68,537.28 L1212.48,471.86 L1259.8,450.05 L1305.6,460.31 L1351.4,476.99 L1351.4,484.68 L1305.6,469.29 L1259.8,464.16 L1212.48,489.82 L1166.68,547.02 L1119.35,570.11 L1072.02,571.91 L1026.22,567.55 L978.9,553.95 L933.1,535.22 L885.77,516.75 L843.03,501.36 L795.7,485.97 Z" fill="rgba(200,30,60,0.30)" stroke="none"/>
<path d="M795.7,482.12 L843.03,498.28 L885.77,513.42 L933.1,532.66 L978.9,551.9 L1026.22,565.5 L1072.02,570.11 L1119.35,567.55 L1166.68,541.12 L1212.48,479.55 L1259.8,457.75 L1305.6,464.93 L1351.4,480.84" fill="none" stroke="#b41b30" stroke-width="1.9" stroke-linejoin="round"/>
<path d="M843.03,579.3 v-5 M843.03,355.4 v5 M885.77,579.3 v-5 M885.77,355.4 v5 M933.1,579.3 v-5 M933.1,355.4 v5 M978.9,579.3 v-5 M978.9,355.4 v5 M1026.22,579.3 v-5 M1026.22,355.4 v5 M1072.02,579.3 v-5 M1072.02,355.4 v5 M1119.35,579.3 v-5 M1119.35,355.4 v5 M1166.68,579.3 v-5 M1166.68,355.4 v5 M1212.48,579.3 v-5 M1212.48,355.4 v5 M1259.8,579.3 v-5 M1259.8,355.4 v5 M1305.6,579.3 v-5 M1305.6,355.4 v5 M795.7,578.3 h5 M1351.4,578.3 h-5 M795.7,503.73 h5 M1351.4,503.73 h-5 M795.7,429.16 h5 M1351.4,429.16 h-5 M795.7,354.59 h5 M1351.4,354.59 h-5" stroke="#999" stroke-width="1.3" fill="none"/>
<rect x="795.7" y="355.4" width="555.7" height="223.9" fill="none" stroke="#a2a2a2" stroke-width="1.4"/>
<g style="font-family:'Liberation Sans',sans-serif;font-size:19px" fill="#1a1a1a" stroke="#1a1a1a" stroke-width="0.3"><text x="789.2" y="585.3" text-anchor="end">0.02</text><text x="789.2" y="510.73" text-anchor="end">0.03</text><text x="789.2" y="436.16" text-anchor="end">0.04</text><text x="789.2" y="361.59" text-anchor="end">0.05</text><text x="795.7" y="602.4" text-anchor="middle">J</text><text x="843.03" y="602.4" text-anchor="middle">F</text><text x="885.77" y="602.4" text-anchor="middle">M</text><text x="933.1" y="602.4" text-anchor="middle">A</text><text x="978.9" y="602.4" text-anchor="middle">M</text><text x="1026.22" y="602.4" text-anchor="middle">J</text><text x="1072.02" y="602.4" text-anchor="middle">J</text><text x="1119.35" y="602.4" text-anchor="middle">A</text><text x="1166.68" y="602.4" text-anchor="middle">S</text><text x="1212.48" y="602.4" text-anchor="middle">O</text><text x="1259.8" y="602.4" text-anchor="middle">N</text><text x="1305.6" y="602.4" text-anchor="middle">D</text></g>
<text transform="translate(736.4,467) rotate(-90)" text-anchor="middle" style="font-family:'Liberation Sans',sans-serif;font-size:21px" fill="#1a1a1a" stroke="#1a1a1a" stroke-width="0.3">k<tspan dy="9.3" font-size="16.3">490</tspan><tspan dy="-9.3"> (m</tspan><tspan dy="-10.5" font-size="15.5">-1</tspan><tspan dy="10.5">)</tspan></text>
<text x="721" y="342.6" style="font-family:'Liberation Sans',sans-serif;font-size:30px;font-weight:bold" fill="#000">D</text>
<g stroke="#ededed" stroke-width="1"><line x1="112.31" y1="666.8" x2="112.31" y2="892"/><line x1="155.04" y1="666.8" x2="155.04" y2="892"/><line x1="202.35" y1="666.8" x2="202.35" y2="892"/><line x1="248.13" y1="666.8" x2="248.13" y2="892"/><line x1="295.44" y1="666.8" x2="295.44" y2="892"/><line x1="341.22" y1="666.8" x2="341.22" y2="892"/><line x1="388.53" y1="666.8" x2="388.53" y2="892"/><line x1="435.84" y1="666.8" x2="435.84" y2="892"/><line x1="481.62" y1="666.8" x2="481.62" y2="892"/><line x1="528.93" y1="666.8" x2="528.93" y2="892"/><line x1="574.72" y1="666.8" x2="574.72" y2="892"/><line x1="65" y1="853.8" x2="620.5" y2="853.8"/><line x1="65" y1="807" x2="620.5" y2="807"/><line x1="65" y1="760.2" x2="620.5" y2="760.2"/><line x1="65" y1="713.4" x2="620.5" y2="713.4"/></g>
<svg x="65" y="666.8" width="555.5" height="225.2" viewBox="65 666.8 555.5 225.2" overflow="hidden">
<path d="M65,822.47 L66.53,825.11 L68.05,833.12 L69.58,834.16 L71.1,827.4 L72.63,817.43 L74.16,818.8 L75.68,809.73 L77.21,805.33 L78.73,800.72 L80.26,792.2 L81.79,806.59 L83.31,805.22 L84.84,805.42 L86.37,806.1 L87.89,809.25 L89.42,815.99 L90.94,829.92 L92.47,829.35 L94,815.43 L95.52,812.3 L97.05,818.04 L98.57,820.77 L100.1,823.48 L101.63,815.75 L103.15,810.26 L104.68,804.82 L106.2,801.82 L107.73,804.62 L109.26,806.72 L110.78,807.87 L112.31,801.81 L113.84,797.53 L115.36,789.44 L116.89,783.59 L118.41,784.56 L119.94,781.79 L121.47,780.36 L122.99,785.42 L124.52,783.81 L126.04,788.98 L127.57,795.58 L129.1,801.48 L130.62,812.92 L132.15,810.85 L133.67,803.86 L135.2,799.6 L136.73,789.85 L138.25,794.35 L139.78,801.52 L141.3,800.51 L142.83,797.87 L144.36,801.82 L145.88,795.95 L147.41,792.76 L148.94,802.47 L150.46,791.86 L151.99,792.08 L153.51,789.52 L155.04,786.12 L156.57,778.61 L158.09,772.14 L159.62,782.29 L161.14,784.04 L162.67,782.91 L164.2,780.47 L165.72,776.49 L167.25,770.23 L168.77,765.67 L170.3,772.85 L171.83,775.29 L173.35,780.79 L174.88,781.69 L176.41,794.83 L177.93,794.27 L179.46,786.61 L180.98,778.59 L182.51,772.17 L184.04,765.53 L185.56,770.72 L187.09,766.22 L188.61,754.97 L190.14,764.69 L191.67,752.01 L193.19,751.28 L194.72,755.86 L196.24,748.03 L197.77,743.94 L199.3,754.19 L200.82,763.48 L202.35,768.65 L203.88,771.24 L205.4,753.21 L206.93,747.77 L208.45,746.55 L209.98,750.78 L211.51,751.55 L213.03,749.85 L214.56,748.43 L216.08,745.11 L217.61,742.32 L219.14,737.15 L220.66,740.86 L222.19,740.86 L223.71,734 L225.24,729.06 L226.77,718.57 L228.29,701.85 L229.82,697.77 L231.34,688.92 L232.87,685.72 L234.4,701.78 L235.92,716.62 L237.45,723.96 L238.98,715.88 L240.5,718.51 L242.03,714.39 L243.55,715.63 L245.08,727.48 L246.61,721.19 L248.13,718.98 L249.66,722.83 L251.18,720.21 L252.71,725.12 L254.24,714.07 L255.76,711.49 L257.29,709.6 L258.81,713.98 L260.34,719.67 L261.87,712.31 L263.39,719.49 L264.92,707.72 L266.45,697.74 L267.97,702.79 L269.5,705.45 L271.02,715.7 L272.55,720.89 L274.08,721.84 L275.6,717.49 L277.13,722.32 L278.65,730.97 L280.18,735.29 L281.71,735.68 L283.23,728.28 L284.76,724.59 L286.28,734.85 L287.81,727.11 L289.34,715.63 L290.86,690.15 L292.39,683.38 L293.91,696.9 L295.44,713.63 L296.97,726.75 L298.49,740.87 L300.02,739.91 L301.55,739.47 L303.07,733.82 L304.6,738.56 L306.12,746.16 L307.65,743.05 L309.18,729.63 L310.7,726.38 L312.23,728.39 L313.75,739.96 L315.28,747.21 L316.81,757.59 L318.33,756.26 L319.86,747.54 L321.38,739.94 L322.91,730.78 L324.44,731.99 L325.96,727.42 L327.49,726.73 L329.02,734.81 L330.54,739.99 L332.07,738.87 L333.59,727.59 L335.12,715.56 L336.65,707.92 L338.17,719.75 L339.7,730.08 L341.22,746.8 L342.75,747.22 L344.28,736.88 L345.8,745.45 L347.33,743.24 L348.85,747.33 L350.38,759.39 L351.91,766.24 L353.43,765.71 L354.96,763.28 L356.48,763.12 L358.01,756.22 L359.54,764.11 L361.06,749.14 L362.59,753.76 L364.12,757.7 L365.64,753.34 L367.17,768.91 L368.69,753.57 L370.22,749.16 L371.75,750.52 L373.27,742.92 L374.8,738.85 L376.32,736.51 L377.85,735.81 L379.38,741.62 L380.9,748.66 L382.43,759.6 L383.95,760.6 L385.48,763.04 L387.01,766.72 L388.53,755.53 L390.06,745.37 L391.59,740.85 L393.11,740.41 L394.64,736.87 L396.16,744.03 L397.69,745.86 L399.22,738.95 L400.74,748.3 L402.27,752.26 L403.79,761.63 L405.32,769.38 L406.85,765.58 L408.37,775.62 L409.9,787.83 L411.42,788.48 L412.95,776.07 L414.48,759.19 L416,739.22 L417.53,735.64 L419.05,761.91 L420.58,768.09 L422.11,774.05 L423.63,774.85 L425.16,763.97 L426.69,766.14 L428.21,773.94 L429.74,775.6 L431.26,778.49 L432.79,785.07 L434.32,785.83 L435.84,777.47 L437.37,769.73 L438.89,770.32 L440.42,763.56 L441.95,760.99 L443.47,762.46 L445,748.75 L446.52,750.11 L448.05,756.1 L449.58,756.47 L451.1,764.68 L452.63,767.58 L454.16,768.59 L455.68,768.97 L457.21,770.51 L458.73,773.3 L460.26,766.32 L461.79,772.54 L463.31,778.04 L464.84,779.66 L466.36,790.95 L467.89,777.15 L469.42,773.89 L470.94,777.87 L472.47,771.82 L473.99,779.78 L475.52,789.88 L477.05,786.71 L478.57,787.21 L480.1,781.39 L481.62,772.88 L483.15,771.61 L484.68,773.61 L486.2,779.82 L487.73,774.25 L489.26,773.22 L490.78,774.01 L492.31,772.84 L493.83,785.83 L495.36,778.5 L496.89,761.9 L498.41,754.76 L499.94,758.39 L501.46,759.47 L502.99,772.59 L504.52,776.91 L506.04,782.71 L507.57,778.96 L509.09,779.83 L510.62,771.02 L512.15,771.41 L513.67,784.86 L515.2,788.16 L516.73,805.2 L518.25,806.28 L519.78,806.29 L521.3,802.48 L522.83,787.02 L524.36,797.53 L525.88,784.97 L527.41,784.18 L528.93,801.66 L530.46,807.75 L531.99,819.54 L533.51,817.79 L535.04,819.06 L536.56,797.44 L538.09,790.13 L539.62,787.34 L541.14,775.59 L542.67,790.38 L544.2,783.62 L545.72,776.17 L547.25,782.29 L548.77,785.73 L550.3,790.31 L551.83,801.02 L553.35,801.9 L554.88,791.09 L556.4,778.83 L557.93,790.64 L559.46,797.32 L560.98,818.21 L562.51,823.21 L564.03,808.42 L565.56,796.69 L567.09,786.53 L568.61,788.05 L570.14,789.26 L571.66,800.18 L573.19,803.34 L574.72,800.5 L576.24,797.91 L577.77,798.58 L579.3,797.42 L580.82,806.16 L582.35,814 L583.87,813.31 L585.4,814.47 L586.93,814.81 L588.45,821.88 L589.98,821.35 L591.5,817.85 L593.03,814.94 L594.56,798.99 L596.08,803.58 L597.61,805.47 L599.13,815.64 L600.66,819.36 L602.19,816.28 L603.71,807.65 L605.24,787.02 L606.77,785.43 L608.29,788.75 L609.82,807.44 L611.34,814.18 L612.87,818.43 L614.4,805.82 L615.92,793.45 L617.45,794.23 L618.97,805.17 L620.5,815.65 L620.5,854.73 L618.97,852.07 L617.45,844.36 L615.92,843.14 L614.4,842.88 L612.87,854.74 L611.34,861.41 L609.82,854.28 L608.29,861.82 L606.77,856.56 L605.24,853.63 L603.71,848.14 L602.19,846.15 L600.66,851.71 L599.13,858.41 L597.61,862.3 L596.08,869.84 L594.56,860.67 L593.03,849.39 L591.5,858.15 L589.98,844.71 L588.45,840.73 L586.93,842.16 L585.4,839.72 L583.87,850.98 L582.35,853.89 L580.82,848.19 L579.3,848.03 L577.77,838.57 L576.24,841.59 L574.72,855.88 L573.19,853.02 L571.66,859.36 L570.14,865 L568.61,856.56 L567.09,853.01 L565.56,857.1 L564.03,852.41 L562.51,854.73 L560.98,855.88 L559.46,847.49 L557.93,840.38 L556.4,844.96 L554.88,849.12 L553.35,848.09 L551.83,844.37 L550.3,825.88 L548.77,817.21 L547.25,817.12 L545.72,830.48 L544.2,837.75 L542.67,844.85 L541.14,841.01 L539.62,827.69 L538.09,839.93 L536.56,844.85 L535.04,842 L533.51,838.9 L531.99,835.2 L530.46,827.87 L528.93,823.46 L527.41,830.37 L525.88,836.91 L524.36,841.45 L522.83,843.2 L521.3,835.33 L519.78,836.51 L518.25,834.93 L516.73,823.54 L515.2,825.62 L513.67,817.53 L512.15,810.51 L510.62,817.89 L509.09,809.59 L507.57,809.39 L506.04,824.94 L504.52,805.43 L502.99,796.11 L501.46,790.21 L499.94,785.26 L498.41,790.31 L496.89,820.44 L495.36,831.97 L493.83,832.37 L492.31,819.84 L490.78,802.35 L489.26,804.39 L487.73,811.69 L486.2,818.34 L484.68,835.48 L483.15,827.61 L481.62,824.07 L480.1,822.54 L478.57,812.9 L477.05,814.38 L475.52,813.84 L473.99,817.89 L472.47,815.75 L470.94,813.73 L469.42,819 L467.89,820.94 L466.36,825.57 L464.84,818.07 L463.31,817.04 L461.79,811.03 L460.26,815.71 L458.73,820.29 L457.21,819.15 L455.68,814.66 L454.16,817.43 L452.63,816.77 L451.1,808.24 L449.58,802.7 L448.05,802.34 L446.52,795.01 L445,791.57 L443.47,806.88 L441.95,810.7 L440.42,827.38 L438.89,837.07 L437.37,834.5 L435.84,834.45 L434.32,824.16 L432.79,819.9 L431.26,823.65 L429.74,812.06 L428.21,824.62 L426.69,828.15 L425.16,811.42 L423.63,818.18 L422.11,811.89 L420.58,796.01 L419.05,802.84 L417.53,793.89 L416,798.38 L414.48,815.24 L412.95,821.76 L411.42,814.59 L409.9,821.67 L408.37,810.75 L406.85,789.59 L405.32,784.22 L403.79,771.89 L402.27,764.54 L400.74,763.46 L399.22,767.62 L397.69,774.08 L396.16,781.05 L394.64,789.41 L393.11,803.07 L391.59,787.39 L390.06,791.47 L388.53,796.53 L387.01,793.13 L385.48,809.75 L383.95,802 L382.43,791.84 L380.9,786.01 L379.38,778.25 L377.85,784.33 L376.32,786.11 L374.8,804.89 L373.27,805.8 L371.75,795.37 L370.22,794.21 L368.69,784.52 L367.17,785.15 L365.64,782.72 L364.12,776.04 L362.59,773.07 L361.06,771.62 L359.54,777.58 L358.01,789.28 L356.48,792.3 L354.96,798.94 L353.43,808.48 L351.91,801.87 L350.38,792.84 L348.85,780.88 L347.33,779.34 L345.8,778.37 L344.28,777.41 L342.75,789.17 L341.22,787.75 L339.7,773.19 L338.17,767.14 L336.65,759.16 L335.12,768.96 L333.59,776.33 L332.07,775.37 L330.54,775.84 L329.02,765.7 L327.49,759.61 L325.96,773.59 L324.44,776.57 L322.91,778.59 L321.38,789.05 L319.86,784.3 L318.33,781.68 L316.81,777.41 L315.28,771.26 L313.75,771.04 L312.23,773.67 L310.7,782.28 L309.18,779.94 L307.65,785.28 L306.12,791.1 L304.6,777.62 L303.07,782.51 L301.55,795.51 L300.02,804.64 L298.49,804.18 L296.97,779.3 L295.44,756.45 L293.91,734.74 L292.39,727.51 L290.86,723.58 L289.34,746.97 L287.81,761.94 L286.28,765.29 L284.76,766.35 L283.23,761.62 L281.71,770.52 L280.18,765.9 L278.65,764.94 L277.13,765.49 L275.6,759.41 L274.08,771.25 L272.55,777.45 L271.02,768.17 L269.5,754.74 L267.97,739.81 L266.45,731.9 L264.92,735.16 L263.39,742.56 L261.87,749.36 L260.34,744.53 L258.81,749.18 L257.29,752.2 L255.76,757.68 L254.24,767.2 L252.71,771.65 L251.18,766.05 L249.66,751.32 L248.13,755.47 L246.61,753.74 L245.08,757.39 L243.55,759.78 L242.03,756.61 L240.5,753.05 L238.98,748.71 L237.45,754.36 L235.92,745.43 L234.4,753.6 L232.87,747.76 L231.34,732.95 L229.82,740.6 L228.29,742.7 L226.77,751.83 L225.24,776.05 L223.71,781.51 L222.19,775.85 L220.66,781.64 L219.14,782.44 L217.61,777.81 L216.08,794.39 L214.56,796.21 L213.03,782.83 L211.51,786.89 L209.98,782.23 L208.45,785.22 L206.93,810.34 L205.4,812.64 L203.88,820.06 L202.35,807.74 L200.82,798.03 L199.3,796.34 L197.77,789.48 L196.24,799.2 L194.72,795.3 L193.19,794.95 L191.67,801.29 L190.14,804.08 L188.61,799.02 L187.09,799.22 L185.56,808.45 L184.04,813.73 L182.51,822.68 L180.98,826.64 L179.46,829.35 L177.93,840.08 L176.41,837.29 L174.88,825.56 L173.35,825.8 L171.83,811.93 L170.3,808.08 L168.77,816.58 L167.25,812.69 L165.72,819.33 L164.2,817.28 L162.67,810.1 L161.14,826.32 L159.62,814.03 L158.09,823.3 L156.57,833.57 L155.04,827.06 L153.51,830.79 L151.99,823.34 L150.46,817.96 L148.94,823.07 L147.41,826.71 L145.88,822.1 L144.36,833.54 L142.83,838.02 L141.3,842.36 L139.78,848.87 L138.25,840.17 L136.73,837.33 L135.2,832.04 L133.67,834.33 L132.15,842.93 L130.62,847.32 L129.1,851.9 L127.57,847.21 L126.04,839.25 L124.52,835.14 L122.99,823.3 L121.47,824.03 L119.94,822.88 L118.41,823.64 L116.89,830.29 L115.36,829.98 L113.84,837.6 L112.31,845.07 L110.78,851.09 L109.26,858.79 L107.73,853.29 L106.2,842 L104.68,839.2 L103.15,831.34 L101.63,837.02 L100.1,836.92 L98.57,843.35 L97.05,839.48 L95.52,833.81 L94,847.96 L92.47,854.98 L90.94,863.03 L89.42,859.94 L87.89,854.54 L86.37,845.07 L84.84,845.3 L83.31,848.37 L81.79,850.13 L80.26,854.88 L78.73,851.29 L77.21,849.28 L75.68,856.57 L74.16,856.72 L72.63,863.88 L71.1,873.04 L69.58,874.96 L68.05,875.52 L66.53,877.64 L65,873.07 Z" fill="rgba(95,85,100,0.27)"/>
<path d="M65,851.96 L66.53,853.1 L68.05,852.62 L69.58,850.71 L71.1,846 L72.63,840.73 L74.16,836.15 L75.68,831.58 L77.21,827 L78.73,822.08 L80.26,821.26 L81.79,826.9 L83.31,828.04 L84.84,828.9 L86.37,829.28 L87.89,833.45 L89.42,841.18 L90.94,847.49 L92.47,841.02 L94,829.56 L95.52,820.33 L97.05,821.34 L98.57,827.22 L100.1,826.06 L101.63,817.75 L103.15,812.4 L104.68,810.79 L106.2,813.94 L107.73,821.06 L109.26,826.53 L110.78,829.24 L112.31,822.37 L113.84,817.79 L115.36,815.5 L116.89,812.61 L118.41,809.43 L119.94,804.34 L121.47,802.03 L122.99,803.5 L124.52,807.77 L126.04,810.82 L127.57,812.88 L129.1,813.9 L130.62,814.92 L132.15,816.86 L133.67,815.23 L135.2,811.41 L136.73,815.71 L138.25,823.33 L139.78,830.95 L141.3,835.08 L142.83,830.5 L144.36,824.76 L145.88,818.83 L147.41,816.54 L148.94,814 L150.46,810.94 L151.99,807.27 L153.51,805.52 L155.04,808.1 L156.57,798.94 L158.09,795.14 L159.62,797.83 L161.14,804.26 L162.67,802.73 L164.2,800.97 L165.72,798.58 L167.25,794.51 L168.77,793.15 L170.3,797.31 L171.83,804.94 L173.35,811.23 L174.88,817.46 L176.41,824.33 L177.93,824.89 L179.46,813.66 L180.98,797.15 L182.51,793.29 L184.04,788.33 L185.56,785.74 L187.09,784.22 L188.61,783.36 L190.14,780.23 L191.67,771.86 L193.19,762.68 L194.72,762.51 L196.24,768.69 L197.77,775.07 L199.3,783.21 L200.82,788.81 L202.35,790.33 L203.88,790.93 L205.4,782.79 L206.93,776.59 L208.45,773.53 L209.98,770.58 L211.51,768.54 L213.03,766.89 L214.56,765.87 L216.08,764.01 L217.61,761.72 L219.14,758.86 L220.66,755.05 L222.19,751.48 L223.71,750.46 L225.24,745.66 L226.77,734.47 L228.29,725.95 L229.82,718.83 L231.34,720.31 L232.87,723.72 L234.4,731.86 L235.92,737.8 L237.45,741.61 L238.98,744.81 L240.5,745.83 L242.03,745.3 L243.55,743.27 L245.08,739.82 L246.61,736.01 L248.13,735.13 L249.66,737.17 L251.18,743.2 L252.71,749.44 L254.24,744.1 L255.76,738.76 L257.29,733.42 L258.81,728.08 L260.34,723.11 L261.87,721.22 L263.39,724.27 L264.92,724.74 L266.45,723.72 L267.97,731.13 L269.5,740.11 L271.02,752.32 L272.55,754.56 L274.08,746.42 L275.6,735.13 L277.13,733.18 L278.65,737.25 L280.18,742.25 L281.71,745.52 L283.23,741.45 L284.76,741.31 L286.28,745.38 L287.81,737.74 L289.34,726.14 L290.86,707.06 L292.39,711.55 L293.91,722.5 L295.44,734.95 L296.97,752.25 L298.49,767.17 L300.02,777.35 L301.55,777.47 L303.07,771.37 L304.6,774.44 L306.12,775.85 L307.65,765.68 L309.18,758.38 L310.7,754.31 L312.23,755.04 L313.75,757.33 L315.28,761.4 L316.81,767.5 L318.33,765.96 L319.86,761.89 L321.38,757.82 L322.91,755.71 L324.44,757.74 L325.96,756.7 L327.49,753.65 L329.02,756.02 L330.54,759.08 L332.07,754.31 L333.59,744.35 L335.12,734.4 L336.65,730.11 L338.17,738.2 L339.7,750.77 L341.22,764 L342.75,758.5 L344.28,753.25 L345.8,755.29 L347.33,757.82 L348.85,762.63 L350.38,770.77 L351.91,776.35 L353.43,780.42 L354.96,780.77 L356.48,780.16 L358.01,777.11 L359.54,772.09 L361.06,764.97 L362.59,767.99 L364.12,774.04 L365.64,779.13 L367.17,780.12 L368.69,773 L370.22,770.92 L371.75,771.94 L373.27,772.04 L374.8,770.89 L376.32,764.78 L377.85,763.49 L379.38,767.56 L380.9,773.17 L382.43,779.15 L383.95,782.2 L385.48,782.93 L387.01,778.86 L388.53,773.55 L390.06,767.45 L391.59,769.53 L393.11,771.67 L394.64,769.64 L396.16,767.13 L397.69,764.08 L399.22,759.89 L400.74,755.68 L402.27,762.54 L403.79,767.83 L405.32,772.04 L406.85,772.04 L408.37,777.62 L409.9,789.83 L411.42,794.49 L412.95,796.22 L414.48,786.04 L416,775.24 L417.53,766.75 L419.05,776.92 L420.58,783.89 L422.11,786.94 L423.63,787 L425.16,786.08 L426.69,790.15 L428.21,792.06 L429.74,789.01 L431.26,789.54 L432.79,792.59 L434.32,795.65 L435.84,798.38 L437.37,799.4 L438.89,799.07 L440.42,797.03 L441.95,794.26 L443.47,791.17 L445,784.05 L446.52,780.52 L448.05,785.6 L449.58,791.87 L451.1,798.99 L452.63,800.84 L454.16,801.26 L455.68,798.21 L457.21,797.79 L458.73,800.84 L460.26,798.07 L461.79,792.99 L463.31,799.09 L464.84,803.17 L466.36,802.15 L467.89,799.46 L469.42,795.5 L470.94,794.3 L472.47,796.33 L473.99,796.86 L475.52,796.83 L477.05,795.81 L478.57,794.79 L480.1,793.78 L481.62,794.57 L483.15,796.6 L484.68,799.53 L486.2,801.93 L487.73,800.92 L489.26,800.35 L490.78,800.35 L492.31,802.56 L493.83,805.5 L495.36,794.3 L496.89,783.26 L498.41,775.2 L499.94,782.32 L501.46,788.13 L502.99,792.2 L504.52,796.27 L506.04,800.33 L507.57,796.29 L509.09,792.22 L510.62,788.16 L512.15,789.24 L513.67,794.33 L515.2,803.72 L516.73,813.1 L518.25,817.17 L519.78,819.14 L521.3,818.13 L522.83,820.65 L524.36,824.72 L525.88,818.83 L527.41,814.86 L528.93,816.89 L530.46,820.59 L531.99,825.67 L533.51,827.39 L535.04,827.62 L536.56,821.51 L538.09,816.21 L539.62,812.14 L541.14,813.59 L542.67,817.66 L544.2,810 L545.72,801.61 L547.25,794.42 L548.77,805.1 L550.3,814.33 L551.83,821.79 L553.35,823.83 L554.88,821.09 L556.4,813.97 L557.93,816.67 L559.46,821.75 L560.98,826.84 L562.51,828.91 L564.03,825.86 L565.56,823.47 L567.09,821.44 L568.61,824.17 L570.14,827 L571.66,829.03 L573.19,829.53 L574.72,828.51 L576.24,827.5 L577.77,826.76 L579.3,829.81 L580.82,833.58 L582.35,838.67 L583.87,836 L585.4,828.88 L586.93,825.49 L588.45,823.88 L589.98,827.95 L591.5,829.55 L593.03,828.53 L594.56,829.86 L596.08,831.84 L597.61,832.86 L599.13,832.86 L600.66,830.82 L602.19,828.16 L603.71,825.11 L605.24,823.89 L606.77,823.43 L608.29,825.47 L609.82,827.03 L611.34,828.04 L612.87,826.01 L614.4,822.96 L615.92,819.9 L617.45,819.1 L618.97,823.17 L620.5,831.34" fill="none" stroke="#000000" stroke-width="1.3" stroke-linejoin="round"/>
<path d="M65,817.29 L66.53,820.15 L68.05,816.96 L69.58,823.05 L71.1,828.51 L72.63,819.07 L74.16,822.17 L75.68,814.67 L77.21,815.08 L78.73,807.26 L80.26,803.4 L81.79,809.57 L83.31,812.03 L84.84,813.52 L86.37,808 L87.89,806.18 L89.42,808.84 L90.94,804.23 L92.47,818.66 L94,813.39 L95.52,816.48 L97.05,819.28 L98.57,807 L100.1,815.77 L101.63,811.59 L103.15,809.81 L104.68,821.72 L106.2,825.45 L107.73,822.62 L109.26,824.55 L110.78,810.37 L112.31,815.26 L113.84,817.26 L115.36,803.16 L116.89,805.47 L118.41,800.95 L119.94,798.95 L121.47,801.46 L122.99,809.28 L124.52,818.28 L126.04,823.37 L127.57,822.39 L129.1,818.8 L130.62,815.25 L132.15,817.06 L133.67,796.22 L135.2,797.55 L136.73,800.8 L138.25,791.73 L139.78,804.47 L141.3,810.09 L142.83,809.83 L144.36,815.17 L145.88,810.38 L147.41,804.56 L148.94,800.69 L150.46,795.87 L151.99,795.15 L153.51,800.49 L155.04,799.19 L156.57,802.24 L158.09,796.31 L159.62,783.4 L161.14,777.53 L162.67,774.78 L164.2,775.83 L165.72,791.05 L167.25,791.03 L168.77,794.29 L170.3,794.73 L171.83,796.18 L173.35,805.64 L174.88,802.54 L176.41,797.57 L177.93,795.01 L179.46,788.53 L180.98,765.41 L182.51,767.32 L184.04,762.3 L185.56,754.71 L187.09,754.45 L188.61,740.29 L190.14,732.13 L191.67,729.93 L193.19,725.4 L194.72,720.86 L196.24,728.3 L197.77,729.38 L199.3,740.99 L200.82,749.32 L202.35,746.61 L203.88,754.99 L205.4,764.84 L206.93,757.62 L208.45,746.54 L209.98,730.73 L211.51,712.28 L213.03,709.11 L214.56,701.97 L216.08,702.18 L217.61,702.54 L219.14,705.08 L220.66,709.5 L222.19,709.08 L223.71,693.81 L225.24,688.45 L226.77,695.42 L228.29,706.45 L229.82,723.96 L231.34,741.6 L232.87,740.68 L234.4,741.42 L235.92,746.49 L237.45,737.64 L238.98,753.64 L240.5,758.33 L242.03,744.02 L243.55,738.34 L245.08,716.57 L246.61,712.77 L248.13,707.59 L249.66,704.9 L251.18,711.31 L252.71,706.75 L254.24,711.46 L255.76,718.36 L257.29,730.27 L258.81,731.61 L260.34,736.38 L261.87,733.81 L263.39,730.91 L264.92,731.83 L266.45,725.98 L267.97,714.64 L269.5,713.1 L271.02,710.26 L272.55,705.8 L274.08,705.97 L275.6,693.14 L277.13,682.75 L278.65,687.2 L280.18,699.22 L281.71,703.03 L283.23,711.51 L284.76,712.45 L286.28,704.9 L287.81,713.31 L289.34,714.74 L290.86,708.74 L292.39,700.05 L293.91,696.55 L295.44,693.41 L296.97,715.13 L298.49,736.64 L300.02,745.98 L301.55,750.86 L303.07,732.91 L304.6,709.4 L306.12,711.86 L307.65,711.21 L309.18,717.49 L310.7,722.32 L312.23,715.15 L313.75,706.67 L315.28,690.93 L316.81,698.72 L318.33,703.82 L319.86,724.97 L321.38,726.8 L322.91,728.22 L324.44,731.17 L325.96,727.39 L327.49,736.31 L329.02,735.8 L330.54,756.1 L332.07,756.85 L333.59,755.02 L335.12,755.04 L336.65,749.92 L338.17,755.97 L339.7,755.6 L341.22,768.11 L342.75,766.56 L344.28,756.26 L345.8,744.21 L347.33,736.92 L348.85,748.59 L350.38,760.76 L351.91,768.87 L353.43,769.57 L354.96,759.58 L356.48,747.75 L358.01,739.02 L359.54,740.46 L361.06,744.5 L362.59,749.45 L364.12,749.58 L365.64,753.77 L367.17,739.48 L368.69,741.09 L370.22,746.32 L371.75,734.54 L373.27,737.44 L374.8,739.07 L376.32,739.8 L377.85,749.75 L379.38,760.6 L380.9,767.6 L382.43,771.54 L383.95,779.37 L385.48,772.49 L387.01,762.57 L388.53,752.42 L390.06,733.96 L391.59,724.31 L393.11,726.52 L394.64,731.98 L396.16,740.53 L397.69,744.05 L399.22,734.89 L400.74,733.73 L402.27,738.8 L403.79,734.41 L405.32,743.7 L406.85,745.21 L408.37,747.65 L409.9,751.79 L411.42,751.85 L412.95,760.11 L414.48,765.92 L416,754.88 L417.53,750.28 L419.05,748.91 L420.58,734.81 L422.11,738.9 L423.63,735.05 L425.16,743.3 L426.69,750.46 L428.21,754.21 L429.74,755.29 L431.26,747.58 L432.79,752.67 L434.32,755.33 L435.84,758.57 L437.37,756.22 L438.89,748.53 L440.42,739.4 L441.95,750.1 L443.47,773.67 L445,782.49 L446.52,788.84 L448.05,790.87 L449.58,782.56 L451.1,786.63 L452.63,795.71 L454.16,799.65 L455.68,789.42 L457.21,778.89 L458.73,766.77 L460.26,752.77 L461.79,757.66 L463.31,751.34 L464.84,749.97 L466.36,757.72 L467.89,760.07 L469.42,771.49 L470.94,773.57 L472.47,767.13 L473.99,763.92 L475.52,768.92 L477.05,776.75 L478.57,769.81 L480.1,768.36 L481.62,757.97 L483.15,745.97 L484.68,754.8 L486.2,755.96 L487.73,781.04 L489.26,793.6 L490.78,797.18 L492.31,811.8 L493.83,797.29 L495.36,784.05 L496.89,757.66 L498.41,757.77 L499.94,776.45 L501.46,781.16 L502.99,783.03 L504.52,762.38 L506.04,742.77 L507.57,745.93 L509.09,760.75 L510.62,759.41 L512.15,763.17 L513.67,756.97 L515.2,755.27 L516.73,763.43 L518.25,773.27 L519.78,779.14 L521.3,777.64 L522.83,774.47 L524.36,781.77 L525.88,781.44 L527.41,778.9 L528.93,780.6 L530.46,776.29 L531.99,777.14 L533.51,773.54 L535.04,772.35 L536.56,772.96 L538.09,779.22 L539.62,785.02 L541.14,790.26 L542.67,796.72 L544.2,788.95 L545.72,791.92 L547.25,788.57 L548.77,781.82 L550.3,787.43 L551.83,786.89 L553.35,788.06 L554.88,787.35 L556.4,793.97 L557.93,788.07 L559.46,797.06 L560.98,797.61 L562.51,787.99 L564.03,796.61 L565.56,789.65 L567.09,787.71 L568.61,786.11 L570.14,787.72 L571.66,784.79 L573.19,788.26 L574.72,792.92 L576.24,792.69 L577.77,804.71 L579.3,802.93 L580.82,799.31 L582.35,798.85 L583.87,796.26 L585.4,790.23 L586.93,796.81 L588.45,787.65 L589.98,783.01 L591.5,784.15 L593.03,786.05 L594.56,795.76 L596.08,803.97 L597.61,809.11 L599.13,807.6 L600.66,813.42 L602.19,817.12 L603.71,815.96 L605.24,807.78 L606.77,802.28 L608.29,792.95 L609.82,792.53 L611.34,806.78 L612.87,817.03 L614.4,827 L615.92,824.8 L617.45,820.35 L618.97,814.75 L620.5,814.51 L620.5,857.56 L618.97,859.14 L617.45,858.06 L615.92,866.57 L614.4,866.08 L612.87,867.09 L611.34,854.84 L609.82,850.32 L608.29,853.87 L606.77,857.15 L605.24,864.6 L603.71,857.9 L602.19,844.67 L600.66,841.2 L599.13,837.79 L597.61,844.08 L596.08,858.7 L594.56,851.93 L593.03,851.58 L591.5,852.52 L589.98,845.74 L588.45,852.4 L586.93,842.08 L585.4,840.54 L583.87,845.67 L582.35,843.79 L580.82,847.94 L579.3,848.63 L577.77,837.61 L576.24,846.16 L574.72,837.73 L573.19,836.76 L571.66,847.66 L570.14,838.22 L568.61,851.61 L567.09,843.2 L565.56,839.9 L564.03,841.94 L562.51,845.46 L560.98,849.19 L559.46,848.17 L557.93,846.23 L556.4,836.47 L554.88,824.94 L553.35,829.42 L551.83,834.83 L550.3,839.13 L548.77,844.69 L547.25,840.2 L545.72,831 L544.2,827.29 L542.67,820.76 L541.14,813.53 L539.62,809.28 L538.09,807.98 L536.56,810.88 L535.04,811.05 L533.51,815.41 L531.99,816.46 L530.46,810.66 L528.93,818.07 L527.41,815.01 L525.88,822.12 L524.36,827.37 L522.83,816.33 L521.3,816.08 L519.78,804.26 L518.25,799.55 L516.73,804.93 L515.2,809.86 L513.67,814.6 L512.15,808.86 L510.62,804.66 L509.09,797.47 L507.57,798.9 L506.04,803.47 L504.52,808.2 L502.99,828.92 L501.46,822.65 L499.94,813.1 L498.41,799.98 L496.89,802.05 L495.36,819.35 L493.83,828.24 L492.31,827.22 L490.78,817.59 L489.26,810.84 L487.73,806.58 L486.2,789.43 L484.68,792.01 L483.15,804.31 L481.62,809.61 L480.1,819.31 L478.57,817.27 L477.05,815.55 L475.52,817.23 L473.99,814.06 L472.47,811.57 L470.94,810.39 L469.42,800.51 L467.89,793.52 L466.36,786.97 L464.84,794.15 L463.31,807.06 L461.79,811.25 L460.26,809.35 L458.73,821.57 L457.21,813.45 L455.68,820.15 L454.16,842.78 L452.63,827.16 L451.1,836.59 L449.58,827.55 L448.05,813.08 L446.52,805.84 L445,793.64 L443.47,787.94 L441.95,780.38 L440.42,787.55 L438.89,791.14 L437.37,792.59 L435.84,780.87 L434.32,775.47 L432.79,779.06 L431.26,783.05 L429.74,800.88 L428.21,808.87 L426.69,793.47 L425.16,788.12 L423.63,782.73 L422.11,776.66 L420.58,783.3 L419.05,786.17 L417.53,774.43 L416,774.66 L414.48,782.08 L412.95,773.23 L411.42,779.19 L409.9,784.03 L408.37,789.05 L406.85,794.82 L405.32,786.83 L403.79,781.82 L402.27,779.08 L400.74,776.73 L399.22,790.93 L397.69,791.72 L396.16,791.63 L394.64,785.51 L393.11,769.92 L391.59,770.87 L390.06,775.71 L388.53,784.16 L387.01,806.42 L385.48,821.63 L383.95,824.16 L382.43,829.32 L380.9,813.39 L379.38,808.91 L377.85,805.14 L376.32,796.08 L374.8,801.71 L373.27,795.18 L371.75,795.23 L370.22,781.8 L368.69,771.27 L367.17,774.54 L365.64,778.98 L364.12,781.08 L362.59,784.28 L361.06,776.73 L359.54,772.61 L358.01,782.87 L356.48,790.2 L354.96,788.7 L353.43,800 L351.91,790.88 L350.38,783.29 L348.85,778.27 L347.33,765.47 L345.8,765.47 L344.28,780.78 L342.75,792.63 L341.22,795.22 L339.7,798 L338.17,795.38 L336.65,791 L335.12,795.8 L333.59,793.75 L332.07,784.34 L330.54,783.64 L329.02,769.94 L327.49,767.14 L325.96,772.88 L324.44,773.49 L322.91,771.51 L321.38,770.33 L319.86,762.64 L318.33,756.97 L316.81,747.26 L315.28,737.64 L313.75,752.59 L312.23,759.02 L310.7,767.48 L309.18,770.21 L307.65,768.67 L306.12,756.64 L304.6,762.12 L303.07,771.84 L301.55,783.83 L300.02,796.46 L298.49,786.99 L296.97,775.81 L295.44,767.04 L293.91,763.39 L292.39,764.17 L290.86,759.01 L289.34,750.37 L287.81,739.79 L286.28,736.56 L284.76,751.09 L283.23,754.03 L281.71,751.78 L280.18,744.72 L278.65,733.86 L277.13,729.02 L275.6,740.82 L274.08,745.39 L272.55,758.24 L271.02,761.53 L269.5,763.21 L267.97,772.55 L266.45,773.91 L264.92,782.06 L263.39,792.21 L261.87,798.22 L260.34,791.24 L258.81,781.65 L257.29,773.8 L255.76,760.45 L254.24,761.8 L252.71,752.93 L251.18,745.69 L249.66,736.69 L248.13,735.35 L246.61,747.62 L245.08,752.31 L243.55,765.23 L242.03,779.72 L240.5,782.54 L238.98,778.94 L237.45,779.95 L235.92,781.68 L234.4,787.76 L232.87,782.39 L231.34,777.54 L229.82,764.54 L228.29,752.87 L226.77,745.69 L225.24,726.47 L223.71,734.99 L222.19,748 L220.66,748.4 L219.14,752.86 L217.61,766.22 L216.08,762.75 L214.56,765.18 L213.03,762.77 L211.51,748.54 L209.98,762.96 L208.45,771.16 L206.93,783.28 L205.4,788.36 L203.88,786.19 L202.35,777.69 L200.82,784.22 L199.3,784.81 L197.77,768.47 L196.24,773.8 L194.72,772.54 L193.19,773.93 L191.67,773.2 L190.14,769 L188.61,760.25 L187.09,768.69 L185.56,782.39 L184.04,796.45 L182.51,815.68 L180.98,827.15 L179.46,851.2 L177.93,858.4 L176.41,852.72 L174.88,853.23 L173.35,841.71 L171.83,840.67 L170.3,828.76 L168.77,832.36 L167.25,833.33 L165.72,827.89 L164.2,825.52 L162.67,819.92 L161.14,823.92 L159.62,819.26 L158.09,829.74 L156.57,833.93 L155.04,833.5 L153.51,838.99 L151.99,833.13 L150.46,825.78 L148.94,834.06 L147.41,829.22 L145.88,840.42 L144.36,852.48 L142.83,852.74 L141.3,859.06 L139.78,850.13 L138.25,840.83 L136.73,828.29 L135.2,826.34 L133.67,820.85 L132.15,827.07 L130.62,835.03 L129.1,838.45 L127.57,846.78 L126.04,844.76 L124.52,839.49 L122.99,836.05 L121.47,840.46 L119.94,843.06 L118.41,849.89 L116.89,848.15 L115.36,843.11 L113.84,857.5 L112.31,867.55 L110.78,871.16 L109.26,879.68 L107.73,879.18 L106.2,876.83 L104.68,873.26 L103.15,865.92 L101.63,850.53 L100.1,845.42 L98.57,845.97 L97.05,846.18 L95.52,859.5 L94,853.86 L92.47,847.13 L90.94,842.71 L89.42,849.69 L87.89,863.63 L86.37,857.51 L84.84,855.25 L83.31,852.59 L81.79,843.26 L80.26,849.03 L78.73,851.75 L77.21,852.01 L75.68,846.17 L74.16,848.65 L72.63,854.67 L71.1,859.13 L69.58,853.71 L68.05,844.98 L66.53,842.55 L65,847.44 Z" fill="rgba(40,150,220,0.40)"/>
<path d="M65,834.94 L66.53,830.87 L68.05,832.19 L69.58,834.84 L71.1,840.94 L72.63,835.34 L74.16,831.29 L75.68,831.36 L77.21,835.16 L78.73,827.02 L80.26,822.18 L81.79,822.9 L83.31,827.99 L84.84,833.08 L86.37,832.85 L87.89,831.67 L89.42,828.81 L90.94,824.61 L92.47,829.7 L94,833.16 L95.52,833.86 L97.05,833.14 L98.57,835.18 L100.1,837.69 L101.63,837.25 L103.15,835.4 L104.68,834.26 L106.2,837.83 L107.73,840.18 L109.26,840.68 L110.78,839.67 L112.31,838.65 L113.84,831.97 L115.36,824.19 L116.89,820.37 L118.41,824.03 L119.94,822 L121.47,817.59 L122.99,817 L124.52,821.28 L126.04,826.37 L127.57,825.39 L129.1,824.5 L130.62,823.38 L132.15,821.09 L133.67,817.85 L135.2,814.03 L136.73,814.62 L138.25,820.08 L139.78,826.89 L141.3,831.09 L142.83,829.84 L144.36,825.1 L145.88,820.15 L147.41,818.11 L148.94,817.24 L150.46,816.79 L151.99,816.41 L153.51,816.89 L155.04,817.5 L156.57,814.45 L158.09,812.88 L159.62,814.4 L161.14,814.54 L162.67,813.78 L164.2,811.66 L165.72,809.23 L167.25,806.18 L168.77,804.03 L170.3,797.73 L171.83,803.28 L173.35,809.92 L174.88,815.42 L176.41,819.56 L177.93,821.35 L179.46,812.2 L180.98,789.54 L182.51,787.75 L184.04,786.86 L185.56,779.39 L187.09,763.66 L188.61,747.89 L190.14,744.1 L191.67,748.14 L193.19,755.17 L194.72,756.75 L196.24,756.78 L197.77,757.82 L199.3,767.99 L200.82,772.69 L202.35,768.62 L203.88,772.04 L205.4,779.16 L206.93,772.22 L208.45,764.59 L209.98,754.59 L211.51,743.4 L213.03,741.87 L214.56,740.97 L216.08,740.46 L217.61,741.54 L219.14,744.08 L220.66,745.4 L222.19,745 L223.71,729.74 L225.24,723.17 L226.77,731.31 L228.29,742.78 L229.82,756.01 L231.34,760.63 L232.87,763.33 L234.4,761.29 L235.92,758.22 L237.45,754.15 L238.98,757.35 L240.5,761.33 L242.03,752.17 L243.55,743.02 L245.08,733.86 L246.61,727.99 L248.13,723.92 L249.66,727.9 L251.18,736.08 L252.71,742.29 L254.24,746.87 L255.76,751.63 L257.29,756.72 L258.81,759.04 L260.34,759.8 L261.87,759.22 L263.39,756.17 L264.92,753.05 L266.45,748.98 L267.97,744.91 L269.5,740.84 L271.02,738.06 L272.55,736.02 L274.08,729.32 L275.6,721.48 L277.13,711.86 L278.65,719.49 L280.18,722.01 L281.71,723.84 L283.23,724.86 L284.76,722.43 L286.28,716.33 L287.81,720.38 L289.34,727.09 L290.86,726.33 L292.39,725.56 L293.91,727.72 L295.44,731.17 L296.97,742.36 L298.49,751.85 L300.02,757.96 L301.55,755.27 L303.07,747.13 L304.6,742.66 L306.12,741.05 L307.65,750.21 L309.18,756.49 L310.7,759.54 L312.23,754.15 L313.75,745.67 L315.28,728.88 L316.81,730.77 L318.33,734.84 L319.86,738.91 L321.38,742.51 L322.91,745.56 L324.44,749.37 L325.96,753.38 L327.49,755.41 L329.02,761.32 L330.54,775.56 L332.07,778.69 L333.59,774.46 L335.12,770.22 L336.65,765.99 L338.17,768.23 L339.7,772.1 L341.22,773.12 L342.75,770.24 L344.28,760.07 L345.8,753.75 L347.33,749.69 L348.85,756.81 L350.38,764.74 L351.91,771.87 L353.43,773.55 L354.96,769.48 L356.48,765.41 L358.01,761.98 L359.54,769.61 L361.06,773.07 L362.59,774.54 L364.12,769.45 L365.64,763.88 L367.17,757.77 L368.69,759.44 L370.22,763.36 L371.75,764.38 L373.27,766.75 L374.8,771.83 L376.32,778.8 L377.85,786.94 L379.38,788.66 L380.9,790.06 L382.43,793.11 L383.95,794.25 L385.48,793.24 L387.01,786.85 L388.53,778.67 L390.06,769.51 L391.59,763.31 L393.11,763.31 L394.64,766.4 L396.16,771.49 L397.69,770.22 L399.22,768.01 L400.74,764.96 L402.27,764.25 L403.79,766.28 L405.32,768.32 L406.85,770.26 L408.37,769.25 L409.9,767.59 L411.42,764.54 L412.95,765.74 L414.48,769.81 L416,768.5 L417.53,767.48 L419.05,771.55 L420.58,771.03 L422.11,764.93 L423.63,764.06 L425.16,765.12 L426.69,768.17 L428.21,770.6 L429.74,771.62 L431.26,770.84 L432.79,768.81 L434.32,765 L435.84,761.57 L437.37,761.57 L438.89,762.01 L440.42,763.03 L441.95,769.21 L443.47,777.35 L445,785.49 L446.52,791.84 L448.05,793.87 L449.58,798.26 L451.1,804.36 L452.63,809.59 L454.16,812.29 L455.68,801.09 L457.21,791.66 L458.73,784.54 L460.26,784.7 L461.79,787.75 L463.31,781.64 L464.84,776.12 L466.36,772.05 L467.89,777.93 L469.42,791.35 L470.94,797.2 L472.47,794.15 L473.99,788.83 L475.52,782.8 L477.05,779.75 L478.57,778.27 L480.1,780.31 L481.62,778.12 L483.15,773.03 L484.68,765.72 L486.2,769.25 L487.73,784.04 L489.26,800.96 L490.78,814.18 L492.31,823.35 L493.83,824.78 L495.36,812.41 L496.89,792.88 L498.41,787.72 L499.94,796.88 L501.46,803.41 L502.99,800.94 L504.52,784.66 L506.04,775.91 L507.57,775.44 L509.09,778.5 L510.62,783.71 L512.15,789.81 L513.67,792.89 L515.2,794.27 L516.73,791.22 L518.25,788.74 L519.78,786.7 L521.3,789.79 L522.83,794.11 L524.36,800.22 L525.88,801.78 L527.41,796.69 L528.93,796.51 L530.46,798.55 L531.99,797.61 L533.51,796.6 L535.04,795.58 L536.56,797.3 L538.09,801.37 L539.62,806.28 L541.14,810.4 L542.67,806.33 L544.2,803.84 L545.72,803.84 L547.25,805.21 L548.77,807.24 L550.3,810.25 L551.83,811.85 L553.35,808.8 L554.88,806.81 L556.4,805.79 L557.93,807.23 L559.46,809.17 L560.98,810.19 L562.51,811.58 L564.03,813.62 L565.56,816.32 L567.09,819.37 L568.61,820.52 L570.14,821.76 L571.66,823.79 L573.19,824.8 L574.72,824.8 L576.24,821.6 L577.77,818.1 L579.3,822.17 L580.82,824.09 L582.35,822.05 L583.87,818.72 L585.4,814.65 L586.93,817.13 L588.45,819.97 L589.98,822.01 L591.5,822.07 L593.03,820.04 L594.56,821.91 L596.08,824.7 L597.61,822.66 L599.13,822.67 L600.66,826.74 L602.19,830.18 L603.71,833.23 L605.24,832.62 L606.77,831.04 L608.29,826.97 L609.82,825.75 L611.34,827.79 L612.87,833.64 L614.4,840.49 L615.92,839.47 L617.45,838.78 L618.97,838.78 L620.5,838.78" fill="none" stroke="#0072bd" stroke-width="1.3" stroke-linejoin="round"/>
<path d="M65,810.86 L66.53,807.01 L68.05,814.53 L69.58,831.13 L71.1,845.61 L72.63,841.69 L74.16,827.76 L75.68,818.16 L77.21,811.73 L78.73,813.63 L80.26,811.73 L81.79,807.55 L83.31,814.34 L84.84,818.07 L86.37,823.68 L87.89,834.51 L89.42,839.04 L90.94,845.92 L92.47,836.01 L94,819.48 L95.52,818.49 L97.05,821.45 L98.57,830.87 L100.1,830.58 L101.63,826.66 L103.15,822.57 L104.68,825.58 L106.2,825.65 L107.73,809.54 L109.26,802.71 L110.78,801.98 L112.31,803.77 L113.84,804.23 L115.36,796.72 L116.89,795.58 L118.41,808.43 L119.94,810.29 L121.47,818.77 L122.99,820.46 L124.52,822.15 L126.04,821.63 L127.57,812.01 L129.1,817.25 L130.62,811.36 L132.15,805.16 L133.67,802.7 L135.2,803.12 L136.73,809.52 L138.25,804.14 L139.78,810.41 L141.3,811.48 L142.83,815.41 L144.36,819.3 L145.88,820.8 L147.41,823.52 L148.94,820.59 L150.46,822.67 L151.99,818.28 L153.51,809.68 L155.04,805.64 L156.57,802.23 L158.09,798.68 L159.62,807.17 L161.14,809.37 L162.67,815.59 L164.2,813.52 L165.72,808.22 L167.25,808.18 L168.77,798.01 L170.3,790.54 L171.83,782.87 L173.35,780.3 L174.88,784.52 L176.41,781.56 L177.93,781.48 L179.46,774.98 L180.98,766.59 L182.51,766.03 L184.04,766.46 L185.56,758.86 L187.09,763.08 L188.61,760.37 L190.14,753.91 L191.67,755.31 L193.19,758.98 L194.72,763.63 L196.24,769.44 L197.77,770.19 L199.3,756.72 L200.82,755.62 L202.35,763.13 L203.88,763.63 L205.4,766.78 L206.93,762.71 L208.45,762.39 L209.98,762.45 L211.51,750.12 L213.03,749.41 L214.56,741.8 L216.08,735.38 L217.61,737.54 L219.14,735.66 L220.66,732.23 L222.19,725.15 L223.71,723 L225.24,720.86 L226.77,725.98 L228.29,731.16 L229.82,736.93 L231.34,733.9 L232.87,734.78 L234.4,731.08 L235.92,736.31 L237.45,737.56 L238.98,731.84 L240.5,745.57 L242.03,736.03 L243.55,732.7 L245.08,728.91 L246.61,725.61 L248.13,723.82 L249.66,733.5 L251.18,739 L252.71,737.99 L254.24,728.14 L255.76,719.49 L257.29,713.01 L258.81,709.34 L260.34,712.34 L261.87,708.26 L263.39,709.85 L264.92,699.25 L266.45,704.07 L267.97,700.69 L269.5,685.87 L271.02,675.13 L272.55,677.92 L274.08,685.23 L275.6,690.13 L277.13,698.08 L278.65,694.5 L280.18,688.59 L281.71,689.52 L283.23,682.87 L284.76,682.62 L286.28,691.99 L287.81,686.25 L289.34,697.49 L290.86,713.89 L292.39,713.36 L293.91,720.66 L295.44,716.81 L296.97,713.26 L298.49,717.75 L300.02,726.25 L301.55,720.2 L303.07,720.41 L304.6,722.86 L306.12,717.6 L307.65,715.34 L309.18,720.59 L310.7,724.24 L312.23,727.05 L313.75,743.02 L315.28,750.18 L316.81,749.23 L318.33,754.34 L319.86,747.48 L321.38,736.16 L322.91,737.75 L324.44,720.25 L325.96,724.02 L327.49,724.74 L329.02,722.69 L330.54,738.15 L332.07,729.07 L333.59,735.09 L335.12,734.07 L336.65,734.06 L338.17,732.81 L339.7,736.22 L341.22,747.59 L342.75,743.98 L344.28,748.73 L345.8,739.74 L347.33,728.41 L348.85,729.81 L350.38,734.65 L351.91,738.98 L353.43,738.22 L354.96,738.04 L356.48,743.33 L358.01,742.04 L359.54,743.4 L361.06,765.04 L362.59,776.76 L364.12,776.83 L365.64,764.03 L367.17,748.55 L368.69,753.48 L370.22,765.58 L371.75,766.78 L373.27,761.75 L374.8,750.2 L376.32,744.57 L377.85,741.3 L379.38,738.34 L380.9,732.98 L382.43,727.31 L383.95,727.06 L385.48,734.93 L387.01,741.76 L388.53,748.32 L390.06,754.6 L391.59,764.1 L393.11,775.27 L394.64,775.69 L396.16,776.04 L397.69,774.56 L399.22,760.95 L400.74,756.86 L402.27,772.58 L403.79,772.96 L405.32,771.77 L406.85,766.78 L408.37,750.6 L409.9,750.01 L411.42,756.04 L412.95,745.57 L414.48,737.73 L416,734.11 L417.53,741.7 L419.05,747.03 L420.58,738.93 L422.11,743 L423.63,741.68 L425.16,751.93 L426.69,765.05 L428.21,758.84 L429.74,757.7 L431.26,753.27 L432.79,760.29 L434.32,754.13 L435.84,755.21 L437.37,758.76 L438.89,757.14 L440.42,765.88 L441.95,768.91 L443.47,755.13 L445,720.43 L446.52,729.47 L448.05,733.46 L449.58,742.1 L451.1,754.07 L452.63,740.75 L454.16,737.91 L455.68,730.51 L457.21,714.71 L458.73,730.36 L460.26,732.71 L461.79,739.5 L463.31,751.57 L464.84,733 L466.36,734.83 L467.89,744.52 L469.42,729.34 L470.94,737.92 L472.47,743.73 L473.99,764.32 L475.52,780.37 L477.05,769.27 L478.57,769.67 L480.1,765.36 L481.62,769.5 L483.15,777.71 L484.68,782.01 L486.2,772.51 L487.73,764.71 L489.26,752.97 L490.78,760.69 L492.31,768.11 L493.83,759.18 L495.36,764.29 L496.89,763.37 L498.41,781.85 L499.94,791.69 L501.46,789.08 L502.99,781.63 L504.52,772.54 L506.04,756.47 L507.57,765.84 L509.09,777.26 L510.62,781.64 L512.15,781.43 L513.67,764.23 L515.2,761.84 L516.73,756.11 L518.25,758.6 L519.78,759.96 L521.3,768.47 L522.83,772.24 L524.36,784.44 L525.88,794.88 L527.41,779.36 L528.93,785.76 L530.46,796.1 L531.99,784.95 L533.51,765.91 L535.04,765.9 L536.56,771.28 L538.09,773.04 L539.62,779.2 L541.14,784.78 L542.67,781.12 L544.2,777.07 L545.72,770.4 L547.25,769.42 L548.77,782.48 L550.3,785 L551.83,788.76 L553.35,786.55 L554.88,789.66 L556.4,812.76 L557.93,832.94 L559.46,826.23 L560.98,814.18 L562.51,806.05 L564.03,800.74 L565.56,798.97 L567.09,808.25 L568.61,811.55 L570.14,806.75 L571.66,801.98 L573.19,795.36 L574.72,800.45 L576.24,811.83 L577.77,819.67 L579.3,823.29 L580.82,821.25 L582.35,823.98 L583.87,822.26 L585.4,807.65 L586.93,801.1 L588.45,811.72 L589.98,803.6 L591.5,806.4 L593.03,806.41 L594.56,801.95 L596.08,820.64 L597.61,819.26 L599.13,814.34 L600.66,807.06 L602.19,797.86 L603.71,794.76 L605.24,792.12 L606.77,799.17 L608.29,805.88 L609.82,808.98 L611.34,831.96 L612.87,842.36 L614.4,842.85 L615.92,839.21 L617.45,831.61 L618.97,841.69 L620.5,843.64 L620.5,873.8 L618.97,872.82 L617.45,871.06 L615.92,870.5 L614.4,878.13 L612.87,867.13 L611.34,863.53 L609.82,847.32 L608.29,843.36 L606.77,858.39 L605.24,852.7 L603.71,862.17 L602.19,863.72 L600.66,857.75 L599.13,858.12 L597.61,852.59 L596.08,846.7 L594.56,842.43 L593.03,846.4 L591.5,861.38 L589.98,870.99 L588.45,866.29 L586.93,860.34 L585.4,844.68 L583.87,860.4 L582.35,866.42 L580.82,848.12 L579.3,863.21 L577.77,850.42 L576.24,850.13 L574.72,857.23 L573.19,847.96 L571.66,851.66 L570.14,855.36 L568.61,854.79 L567.09,854.44 L565.56,848.75 L564.03,847.8 L562.51,852.07 L560.98,857.76 L559.46,863.74 L557.93,875.02 L556.4,857.63 L554.88,841.15 L553.35,848.4 L551.83,849.42 L550.3,848.19 L548.77,847.15 L547.25,829.77 L545.72,826.55 L544.2,832.02 L542.67,826.77 L541.14,828.05 L539.62,829.32 L538.09,823.61 L536.56,809.21 L535.04,806.61 L533.51,808.94 L531.99,835.8 L530.46,842.47 L528.93,832.54 L527.41,825.96 L525.88,816.63 L524.36,832.36 L522.83,810.16 L521.3,805.13 L519.78,802.13 L518.25,799.1 L516.73,805.72 L515.2,803.59 L513.67,813.36 L512.15,815.62 L510.62,814.54 L509.09,812.6 L507.57,802.37 L506.04,805.09 L504.52,816.96 L502.99,829.19 L501.46,833.88 L499.94,834.39 L498.41,822.84 L496.89,804.93 L495.36,805.03 L493.83,804.14 L492.31,814.87 L490.78,820.3 L489.26,816.59 L487.73,824.25 L486.2,828.51 L484.68,823.13 L483.15,818.56 L481.62,807.74 L480.1,805.05 L478.57,801.06 L477.05,804.51 L475.52,809.19 L473.99,792.92 L472.47,785.95 L470.94,774.19 L469.42,773.48 L467.89,789.03 L466.36,774.82 L464.84,783.05 L463.31,787.11 L461.79,779.63 L460.26,773.49 L458.73,763.99 L457.21,765.62 L455.68,768.99 L454.16,773.29 L452.63,774.76 L451.1,779.45 L449.58,785.99 L448.05,782.99 L446.52,781.37 L445,769.36 L443.47,800.24 L441.95,812.49 L440.42,814.42 L438.89,808.54 L437.37,797.47 L435.84,792.87 L434.32,778.69 L432.79,784.96 L431.26,788.63 L429.74,792.39 L428.21,805.05 L426.69,810.69 L425.16,809.48 L423.63,801.96 L422.11,797.82 L420.58,803.25 L419.05,789.8 L417.53,783.55 L416,790.64 L414.48,790.99 L412.95,797.49 L411.42,794.36 L409.9,796.73 L408.37,793.7 L406.85,815.63 L405.32,829.66 L403.79,811.76 L402.27,810.47 L400.74,793.67 L399.22,791.98 L397.69,797.26 L396.16,794.15 L394.64,803.39 L393.11,807.53 L391.59,805.58 L390.06,798.47 L388.53,790.61 L387.01,791.46 L385.48,780.3 L383.95,777.48 L382.43,772.77 L380.9,768.61 L379.38,773.7 L377.85,776.67 L376.32,774.91 L374.8,781.9 L373.27,790.79 L371.75,801.13 L370.22,799.23 L368.69,798.21 L367.17,795.7 L365.64,797.93 L364.12,816.1 L362.59,797.55 L361.06,783.1 L359.54,771.24 L358.01,765.2 L356.48,770.18 L354.96,771.54 L353.43,786.52 L351.91,784.9 L350.38,786.67 L348.85,775.66 L347.33,772 L345.8,775.79 L344.28,786.17 L342.75,791.96 L341.22,787.85 L339.7,789.83 L338.17,781.14 L336.65,788.43 L335.12,792.64 L333.59,784.29 L332.07,783.35 L330.54,776.73 L329.02,779.47 L327.49,782.61 L325.96,773.54 L324.44,766.17 L322.91,762.98 L321.38,775.77 L319.86,778.21 L318.33,782.5 L316.81,785.23 L315.28,776.87 L313.75,778.76 L312.23,771.98 L310.7,767.23 L309.18,760.36 L307.65,762.01 L306.12,775.77 L304.6,779.5 L303.07,786.53 L301.55,783.12 L300.02,774.79 L298.49,766.34 L296.97,756.9 L295.44,764.93 L293.91,759.74 L292.39,758.69 L290.86,755.63 L289.34,738.94 L287.81,745.77 L286.28,743.13 L284.76,736.27 L283.23,743.41 L281.71,749.32 L280.18,753.83 L278.65,746.52 L277.13,734.92 L275.6,733.96 L274.08,726.59 L272.55,729.87 L271.02,732.63 L269.5,731.46 L267.97,739.82 L266.45,757.01 L264.92,747.38 L263.39,757.22 L261.87,758.64 L260.34,748.94 L258.81,757.78 L257.29,763.31 L255.76,763.57 L254.24,771.95 L252.71,772.65 L251.18,771.1 L249.66,776.9 L248.13,786.54 L246.61,789.59 L245.08,787.57 L243.55,791.41 L242.03,778.64 L240.5,782.01 L238.98,798.86 L237.45,793.72 L235.92,793.58 L234.4,788.32 L232.87,776.98 L231.34,778.09 L229.82,777.95 L228.29,782.85 L226.77,785.25 L225.24,787.91 L223.71,789.71 L222.19,778.01 L220.66,775.24 L219.14,778.9 L217.61,782.53 L216.08,789.82 L214.56,801.32 L213.03,798.06 L211.51,795.63 L209.98,796.43 L208.45,792.47 L206.93,790.81 L205.4,788.61 L203.88,798.27 L202.35,799.36 L200.82,788.95 L199.3,793.51 L197.77,803.28 L196.24,812.22 L194.72,822.8 L193.19,817.96 L191.67,812.19 L190.14,798.1 L188.61,793.89 L187.09,795.57 L185.56,796.86 L184.04,793.16 L182.51,800.52 L180.98,796.53 L179.46,808.32 L177.93,830.3 L176.41,832.56 L174.88,835.97 L173.35,836.18 L171.83,825.52 L170.3,820.61 L168.77,824.23 L167.25,827.19 L165.72,834.68 L164.2,842 L162.67,836.08 L161.14,834.81 L159.62,838.35 L158.09,836.82 L156.57,850.86 L155.04,859.95 L153.51,861.47 L151.99,870.88 L150.46,866.08 L148.94,870.32 L147.41,865.4 L145.88,876.41 L144.36,884.77 L142.83,879.24 L141.3,875.71 L139.78,862.11 L138.25,861.77 L136.73,859.3 L135.2,864.87 L133.67,869.96 L132.15,878.35 L130.62,880.02 L129.1,879.5 L127.57,872.54 L126.04,858.18 L124.52,852.91 L122.99,851.8 L121.47,850.4 L119.94,851.8 L118.41,856.92 L116.89,849.49 L115.36,848.9 L113.84,858.09 L112.31,860.08 L110.78,857.37 L109.26,859.04 L107.73,868.7 L106.2,885.54 L104.68,882.57 L103.15,882.24 L101.63,878.43 L100.1,874.61 L98.57,881.57 L97.05,873.16 L95.52,867.32 L94,865.58 L92.47,869.58 L90.94,875.18 L89.42,866.62 L87.89,872.31 L86.37,875.26 L84.84,875.72 L83.31,879.59 L81.79,871.65 L80.26,861.26 L78.73,864.41 L77.21,859.33 L75.68,854.38 L74.16,864.96 L72.63,867.76 L71.1,866.66 L69.58,870.04 L68.05,858.88 L66.53,847.89 L65,861.64 Z" fill="rgba(200,30,60,0.30)"/>
<path d="M65,845.92 L66.53,843.89 L68.05,849.69 L69.58,857.17 L71.1,859.78 L72.63,853.57 L74.16,846.45 L75.68,841.81 L77.21,840.69 L78.73,842.21 L80.26,841.68 L81.79,844.39 L83.31,849.53 L84.84,851.57 L86.37,845.88 L87.89,843.14 L89.42,844.79 L90.94,849.92 L92.47,844.83 L94,838.93 L95.52,839.09 L97.05,845.19 L98.57,851.29 L100.1,846.9 L101.63,842.47 L103.15,842.48 L104.68,849.13 L106.2,850.15 L107.73,839.92 L109.26,831.29 L110.78,829.85 L112.31,837.99 L113.84,834.8 L115.36,830.73 L116.89,829.18 L118.41,832.03 L119.94,832.03 L121.47,833.22 L122.99,834.71 L124.52,835.73 L126.04,835.36 L127.57,834.92 L129.1,839.5 L130.62,841.46 L132.15,838.35 L133.67,834.28 L135.2,832.55 L136.73,834.48 L138.25,839.76 L139.78,845.87 L141.3,851.48 L142.83,855.41 L144.36,854.39 L145.88,846.93 L147.41,841.3 L148.94,839.25 L150.46,841.15 L151.99,840.13 L153.51,834.51 L155.04,826.91 L156.57,818.95 L158.09,811.83 L159.62,814.71 L161.14,818.16 L162.67,819.59 L164.2,817.52 L165.72,814.47 L167.25,812.18 L168.77,808.75 L170.3,803.66 L171.83,798.57 L173.35,796.18 L174.88,795.97 L176.41,797.3 L177.93,799.2 L179.46,795.13 L180.98,791.69 L182.51,789.66 L184.04,789.16 L185.56,790.8 L187.09,791.57 L188.61,789.89 L190.14,784.59 L191.67,777.74 L193.19,777.96 L194.72,783.81 L196.24,788.9 L197.77,790.9 L199.3,782.76 L200.82,778.63 L202.35,780.92 L203.88,782.49 L205.4,777.41 L206.93,773.09 L208.45,770.04 L209.98,767.18 L211.51,766.16 L213.03,764.38 L214.56,761.32 L216.08,758.78 L217.61,756.49 L219.14,753.91 L220.66,750.86 L222.19,748.25 L223.71,750.29 L225.24,752.13 L226.77,753.66 L228.29,754.8 L229.82,751.75 L231.34,748.7 L232.87,749.9 L234.4,752.19 L235.92,755.64 L237.45,760.22 L238.98,763.11 L240.5,760.06 L242.03,757 L243.55,754.66 L245.08,752.38 L246.61,749.59 L248.13,746.54 L249.66,744.44 L251.18,743 L252.71,743.77 L254.24,744.53 L255.76,741.75 L257.29,738.86 L258.81,736.57 L260.34,734.28 L261.87,732.7 L263.39,731.17 L264.92,728.68 L266.45,725.62 L267.97,717.89 L269.5,709.23 L271.02,699.58 L272.55,705.68 L274.08,715.52 L275.6,724.25 L277.13,727.31 L278.65,730.36 L280.18,727.83 L281.71,724.07 L283.23,717.45 L284.76,716.25 L286.28,720.83 L287.81,721.11 L289.34,720.57 L290.86,728.71 L292.39,734.79 L293.91,736.83 L295.44,739.02 L296.97,741.31 L298.49,744.19 L300.02,748.26 L301.55,748.56 L303.07,746.53 L304.6,743.58 L306.12,740.52 L307.65,739.82 L309.18,740.58 L310.7,743.09 L312.23,749.19 L313.75,754.67 L315.28,759.76 L316.81,763.03 L318.33,765.16 L319.86,763.13 L321.38,759.56 L322.91,754.22 L324.44,749.82 L325.96,749.82 L327.49,747.94 L329.02,743.87 L330.54,744.35 L332.07,746.57 L333.59,754.63 L335.12,762.69 L336.65,762.37 L338.17,762.41 L339.7,766.48 L341.22,769.55 L342.75,771.58 L344.28,766.51 L345.8,759.51 L347.33,754.42 L348.85,753.55 L350.38,760.67 L351.91,758.19 L353.43,750.05 L354.96,753.07 L356.48,757.14 L358.01,761.2 L359.54,767.24 L361.06,775.38 L362.59,781.96 L364.12,787.02 L365.64,772.78 L367.17,764.68 L368.69,768.75 L370.22,772.19 L371.75,775.24 L373.27,770.93 L374.8,765.65 L376.32,759.55 L377.85,755.37 L379.38,753.33 L380.9,749.76 L382.43,746.28 L383.95,756.45 L385.48,765.3 L387.01,771.41 L388.53,775.65 L390.06,778.7 L391.59,782.66 L393.11,785.82 L394.64,784.8 L396.16,783.31 L397.69,781.28 L399.22,780.77 L400.74,780.96 L402.27,787.07 L403.79,791.56 L405.32,792.58 L406.85,783.82 L408.37,768.56 L409.9,771.3 L411.42,775.19 L412.95,773.15 L414.48,769.73 L416,764.64 L417.53,767.82 L419.05,773.85 L420.58,776.9 L422.11,779.64 L423.63,781.68 L425.16,786.12 L426.69,792.22 L428.21,782.3 L429.74,771.88 L431.26,770.86 L432.79,771.2 L434.32,773.23 L435.84,775.27 L437.37,777.3 L438.89,779.34 L440.42,782.58 L441.95,788.68 L443.47,779.41 L445,759.06 L446.52,764.26 L448.05,769.01 L449.58,772 L451.1,765.9 L452.63,759.2 L454.16,751.06 L455.68,744.09 L457.21,737.99 L458.73,743.25 L460.26,750.66 L461.79,759.82 L463.31,762.01 L464.84,754.89 L466.36,757.19 L467.89,763.29 L469.42,757.88 L470.94,758.21 L472.47,765.33 L473.99,786.44 L475.52,792.29 L477.05,786.27 L478.57,782.2 L480.1,782.64 L481.62,784.79 L483.15,792.93 L484.68,796.75 L486.2,790.65 L487.73,784.54 L489.26,778.44 L490.78,780.3 L492.31,782.18 L493.83,777.66 L495.36,779.69 L496.89,783.51 L498.41,791.65 L499.94,795.69 L501.46,796.71 L502.99,793.36 L504.52,789.15 L506.04,784.06 L507.57,784.16 L509.09,791.28 L510.62,794.08 L512.15,795.1 L513.67,790.07 L515.2,786.65 L516.73,787.67 L518.25,789.26 L519.78,791.29 L521.3,793.32 L522.83,796.42 L524.36,807.11 L525.88,801.36 L527.41,798.45 L528.93,805.09 L530.46,815.78 L531.99,808.65 L533.51,789.65 L535.04,786.01 L536.56,790.86 L538.09,795.95 L539.62,798.53 L541.14,800.46 L542.67,801.47 L544.2,801.7 L545.72,800.68 L547.25,803.08 L548.77,807.15 L550.3,812.19 L551.83,815.34 L553.35,812.29 L554.88,817.19 L556.4,833.42 L557.93,849.35 L559.46,842.23 L560.98,835.63 L562.51,829.53 L564.03,824.24 L565.56,819.65 L567.09,820.66 L568.61,821.31 L570.14,821.31 L571.66,821.97 L573.19,822.99 L574.72,828.74 L576.24,832.88 L577.77,829.83 L579.3,827.29 L580.82,825.25 L582.35,827.98 L583.87,831.6 L585.4,828.55 L586.93,828.66 L588.45,834.77 L589.98,835.75 L591.5,833.72 L593.03,832.61 L594.56,832.19 L596.08,834.22 L597.61,834.31 L599.13,832.27 L600.66,833.34 L602.19,835.19 L603.71,833.16 L605.24,832.12 L606.77,833.14 L608.29,832.92 L609.82,831.9 L611.34,843.62 L612.87,854.68 L614.4,855.7 L615.92,855.31 L617.45,853.27 L618.97,855.42 L620.5,859.01" fill="none" stroke="#b41b30" stroke-width="1.3" stroke-linejoin="round"/>
</svg>
<path d="M112.31,892 v-5 M112.31,666.8 v5 M155.04,892 v-5 M155.04,666.8 v5 M202.35,892 v-5 M202.35,666.8 v5 M248.13,892 v-5 M248.13,666.8 v5 M295.44,892 v-5 M295.44,666.8 v5 M341.22,892 v-5 M341.22,666.8 v5 M388.53,892 v-5 M388.53,666.8 v5 M435.84,892 v-5 M435.84,666.8 v5 M481.62,892 v-5 M481.62,666.8 v5 M528.93,892 v-5 M528.93,666.8 v5 M574.72,892 v-5 M574.72,666.8 v5 M65,853.8 h5 M620.5,853.8 h-5 M65,807 h5 M620.5,807 h-5 M65,760.2 h5 M620.5,760.2 h-5 M65,713.4 h5 M620.5,713.4 h-5 M65,666.6 h5 M620.5,666.6 h-5" stroke="#999" stroke-width="1.3" fill="none"/>
<rect x="65" y="666.8" width="555.5" height="225.2" fill="none" stroke="#a2a2a2" stroke-width="1.4"/>
<g style="font-family:'Liberation Sans',sans-serif;font-size:19px" fill="#1a1a1a" stroke="#1a1a1a" stroke-width="0.3"><text x="58.5" y="860.8" text-anchor="end">5</text><text x="58.5" y="814" text-anchor="end">6</text><text x="58.5" y="767.2" text-anchor="end">7</text><text x="58.5" y="720.4" text-anchor="end">8</text><text x="58.5" y="673.6" text-anchor="end">9</text><text x="65" y="915.1" text-anchor="middle">J</text><text x="112.31" y="915.1" text-anchor="middle">F</text><text x="155.04" y="915.1" text-anchor="middle">M</text><text x="202.35" y="915.1" text-anchor="middle">A</text><text x="248.13" y="915.1" text-anchor="middle">M</text><text x="295.44" y="915.1" text-anchor="middle">J</text><text x="341.22" y="915.1" text-anchor="middle">J</text><text x="388.53" y="915.1" text-anchor="middle">A</text><text x="435.84" y="915.1" text-anchor="middle">S</text><text x="481.62" y="915.1" text-anchor="middle">O</text><text x="528.93" y="915.1" text-anchor="middle">N</text><text x="574.72" y="915.1" text-anchor="middle">D</text></g>
<text transform="translate(26.8,780) rotate(-90)" text-anchor="middle" style="font-family:'Liberation Sans',sans-serif;font-size:21px" fill="#1a1a1a" stroke="#1a1a1a" stroke-width="0.3">wind speed (m s<tspan dy="-10" font-size="15.5">-1</tspan><tspan dy="10">)</tspan></text>
<text x="14" y="654" style="font-family:'Liberation Sans',sans-serif;font-size:30px;font-weight:bold" fill="#000">E</text>
<g stroke="#ededed" stroke-width="1"><line x1="843.03" y1="666.8" x2="843.03" y2="892"/><line x1="885.77" y1="666.8" x2="885.77" y2="892"/><line x1="933.1" y1="666.8" x2="933.1" y2="892"/><line x1="978.9" y1="666.8" x2="978.9" y2="892"/><line x1="1026.22" y1="666.8" x2="1026.22" y2="892"/><line x1="1072.02" y1="666.8" x2="1072.02" y2="892"/><line x1="1119.35" y1="666.8" x2="1119.35" y2="892"/><line x1="1166.68" y1="666.8" x2="1166.68" y2="892"/><line x1="1212.48" y1="666.8" x2="1212.48" y2="892"/><line x1="1259.8" y1="666.8" x2="1259.8" y2="892"/><line x1="1305.6" y1="666.8" x2="1305.6" y2="892"/><line x1="795.7" y1="873.8" x2="1351.4" y2="873.8"/><line x1="795.7" y1="835.98" x2="1351.4" y2="835.98"/><line x1="795.7" y1="798.16" x2="1351.4" y2="798.16"/><line x1="795.7" y1="760.34" x2="1351.4" y2="760.34"/><line x1="795.7" y1="722.52" x2="1351.4" y2="722.52"/><line x1="795.7" y1="684.7" x2="1351.4" y2="684.7"/></g>
<svg x="795.7" y="666.8" width="555.7" height="225.2" viewBox="795.7 666.8 555.7 225.2" overflow="hidden">
<path d="M795.7,840.57 L797.23,842.88 L798.75,849.77 L800.28,850.65 L801.8,844.87 L803.33,836.08 L804.86,837.3 L806.38,829.06 L807.91,824.97 L809.43,820.59 L810.96,812.34 L812.49,826.14 L814.01,824.85 L815.54,825.05 L817.07,825.69 L818.59,828.62 L820.12,834.78 L821.64,847.04 L823.17,846.56 L824.7,834.28 L826.22,831.42 L827.75,836.63 L829.27,839.06 L830.8,841.46 L832.33,834.56 L833.85,829.55 L835.38,824.48 L836.9,821.65 L838.43,824.3 L839.96,826.26 L841.48,827.33 L843.01,821.63 L844.54,817.53 L846.06,809.62 L847.59,803.77 L849.11,804.75 L850.64,801.94 L852.17,800.48 L853.69,805.61 L855.22,803.98 L856.74,809.17 L858.27,815.65 L859.8,821.32 L861.32,831.99 L862.85,830.09 L864.37,823.58 L865.9,819.53 L867.43,810.03 L868.95,814.45 L870.48,821.36 L872,820.4 L873.53,817.86 L875.06,821.64 L876.58,816.01 L878.11,812.89 L879.64,822.26 L881.16,812.02 L882.69,812.23 L884.21,809.71 L885.74,806.32 L887.27,798.69 L888.79,791.96 L890.32,802.44 L891.84,804.22 L893.37,803.07 L894.9,800.6 L896.42,796.5 L897.95,789.95 L899.47,785.11 L901,792.71 L902.53,795.26 L904.05,800.92 L905.58,801.83 L907.11,814.92 L908.63,814.37 L910.16,806.8 L911.68,798.66 L913.21,792 L914.74,784.96 L916.26,790.47 L917.79,785.69 L919.31,773.46 L920.84,784.06 L922.37,770.17 L923.89,769.35 L925.42,774.44 L926.94,765.7 L928.47,761.06 L930,772.6 L931.52,782.75 L933.05,788.29 L934.58,791.02 L936.1,771.5 L937.63,765.42 L939.15,764.03 L940.68,768.79 L942.21,769.66 L943.73,767.75 L945.26,766.15 L946.78,762.39 L948.31,759.2 L949.84,753.22 L951.36,757.52 L952.89,757.52 L954.41,749.53 L955.94,743.68 L957.47,730.99 L958.99,710.01 L960.52,704.75 L962.04,693.13 L963.57,688.88 L965.1,709.92 L966.62,728.59 L968.15,737.56 L969.68,727.68 L971.2,730.92 L972.73,725.83 L974.25,727.36 L975.78,741.8 L977.31,734.2 L978.83,731.49 L980.36,736.19 L981.88,732.99 L983.41,738.96 L984.94,725.44 L986.46,722.21 L987.99,719.84 L989.51,725.32 L991.04,732.34 L992.57,723.24 L994.09,732.12 L995.62,717.48 L997.15,704.71 L998.67,711.21 L1000.2,714.61 L1001.72,727.45 L1003.25,733.82 L1004.78,734.98 L1006.3,729.67 L1007.83,735.57 L1009.35,745.95 L1010.88,751.05 L1012.41,751.5 L1013.93,742.75 L1015.46,738.31 L1016.98,750.53 L1018.51,741.35 L1020.04,727.37 L1021.56,694.77 L1023.09,685.74 L1024.61,703.61 L1026.14,724.88 L1027.67,740.92 L1029.19,757.54 L1030.72,756.42 L1032.25,755.92 L1033.77,749.32 L1035.3,754.86 L1036.82,763.58 L1038.35,760.04 L1039.88,744.36 L1041.4,740.48 L1042.93,742.88 L1044.45,756.48 L1045.98,764.78 L1047.51,776.35 L1049.03,774.89 L1050.56,765.15 L1052.08,756.46 L1053.61,745.72 L1055.14,747.16 L1056.66,741.72 L1058.19,740.9 L1059.72,750.48 L1061.24,756.52 L1062.77,755.22 L1064.29,741.93 L1065.82,727.28 L1067.35,717.73 L1068.87,732.44 L1070.4,744.89 L1071.92,764.31 L1073.45,764.79 L1074.98,752.91 L1076.5,762.78 L1078.03,760.26 L1079.55,764.91 L1081.08,778.32 L1082.61,785.72 L1084.13,785.16 L1085.66,782.54 L1087.18,782.37 L1088.71,774.85 L1090.24,783.44 L1091.76,766.95 L1093.29,772.12 L1094.82,776.47 L1096.34,771.65 L1097.87,788.56 L1099.39,771.91 L1100.92,766.98 L1102.45,768.51 L1103.97,759.89 L1105.5,755.2 L1107.02,752.47 L1108.55,751.65 L1110.08,758.4 L1111.6,766.41 L1113.13,778.55 L1114.65,779.64 L1116.18,782.28 L1117.71,786.23 L1119.23,774.08 L1120.76,762.68 L1122.29,757.51 L1123.81,757 L1125.34,752.9 L1126.86,761.16 L1128.39,763.25 L1129.92,755.31 L1131.44,766.01 L1132.97,770.46 L1134.49,780.75 L1136.02,789.05 L1137.55,785.02 L1139.07,795.6 L1140.6,808.02 L1142.12,808.67 L1143.65,796.07 L1145.18,778.1 L1146.7,755.63 L1148.23,751.45 L1149.75,781.06 L1151.28,787.69 L1152.81,793.97 L1154.33,794.8 L1155.86,783.28 L1157.39,785.61 L1158.91,793.85 L1160.44,795.58 L1161.96,798.57 L1163.49,805.26 L1165.02,806.02 L1166.54,797.51 L1168.07,789.43 L1169.59,790.06 L1171.12,782.84 L1172.65,780.06 L1174.17,781.65 L1175.7,766.51 L1177.22,768.05 L1178.75,774.71 L1180.28,775.11 L1181.8,784.05 L1183.33,787.15 L1184.86,788.22 L1186.38,788.62 L1187.91,790.25 L1189.43,793.19 L1190.96,785.81 L1192.49,792.39 L1194.01,798.1 L1195.54,799.76 L1197.06,811.12 L1198.59,797.18 L1200.12,793.8 L1201.64,797.92 L1203.17,791.64 L1204.69,799.88 L1206.22,810.06 L1207.75,806.9 L1209.27,807.41 L1210.8,801.53 L1212.33,792.74 L1213.85,791.41 L1215.38,793.5 L1216.9,799.93 L1218.43,794.18 L1219.96,793.1 L1221.48,793.92 L1223.01,792.7 L1224.53,806.02 L1226.06,798.57 L1227.59,781.05 L1229.11,773.23 L1230.64,777.23 L1232.16,778.41 L1233.69,792.44 L1235.22,796.94 L1236.74,802.87 L1238.27,799.05 L1239.79,799.93 L1241.32,790.79 L1242.85,791.21 L1244.37,805.04 L1245.9,808.35 L1247.43,824.84 L1248.95,825.85 L1250.48,825.86 L1252,822.27 L1253.53,807.21 L1255.06,817.54 L1256.58,805.16 L1258.11,804.36 L1259.63,821.49 L1261.16,827.23 L1262.69,837.97 L1264.21,836.4 L1265.74,837.54 L1267.26,817.45 L1268.79,810.31 L1270.32,807.54 L1271.84,795.56 L1273.37,810.55 L1274.9,803.79 L1276.42,796.17 L1277.95,802.45 L1279.47,805.92 L1281,810.48 L1282.53,820.88 L1284.05,821.72 L1285.58,811.26 L1287.1,798.91 L1288.63,810.81 L1290.16,817.33 L1291.68,836.78 L1293.21,841.22 L1294.73,827.85 L1296.26,816.73 L1297.79,806.72 L1299.31,808.24 L1300.84,809.45 L1302.36,820.08 L1303.89,823.08 L1305.42,820.38 L1306.94,817.91 L1308.47,818.55 L1310,817.43 L1311.52,825.74 L1313.05,832.97 L1314.57,832.35 L1316.1,833.4 L1317.63,833.72 L1319.15,840.04 L1320.68,839.57 L1322.2,836.46 L1323.73,833.83 L1325.26,818.94 L1326.78,823.31 L1328.31,825.1 L1329.83,834.47 L1331.36,837.81 L1332.89,835.04 L1334.41,827.13 L1335.94,807.21 L1337.47,805.62 L1338.99,808.94 L1340.52,826.94 L1342.04,833.14 L1343.57,836.98 L1345.1,825.42 L1346.62,813.57 L1348.15,814.33 L1349.67,824.81 L1351.2,834.47 L1351.2,867.29 L1349.67,865.22 L1348.15,859.08 L1346.62,858.09 L1345.1,857.88 L1343.57,867.29 L1342.04,872.39 L1340.52,866.94 L1338.99,872.7 L1337.47,868.7 L1335.94,866.44 L1334.41,862.11 L1332.89,860.52 L1331.36,864.93 L1329.83,870.11 L1328.31,873.06 L1326.78,878.62 L1325.26,871.83 L1323.73,863.11 L1322.2,869.92 L1320.68,859.36 L1319.15,856.12 L1317.63,857.28 L1316.1,855.29 L1314.57,864.36 L1313.05,866.64 L1311.52,862.15 L1310,862.02 L1308.47,854.34 L1306.94,856.82 L1305.42,868.18 L1303.89,865.96 L1302.36,870.84 L1300.84,875.07 L1299.31,868.7 L1297.79,865.95 L1296.26,869.12 L1294.73,865.49 L1293.21,867.29 L1291.68,868.18 L1290.16,861.59 L1288.63,855.83 L1287.1,859.56 L1285.58,862.89 L1284.05,862.07 L1282.53,859.08 L1281,843.56 L1279.47,835.89 L1277.95,835.8 L1276.42,847.52 L1274.9,853.66 L1273.37,859.47 L1271.84,856.35 L1270.32,845.12 L1268.79,855.46 L1267.26,859.47 L1265.74,857.16 L1264.21,854.61 L1262.69,851.53 L1261.16,845.28 L1259.63,841.44 L1258.11,847.43 L1256.58,852.95 L1255.06,856.7 L1253.53,858.14 L1252,851.64 L1250.48,852.63 L1248.95,851.3 L1247.43,841.51 L1245.9,843.33 L1244.37,836.17 L1242.85,829.78 L1241.32,836.49 L1239.79,828.93 L1238.27,828.74 L1236.74,842.73 L1235.22,825.05 L1233.69,816.17 L1232.16,810.39 L1230.64,805.44 L1229.11,810.48 L1227.59,838.77 L1226.06,848.79 L1224.53,849.14 L1223.01,838.23 L1221.48,822.15 L1219.96,824.08 L1218.43,830.86 L1216.9,836.89 L1215.38,851.76 L1213.85,845.05 L1212.33,841.97 L1210.8,840.63 L1209.27,831.97 L1207.75,833.33 L1206.22,832.83 L1204.69,836.5 L1203.17,834.56 L1201.64,832.73 L1200.12,837.49 L1198.59,839.21 L1197.06,843.28 L1195.54,836.66 L1194.01,835.72 L1192.49,830.26 L1190.96,834.53 L1189.43,838.64 L1187.91,837.62 L1186.38,833.58 L1184.86,836.08 L1183.33,835.48 L1181.8,827.68 L1180.28,822.49 L1178.75,822.14 L1177.22,815.09 L1175.7,811.73 L1174.17,826.41 L1172.65,829.96 L1171.12,844.86 L1169.59,853.09 L1168.07,850.94 L1166.54,850.9 L1165.02,842.05 L1163.49,838.29 L1161.96,841.6 L1160.44,831.2 L1158.91,842.45 L1157.39,845.52 L1155.86,830.62 L1154.33,836.75 L1152.81,831.05 L1151.28,816.07 L1149.75,822.62 L1148.23,814 L1146.7,818.36 L1145.18,834.11 L1143.65,839.94 L1142.12,833.51 L1140.6,839.86 L1139.07,830 L1137.55,809.77 L1136.02,804.4 L1134.49,791.7 L1132.97,783.9 L1131.44,782.73 L1129.92,787.2 L1128.39,794 L1126.86,801.19 L1125.34,809.59 L1123.81,822.83 L1122.29,807.59 L1120.76,811.62 L1119.23,816.57 L1117.71,813.25 L1116.18,829.08 L1114.65,821.82 L1113.13,812 L1111.6,806.21 L1110.08,798.31 L1108.55,804.51 L1107.02,806.31 L1105.5,824.55 L1103.97,825.4 L1102.45,815.44 L1100.92,814.31 L1099.39,804.7 L1097.87,805.34 L1096.34,802.89 L1094.82,796.04 L1093.29,792.95 L1091.76,791.43 L1090.24,797.63 L1088.71,809.47 L1087.18,812.45 L1085.66,818.9 L1084.13,827.91 L1082.61,821.69 L1081.08,812.98 L1079.55,801.01 L1078.03,799.44 L1076.5,798.44 L1074.98,797.45 L1073.45,809.36 L1071.92,807.94 L1070.4,793.07 L1068.87,786.68 L1067.35,778.07 L1065.82,788.62 L1064.29,796.33 L1062.77,795.34 L1061.24,795.83 L1059.72,785.14 L1058.19,778.56 L1056.66,793.48 L1055.14,796.58 L1053.61,798.67 L1052.08,809.24 L1050.56,804.48 L1049.03,801.83 L1047.51,797.45 L1045.98,791.04 L1044.45,790.81 L1042.93,793.57 L1041.4,802.43 L1039.88,800.06 L1038.35,805.46 L1036.82,811.26 L1035.3,797.67 L1033.77,802.67 L1032.25,815.58 L1030.72,824.31 L1029.19,823.88 L1027.67,799.4 L1026.14,775.09 L1024.61,750.4 L1023.09,741.83 L1021.56,737.1 L1020.04,764.51 L1018.51,781.09 L1016.98,784.71 L1015.46,785.84 L1013.93,780.75 L1012.41,790.26 L1010.88,785.36 L1009.35,784.33 L1007.83,784.91 L1006.3,778.34 L1004.78,791.03 L1003.25,797.49 L1001.72,787.77 L1000.2,773.21 L998.67,756.3 L997.15,747.05 L995.62,750.89 L994.09,759.48 L992.57,767.21 L991.04,761.73 L989.51,767 L987.99,770.38 L986.46,776.45 L984.94,786.74 L983.41,791.45 L981.88,785.51 L980.36,769.4 L978.83,774.01 L977.31,772.1 L975.78,776.13 L974.25,778.75 L972.73,775.28 L971.2,771.33 L969.68,766.48 L968.15,772.78 L966.62,762.75 L965.1,771.94 L963.57,765.4 L962.04,748.3 L960.52,757.23 L958.99,759.63 L957.47,769.97 L955.94,796.04 L954.41,801.65 L952.89,795.83 L951.36,801.79 L949.84,802.59 L948.31,797.86 L946.78,814.49 L945.26,816.26 L943.73,803 L942.21,807.08 L940.68,802.38 L939.15,805.41 L937.63,829.62 L936.1,831.74 L934.58,838.44 L933.05,827.21 L931.52,818.02 L930,816.39 L928.47,809.66 L926.94,819.14 L925.42,815.38 L923.89,815.04 L922.37,821.14 L920.84,823.79 L919.31,818.97 L917.79,819.16 L916.26,827.88 L914.74,832.73 L913.21,840.75 L911.68,844.21 L910.16,846.56 L908.63,855.58 L907.11,853.27 L905.58,843.28 L904.05,843.49 L902.53,831.08 L901,827.53 L899.47,835.32 L897.95,831.78 L896.42,837.79 L894.9,835.95 L893.37,829.4 L891.84,843.94 L890.32,833.01 L888.79,841.3 L887.27,850.15 L885.74,844.58 L884.21,847.79 L882.69,841.33 L881.16,836.56 L879.64,841.1 L878.11,844.28 L876.58,840.24 L875.06,850.12 L873.53,853.88 L872,857.45 L870.48,862.69 L868.95,855.66 L867.43,853.31 L865.9,848.86 L864.37,850.79 L862.85,857.92 L861.32,861.46 L859.8,865.08 L858.27,861.37 L856.74,854.9 L855.22,851.47 L853.69,841.29 L852.17,841.94 L850.64,840.93 L849.11,841.6 L847.59,847.37 L846.06,847.09 L844.54,853.53 L843.01,859.65 L841.48,864.44 L839.96,870.41 L838.43,866.17 L836.9,857.16 L835.38,854.86 L833.85,848.26 L832.33,853.05 L830.8,852.97 L829.27,858.26 L827.75,855.08 L826.22,850.35 L824.7,861.97 L823.17,867.48 L821.64,873.6 L820.12,871.28 L818.59,867.14 L817.07,859.65 L815.54,859.83 L814.01,862.29 L812.49,863.69 L810.96,867.41 L809.43,864.6 L807.91,863.02 L806.38,868.71 L804.86,868.82 L803.33,874.24 L801.8,880.91 L800.28,882.28 L798.75,882.68 L797.23,884.17 L795.7,880.94 Z" fill="rgba(95,85,100,0.27)"/>
<path d="M795.7,865.13 L797.23,866.02 L798.75,865.65 L800.28,864.15 L801.8,860.4 L803.33,856.12 L804.86,852.32 L806.38,848.46 L807.91,844.53 L809.43,840.22 L810.96,839.49 L812.49,844.44 L814.01,845.43 L815.54,846.17 L817.07,846.49 L818.59,850.05 L820.12,856.49 L821.64,861.59 L823.17,856.35 L824.7,846.74 L826.22,838.67 L827.75,839.57 L829.27,844.72 L830.8,843.71 L832.33,836.36 L833.85,831.52 L835.38,830.04 L836.9,832.92 L838.43,839.32 L839.96,844.12 L841.48,846.46 L843.01,840.48 L844.54,836.4 L846.06,834.34 L847.59,831.71 L849.11,828.78 L850.64,824.03 L852.17,821.84 L853.69,823.24 L855.22,827.24 L856.74,830.07 L858.27,831.96 L859.8,832.88 L861.32,833.81 L862.85,835.57 L864.37,834.09 L865.9,830.61 L867.43,834.53 L868.95,841.32 L870.48,847.92 L872,851.42 L873.53,847.54 L875.06,842.57 L876.58,837.33 L878.11,835.28 L879.64,832.97 L881.16,830.18 L882.69,826.78 L884.21,825.14 L885.74,827.55 L887.27,818.9 L888.79,815.22 L890.32,817.83 L891.84,823.95 L893.37,822.51 L894.9,820.84 L896.42,818.55 L897.95,814.61 L899.47,813.28 L901,817.33 L902.53,824.6 L904.05,830.44 L905.58,836.1 L907.11,842.2 L908.63,842.69 L910.16,832.66 L911.68,817.17 L913.21,813.41 L914.74,808.52 L916.26,805.93 L917.79,804.4 L919.31,803.53 L920.84,800.34 L922.37,791.67 L923.89,781.9 L925.42,781.7 L926.94,788.33 L928.47,795.03 L930,803.38 L931.52,808.99 L933.05,810.51 L934.58,811.09 L936.1,802.95 L937.63,796.6 L939.15,793.43 L940.68,790.32 L942.21,788.17 L943.73,786.41 L945.26,785.33 L946.78,783.33 L948.31,780.86 L949.84,777.75 L951.36,773.55 L952.89,769.58 L954.41,768.44 L955.94,763.02 L957.47,750.09 L958.99,739.96 L960.52,731.31 L962.04,733.13 L963.57,737.27 L965.1,747 L966.62,753.97 L968.15,758.39 L969.68,762.05 L971.2,763.21 L972.73,762.61 L974.25,760.29 L975.78,756.32 L977.31,751.89 L978.83,750.86 L980.36,753.24 L981.88,760.22 L983.41,767.29 L984.94,761.24 L986.46,755.09 L987.99,748.84 L989.51,742.51 L991.04,736.53 L992.57,734.23 L994.09,737.94 L995.62,738.49 L997.15,737.26 L998.67,746.15 L1000.2,756.65 L1001.72,770.51 L1003.25,773.01 L1004.78,763.89 L1006.3,750.86 L1007.83,748.57 L1009.35,753.34 L1010.88,759.13 L1012.41,762.86 L1013.93,758.2 L1015.46,758.04 L1016.98,762.7 L1018.51,753.91 L1020.04,740.18 L1021.56,716.65 L1023.09,722.29 L1024.61,735.78 L1026.14,750.65 L1027.67,770.44 L1029.19,786.72 L1030.72,797.39 L1032.25,797.51 L1033.77,791.15 L1035.3,794.37 L1036.82,795.84 L1038.35,785.12 L1039.88,777.21 L1041.4,772.73 L1042.93,773.54 L1044.45,776.06 L1045.98,780.51 L1047.51,787.07 L1049.03,785.42 L1050.56,781.04 L1052.08,776.6 L1053.61,774.28 L1055.14,776.52 L1056.66,775.37 L1058.19,772 L1059.72,774.63 L1061.24,777.98 L1062.77,772.73 L1064.29,761.53 L1065.82,750 L1067.35,744.94 L1068.87,754.44 L1070.4,768.79 L1071.92,783.32 L1073.45,777.35 L1074.98,771.56 L1076.5,773.81 L1078.03,776.6 L1079.55,781.84 L1081.08,790.52 L1082.61,796.35 L1084.13,800.54 L1085.66,800.9 L1087.18,800.28 L1088.71,797.14 L1090.24,791.92 L1091.76,784.36 L1093.29,787.59 L1094.82,793.96 L1096.34,799.22 L1097.87,800.24 L1099.39,792.87 L1100.92,790.69 L1102.45,791.76 L1103.97,791.86 L1105.5,790.65 L1107.02,784.16 L1108.55,782.77 L1110.08,787.13 L1111.6,793.05 L1113.13,799.24 L1114.65,802.35 L1116.18,803.1 L1117.71,798.95 L1119.23,793.44 L1120.76,787.01 L1122.29,789.22 L1123.81,791.48 L1125.34,789.33 L1126.86,786.67 L1128.39,783.4 L1129.92,778.86 L1131.44,774.24 L1132.97,781.75 L1134.49,787.41 L1136.02,791.86 L1137.55,791.86 L1139.07,797.66 L1140.6,810 L1142.12,814.59 L1143.65,816.27 L1145.18,806.23 L1146.7,795.2 L1148.23,786.26 L1149.75,796.95 L1151.28,804.06 L1152.81,807.13 L1154.33,807.19 L1155.86,806.27 L1157.39,810.33 L1158.91,812.21 L1160.44,809.19 L1161.96,809.72 L1163.49,812.73 L1165.02,815.71 L1166.54,818.36 L1168.07,819.33 L1169.59,819.02 L1171.12,817.06 L1172.65,814.37 L1174.17,811.33 L1175.7,804.23 L1177.22,800.64 L1178.75,805.79 L1180.28,812.02 L1181.8,818.94 L1183.33,820.72 L1184.86,821.12 L1186.38,818.19 L1187.91,817.79 L1189.43,820.72 L1190.96,818.06 L1192.49,813.12 L1194.01,819.04 L1195.54,822.92 L1197.06,821.96 L1198.59,819.39 L1200.12,815.57 L1201.64,814.4 L1203.17,816.38 L1204.69,816.89 L1206.22,816.86 L1207.75,815.87 L1209.27,814.88 L1210.8,813.89 L1212.33,814.66 L1213.85,816.64 L1215.38,819.46 L1216.9,821.75 L1218.43,820.79 L1219.96,820.24 L1221.48,820.24 L1223.01,822.35 L1224.53,825.12 L1226.06,814.41 L1227.59,803.43 L1229.11,795.16 L1230.64,802.47 L1232.16,808.32 L1233.69,812.34 L1235.22,816.31 L1236.74,820.23 L1238.27,816.34 L1239.79,812.37 L1241.32,808.35 L1242.85,809.42 L1244.37,814.43 L1245.9,823.44 L1247.43,832.16 L1248.95,835.85 L1250.48,837.61 L1252,836.7 L1253.53,838.95 L1255.06,842.54 L1256.58,837.33 L1258.11,833.75 L1259.63,835.59 L1261.16,838.9 L1262.69,843.38 L1264.21,844.87 L1265.74,845.06 L1267.26,839.72 L1268.79,834.98 L1270.32,831.28 L1271.84,832.6 L1273.37,836.28 L1274.9,829.31 L1276.42,821.45 L1277.95,814.52 L1279.47,824.75 L1281,833.28 L1282.53,839.97 L1284.05,841.76 L1285.58,839.35 L1287.1,832.95 L1288.63,835.39 L1290.16,839.93 L1291.68,844.39 L1293.21,846.18 L1294.73,843.54 L1296.26,841.45 L1297.79,839.66 L1299.31,842.06 L1300.84,844.53 L1302.36,846.28 L1303.89,846.71 L1305.42,845.84 L1306.94,844.96 L1308.47,844.32 L1310,846.95 L1311.52,850.16 L1313.05,854.42 L1314.57,852.19 L1316.1,846.15 L1317.63,843.22 L1319.15,841.8 L1320.68,845.35 L1322.2,846.73 L1323.73,845.85 L1325.26,846.99 L1326.78,848.69 L1328.31,849.55 L1329.83,849.55 L1331.36,847.82 L1332.89,845.53 L1334.41,842.88 L1335.94,841.81 L1337.47,841.41 L1338.99,843.19 L1340.52,844.55 L1342.04,845.43 L1343.57,843.67 L1345.1,840.99 L1346.62,838.29 L1348.15,837.58 L1349.67,841.19 L1351.2,848.26" fill="none" stroke="#000000" stroke-width="1.3" stroke-linejoin="round"/>
<path d="M795.7,835.96 L797.23,838.51 L798.75,835.66 L800.28,841.08 L801.8,845.84 L803.33,837.55 L804.86,840.3 L806.38,833.59 L807.91,833.96 L809.43,826.77 L810.96,823.14 L812.49,828.91 L814.01,831.18 L815.54,832.54 L817.07,827.46 L818.59,825.76 L820.12,828.23 L821.64,823.92 L823.17,837.18 L824.7,832.42 L826.22,835.22 L827.75,837.74 L829.27,826.52 L830.8,834.58 L832.33,830.78 L833.85,829.14 L835.38,839.91 L836.9,843.18 L838.43,840.7 L839.96,842.39 L841.48,829.65 L843.01,834.12 L844.54,835.92 L846.06,822.92 L847.59,825.09 L849.11,820.82 L850.64,818.91 L852.17,821.3 L853.69,828.64 L855.22,836.84 L856.74,841.36 L858.27,840.49 L859.8,837.3 L861.32,834.11 L862.85,835.75 L864.37,816.27 L865.9,817.56 L867.43,820.67 L868.95,811.88 L870.48,824.16 L872,829.4 L873.53,829.16 L875.06,834.04 L876.58,829.66 L878.11,824.24 L879.64,820.57 L881.16,815.93 L882.69,815.24 L884.21,820.38 L885.74,819.14 L887.27,822.04 L888.79,816.35 L890.32,803.57 L891.84,797.57 L893.37,794.72 L894.9,795.81 L896.42,811.21 L897.95,811.2 L899.47,814.4 L901,814.82 L902.53,816.23 L904.05,825.25 L905.58,822.33 L907.11,817.58 L908.63,815.09 L910.16,808.72 L911.68,784.83 L913.21,786.88 L914.74,781.48 L916.26,773.17 L917.79,772.89 L919.31,756.86 L920.84,747.32 L922.37,744.71 L923.89,739.29 L925.42,733.79 L926.94,742.78 L928.47,744.06 L930,757.67 L931.52,767.16 L933.05,764.1 L934.58,773.49 L936.1,784.22 L937.63,776.38 L939.15,764.01 L940.68,745.67 L942.21,723.21 L943.73,719.23 L945.26,710.16 L946.78,710.42 L948.31,710.89 L949.84,714.13 L951.36,719.72 L952.89,719.19 L954.41,699.58 L955.94,692.51 L957.47,701.68 L958.99,715.87 L960.52,737.56 L962.04,758.38 L963.57,757.31 L965.1,758.16 L966.62,763.96 L968.15,753.79 L969.68,771.98 L971.2,777.16 L972.73,761.15 L974.25,754.6 L975.78,728.53 L977.31,723.82 L978.83,717.31 L980.36,713.9 L981.88,722 L983.41,716.25 L984.94,722.17 L986.46,730.73 L987.99,745.12 L989.51,746.71 L991.04,752.32 L992.57,749.31 L994.09,745.88 L995.62,746.97 L997.15,739.99 L998.67,726.14 L1000.2,724.23 L1001.72,720.68 L1003.25,715.05 L1004.78,715.26 L1006.3,698.7 L1007.83,684.89 L1009.35,690.85 L1010.88,706.61 L1012.41,711.51 L1013.93,722.24 L1015.46,723.42 L1016.98,713.9 L1018.51,724.48 L1020.04,726.26 L1021.56,718.76 L1023.09,707.69 L1024.61,703.15 L1026.14,699.05 L1027.67,726.75 L1029.19,752.62 L1030.72,763.39 L1032.25,768.89 L1033.77,748.25 L1035.3,719.59 L1036.82,722.69 L1038.35,721.86 L1039.88,729.67 L1041.4,735.57 L1042.93,726.77 L1044.45,716.15 L1045.98,695.79 L1047.51,705.97 L1049.03,712.52 L1050.56,738.77 L1052.08,740.98 L1053.61,742.67 L1055.14,746.19 L1056.66,741.68 L1058.19,752.24 L1059.72,751.64 L1061.24,774.71 L1062.77,775.54 L1064.29,773.52 L1065.82,773.54 L1067.35,767.84 L1068.87,774.56 L1070.4,774.16 L1071.92,787.71 L1073.45,786.06 L1074.98,774.89 L1076.5,761.36 L1078.03,752.96 L1079.55,766.34 L1081.08,779.81 L1082.61,788.52 L1084.13,789.26 L1085.66,778.52 L1087.18,765.39 L1088.71,755.4 L1090.24,757.06 L1091.76,761.7 L1093.29,767.31 L1094.82,767.46 L1096.34,772.13 L1097.87,755.92 L1099.39,757.78 L1100.92,763.77 L1102.45,750.16 L1103.97,753.56 L1105.5,755.45 L1107.02,756.3 L1108.55,767.64 L1110.08,779.64 L1111.6,787.17 L1113.13,791.33 L1114.65,799.47 L1116.18,792.34 L1117.71,781.77 L1119.23,770.63 L1120.76,749.49 L1122.29,737.98 L1123.81,740.64 L1125.34,747.14 L1126.86,757.14 L1128.39,761.18 L1129.92,750.57 L1131.44,749.21 L1132.97,755.14 L1134.49,750.01 L1136.02,760.79 L1137.55,762.51 L1139.07,765.28 L1140.6,769.92 L1142.12,769.99 L1143.65,779.1 L1145.18,785.38 L1146.7,773.36 L1148.23,768.24 L1149.75,766.69 L1151.28,750.48 L1152.81,755.26 L1154.33,750.77 L1155.86,760.32 L1157.39,768.43 L1158.91,772.62 L1160.44,773.81 L1161.96,765.2 L1163.49,770.91 L1165.02,773.86 L1166.54,777.42 L1168.07,774.85 L1169.59,766.26 L1171.12,755.83 L1172.65,768.04 L1174.17,793.57 L1175.7,802.65 L1177.22,809.02 L1178.75,811.04 L1180.28,802.72 L1181.8,806.83 L1183.33,815.77 L1184.86,819.58 L1186.38,809.6 L1187.91,798.97 L1189.43,786.29 L1190.96,771.02 L1192.49,776.42 L1194.01,769.43 L1195.54,767.89 L1197.06,776.5 L1198.59,779.06 L1200.12,791.28 L1201.64,793.46 L1203.17,786.66 L1204.69,783.23 L1206.22,788.57 L1207.75,796.77 L1209.27,789.52 L1210.8,787.98 L1212.33,776.77 L1213.85,763.37 L1215.38,773.27 L1216.9,774.56 L1218.43,801.18 L1219.96,813.72 L1221.48,817.2 L1223.01,830.97 L1224.53,817.3 L1226.06,804.23 L1227.59,776.43 L1229.11,776.55 L1230.64,796.46 L1232.16,801.3 L1233.69,803.2 L1235.22,781.56 L1236.74,759.72 L1238.27,763.32 L1239.79,779.8 L1241.32,778.34 L1242.85,782.43 L1244.37,775.67 L1245.9,773.8 L1247.43,782.71 L1248.95,793.15 L1250.48,799.24 L1252,797.69 L1253.53,794.41 L1255.06,801.92 L1256.58,801.58 L1258.11,798.98 L1259.63,800.73 L1261.16,796.29 L1262.69,797.18 L1264.21,793.43 L1265.74,792.19 L1267.26,792.82 L1268.79,799.32 L1270.32,805.21 L1271.84,810.43 L1273.37,816.76 L1274.9,809.14 L1276.42,812.07 L1277.95,808.76 L1279.47,801.97 L1281,807.62 L1282.53,807.08 L1284.05,808.25 L1285.58,807.54 L1287.1,814.08 L1288.63,808.26 L1290.16,817.09 L1291.68,817.61 L1293.21,808.18 L1294.73,816.65 L1296.26,809.83 L1297.79,807.9 L1299.31,806.3 L1300.84,807.91 L1302.36,804.98 L1303.89,808.45 L1305.42,813.06 L1306.94,812.82 L1308.47,824.38 L1310,822.7 L1311.52,819.25 L1313.05,818.8 L1314.57,816.31 L1316.1,810.4 L1317.63,816.84 L1319.15,807.85 L1320.68,803.18 L1322.2,804.33 L1323.73,806.24 L1325.26,815.83 L1326.78,823.68 L1328.31,828.49 L1329.83,827.08 L1331.36,832.45 L1332.89,835.8 L1334.41,834.76 L1335.94,827.25 L1337.47,822.08 L1338.99,813.08 L1340.52,812.67 L1342.04,826.32 L1343.57,835.72 L1345.1,844.53 L1346.62,842.62 L1348.15,838.69 L1349.67,833.66 L1351.2,833.44 L1351.2,869.47 L1349.67,870.67 L1348.15,869.85 L1346.62,876.22 L1345.1,875.87 L1343.57,876.61 L1342.04,867.37 L1340.52,863.84 L1338.99,866.62 L1337.47,869.15 L1335.94,874.78 L1334.41,869.72 L1332.89,859.33 L1331.36,856.5 L1329.83,853.69 L1328.31,858.85 L1326.78,870.34 L1325.26,865.1 L1323.73,864.83 L1322.2,865.57 L1320.68,860.19 L1319.15,865.48 L1317.63,857.22 L1316.1,855.96 L1314.57,860.13 L1313.05,858.61 L1311.52,861.96 L1310,862.5 L1308.47,853.53 L1306.94,860.53 L1305.42,853.64 L1303.89,852.83 L1302.36,861.73 L1300.84,854.05 L1299.31,864.86 L1297.79,858.13 L1296.26,855.43 L1294.73,857.11 L1293.21,859.96 L1291.68,862.95 L1290.16,862.14 L1288.63,860.58 L1287.1,852.59 L1285.58,842.73 L1284.05,846.62 L1282.53,851.22 L1281,854.8 L1279.47,859.34 L1277.95,855.68 L1276.42,847.97 L1274.9,844.78 L1273.37,839.06 L1271.84,832.55 L1270.32,828.64 L1268.79,827.43 L1267.26,830.12 L1265.74,830.28 L1264.21,834.26 L1262.69,835.21 L1261.16,829.92 L1259.63,836.66 L1258.11,833.89 L1256.58,840.25 L1255.06,844.85 L1253.53,835.09 L1252,834.86 L1250.48,823.96 L1248.95,819.48 L1247.43,824.58 L1245.9,829.19 L1244.37,833.52 L1242.85,828.26 L1241.32,824.34 L1239.79,817.48 L1238.27,818.86 L1236.74,823.21 L1235.22,827.64 L1233.69,846.19 L1232.16,840.72 L1230.64,832.16 L1229.11,819.89 L1227.59,821.87 L1226.06,837.8 L1224.53,845.6 L1223.01,844.72 L1221.48,836.22 L1219.96,830.09 L1218.43,826.13 L1216.9,809.61 L1215.38,812.16 L1213.85,824 L1212.33,828.95 L1210.8,837.76 L1209.27,835.94 L1207.75,834.39 L1206.22,835.9 L1204.69,833.04 L1203.17,830.76 L1201.64,829.67 L1200.12,820.39 L1198.59,813.64 L1197.06,807.16 L1195.54,814.26 L1194.01,826.58 L1192.49,830.46 L1190.96,828.71 L1189.43,839.77 L1187.91,832.48 L1186.38,838.51 L1184.86,857.79 L1183.33,844.67 L1181.8,852.69 L1180.28,845.01 L1178.75,832.14 L1177.22,825.44 L1175.7,813.76 L1174.17,808.13 L1172.65,800.51 L1171.12,807.75 L1169.59,811.31 L1168.07,812.73 L1166.54,801.01 L1165.02,795.44 L1163.49,799.15 L1161.96,803.22 L1160.44,820.75 L1158.91,828.27 L1157.39,813.59 L1155.86,808.31 L1154.33,802.89 L1152.81,796.68 L1151.28,803.47 L1149.75,806.36 L1148.23,794.36 L1146.7,794.6 L1145.18,802.23 L1143.65,793.11 L1142.12,799.28 L1140.6,804.21 L1139.07,809.24 L1137.55,814.91 L1136.02,807.02 L1134.49,801.97 L1132.97,799.17 L1131.44,796.75 L1129.92,811.1 L1128.39,811.88 L1126.86,811.79 L1125.34,805.7 L1123.81,789.63 L1122.29,790.63 L1120.76,795.69 L1119.23,804.34 L1117.71,825.99 L1116.18,839.82 L1114.65,842.05 L1113.13,846.53 L1111.6,832.42 L1110.08,828.3 L1108.55,824.78 L1107.02,816.14 L1105.5,821.54 L1103.97,815.26 L1102.45,815.31 L1100.92,801.95 L1099.39,791.06 L1097.87,794.48 L1096.34,799.07 L1094.82,801.22 L1093.29,804.46 L1091.76,796.75 L1090.24,792.46 L1088.71,803.03 L1087.18,810.37 L1085.66,808.88 L1084.13,819.91 L1082.61,811.05 L1081.08,803.46 L1079.55,798.34 L1078.03,784.9 L1076.5,784.89 L1074.98,800.91 L1073.45,812.77 L1071.92,815.3 L1070.4,817.99 L1068.87,815.45 L1067.35,811.17 L1065.82,815.87 L1064.29,813.87 L1062.77,804.52 L1061.24,803.82 L1059.72,789.65 L1058.19,786.68 L1056.66,792.75 L1055.14,793.38 L1053.61,791.31 L1052.08,790.06 L1050.56,781.85 L1049.03,775.67 L1047.51,764.83 L1045.98,753.79 L1044.45,770.82 L1042.93,777.91 L1041.4,787.04 L1039.88,789.94 L1038.35,788.31 L1036.82,775.31 L1035.3,781.28 L1033.77,791.65 L1032.25,804.01 L1030.72,816.5 L1029.19,807.18 L1027.67,795.8 L1026.14,786.57 L1024.61,782.66 L1023.09,783.5 L1021.56,777.91 L1020.04,768.34 L1018.51,756.29 L1016.98,752.53 L1015.46,769.15 L1013.93,772.42 L1012.41,769.92 L1010.88,761.95 L1009.35,749.37 L1007.83,743.63 L1006.3,757.48 L1004.78,762.71 L1003.25,777.06 L1001.72,780.65 L1000.2,782.46 L998.67,792.4 L997.15,793.82 L995.62,802.22 L994.09,812.36 L992.57,818.2 L991.04,811.41 L989.51,801.79 L987.99,793.71 L986.46,779.47 L984.94,780.94 L983.41,771.2 L981.88,763.05 L980.36,752.68 L978.83,751.12 L977.31,765.24 L975.78,770.51 L974.25,784.64 L972.73,799.82 L971.2,802.7 L969.68,799.03 L968.15,800.06 L966.62,801.82 L965.1,807.95 L963.57,802.55 L962.04,797.58 L960.52,783.89 L958.99,771.13 L957.47,763.05 L955.94,740.59 L954.41,750.7 L952.89,765.67 L951.36,766.12 L949.84,771.12 L948.31,785.69 L946.78,781.96 L945.26,784.59 L943.73,781.99 L942.21,766.28 L940.68,782.2 L939.15,790.94 L937.63,803.45 L936.1,808.55 L934.58,806.38 L933.05,797.74 L931.52,804.4 L930,804.99 L928.47,788.1 L926.94,793.7 L925.42,792.38 L923.89,793.84 L922.37,793.08 L920.84,788.66 L919.31,779.26 L917.79,788.32 L916.26,802.55 L914.74,816.49 L913.21,834.5 L911.68,844.66 L910.16,864.53 L908.63,870.11 L907.11,865.72 L905.58,866.12 L904.05,856.92 L902.53,856.07 L901,846.05 L899.47,849.13 L897.95,849.94 L896.42,845.3 L894.9,843.24 L893.37,838.31 L891.84,841.85 L890.32,837.71 L888.79,846.89 L887.27,850.46 L885.74,850.09 L884.21,854.69 L882.69,849.78 L881.16,843.47 L879.64,850.56 L878.11,846.44 L876.58,855.86 L875.06,865.54 L873.53,865.74 L872,870.61 L870.48,863.69 L868.95,856.2 L867.43,845.64 L865.9,843.95 L864.37,839.13 L862.85,844.59 L861.32,851.38 L859.8,854.24 L858.27,861.03 L856.74,859.4 L855.22,855.09 L853.69,852.24 L852.17,855.9 L850.64,858.02 L849.11,863.5 L847.59,862.12 L846.06,858.07 L844.54,869.42 L843.01,876.94 L841.48,879.57 L839.96,885.59 L838.43,885.24 L836.9,883.6 L835.38,881.08 L833.85,875.75 L832.33,864.01 L830.8,859.93 L829.27,860.37 L827.75,860.54 L826.22,870.95 L824.7,866.61 L823.17,861.3 L821.64,857.74 L820.12,863.34 L818.59,874.05 L817.07,869.43 L815.54,867.69 L814.01,865.62 L812.49,858.18 L810.96,862.82 L809.43,864.97 L807.91,865.17 L806.38,860.53 L804.86,862.51 L803.33,867.24 L801.8,870.67 L800.28,866.5 L798.75,859.58 L797.23,857.6 L795.7,861.55 Z" fill="rgba(40,150,220,0.40)"/>
<path d="M795.7,851.31 L797.23,847.86 L798.75,848.98 L800.28,851.22 L801.8,856.29 L803.33,851.64 L804.86,848.21 L806.38,848.28 L807.91,851.49 L809.43,844.55 L810.96,840.31 L812.49,840.95 L814.01,845.38 L815.54,849.73 L817.07,849.55 L818.59,848.54 L820.12,846.09 L821.64,842.45 L823.17,846.86 L824.7,849.8 L826.22,850.4 L827.75,849.79 L829.27,851.5 L830.8,853.6 L832.33,853.24 L833.85,851.69 L835.38,850.74 L836.9,853.72 L838.43,855.67 L839.96,856.08 L841.48,855.24 L843.01,854.4 L844.54,848.79 L846.06,842.08 L847.59,838.71 L849.11,841.94 L850.64,840.15 L852.17,836.22 L853.69,835.7 L855.22,839.52 L856.74,843.98 L858.27,843.13 L859.8,842.35 L861.32,841.37 L862.85,839.35 L864.37,836.46 L865.9,833.01 L867.43,833.54 L868.95,838.45 L870.48,844.43 L872,848.04 L873.53,846.98 L875.06,842.87 L876.58,838.51 L878.11,836.69 L879.64,835.9 L881.16,835.5 L882.69,835.16 L884.21,835.59 L885.74,836.15 L887.27,833.39 L888.79,831.95 L890.32,833.34 L891.84,833.47 L893.37,832.77 L894.9,830.83 L896.42,828.6 L897.95,825.76 L899.47,823.74 L901,817.73 L902.53,823.03 L904.05,829.23 L905.58,834.26 L907.11,837.99 L908.63,839.58 L910.16,831.33 L911.68,809.72 L913.21,807.95 L914.74,807.05 L916.26,799.49 L917.79,782.95 L919.31,765.55 L920.84,761.24 L922.37,765.83 L923.89,773.68 L925.42,775.43 L926.94,775.46 L928.47,776.6 L930,787.59 L931.52,792.55 L933.05,788.26 L934.58,791.86 L936.1,799.25 L937.63,792.05 L939.15,783.95 L940.68,773.04 L942.21,760.44 L943.73,758.69 L945.26,757.65 L946.78,757.07 L948.31,758.3 L949.84,761.22 L951.36,762.72 L952.89,762.27 L954.41,744.49 L955.94,736.6 L957.47,746.35 L958.99,759.73 L960.52,774.61 L962.04,779.67 L963.57,782.59 L965.1,780.39 L966.62,777.04 L968.15,772.56 L969.68,776.08 L971.2,780.43 L972.73,770.35 L974.25,760 L975.78,749.37 L977.31,742.4 L978.83,737.51 L980.36,742.29 L981.88,751.97 L983.41,759.17 L984.94,764.39 L986.46,769.75 L987.99,775.39 L989.51,777.93 L991.04,778.77 L992.57,778.13 L994.09,774.78 L995.62,771.33 L997.15,766.77 L998.67,762.16 L1000.2,757.5 L1001.72,754.28 L1003.25,751.9 L1004.78,743.99 L1006.3,734.55 L1007.83,722.68 L1009.35,732.12 L1010.88,735.19 L1012.41,737.41 L1013.93,738.64 L1015.46,735.71 L1016.98,728.23 L1018.51,733.2 L1020.04,741.32 L1021.56,740.41 L1023.09,739.49 L1024.61,742.08 L1026.14,746.18 L1027.67,759.24 L1029.19,770 L1030.72,776.75 L1032.25,773.79 L1033.77,764.68 L1035.3,759.59 L1036.82,757.74 L1038.35,768.16 L1039.88,775.14 L1041.4,778.49 L1042.93,772.55 L1044.45,763.03 L1045.98,743.47 L1047.51,745.72 L1049.03,750.52 L1050.56,755.27 L1052.08,759.42 L1053.61,762.91 L1055.14,767.22 L1056.66,771.7 L1058.19,773.95 L1059.72,780.42 L1061.24,795.54 L1062.77,798.77 L1064.29,794.39 L1065.82,789.95 L1067.35,785.45 L1068.87,787.84 L1070.4,791.93 L1071.92,793 L1073.45,789.97 L1074.98,779.06 L1076.5,772.12 L1078.03,767.57 L1079.55,775.49 L1081.08,784.12 L1082.61,791.68 L1084.13,793.45 L1085.66,789.17 L1087.18,784.84 L1088.71,781.14 L1090.24,789.3 L1091.76,792.94 L1093.29,794.47 L1094.82,789.13 L1096.34,783.18 L1097.87,776.55 L1099.39,778.37 L1100.92,782.63 L1102.45,783.72 L1103.97,786.26 L1105.5,791.65 L1107.02,798.89 L1108.55,807.13 L1110.08,808.85 L1111.6,810.24 L1113.13,813.24 L1114.65,814.36 L1116.18,813.36 L1117.71,807.04 L1119.23,798.75 L1120.76,789.2 L1122.29,782.57 L1123.81,782.57 L1125.34,785.89 L1126.86,791.28 L1128.39,789.95 L1129.92,787.61 L1131.44,784.35 L1132.97,783.58 L1134.49,785.76 L1136.02,787.93 L1137.55,789.99 L1139.07,788.92 L1140.6,787.16 L1142.12,783.9 L1143.65,785.19 L1145.18,789.52 L1146.7,788.13 L1148.23,787.04 L1149.75,791.35 L1151.28,790.81 L1152.81,784.32 L1154.33,783.38 L1155.86,784.52 L1157.39,787.77 L1158.91,790.35 L1160.44,791.42 L1161.96,790.6 L1163.49,788.45 L1165.02,784.39 L1166.54,780.69 L1168.07,780.69 L1169.59,781.17 L1171.12,782.27 L1172.65,788.88 L1174.17,797.39 L1175.7,805.68 L1177.22,811.99 L1178.75,813.99 L1180.28,818.24 L1181.8,824.05 L1183.33,828.93 L1184.86,831.41 L1186.38,820.95 L1187.91,811.81 L1189.43,804.72 L1190.96,804.88 L1192.49,807.94 L1194.01,801.79 L1195.54,796.12 L1197.06,791.87 L1198.59,797.99 L1200.12,811.51 L1201.64,817.22 L1203.17,814.25 L1204.69,809.01 L1206.22,802.97 L1207.75,799.86 L1209.27,798.34 L1210.8,800.43 L1212.33,798.18 L1213.85,792.9 L1215.38,785.16 L1216.9,788.92 L1218.43,804.22 L1219.96,820.82 L1221.48,833.14 L1223.01,841.34 L1224.53,842.59 L1226.06,831.52 L1227.59,813.02 L1229.11,807.91 L1230.64,816.91 L1232.16,823.15 L1233.69,820.81 L1235.22,804.85 L1236.74,795.9 L1238.27,795.42 L1239.79,798.57 L1241.32,803.88 L1242.85,809.99 L1244.37,813.03 L1245.9,814.38 L1247.43,811.38 L1248.95,808.92 L1250.48,806.89 L1252,809.97 L1253.53,814.22 L1255.06,820.12 L1256.58,821.6 L1258.11,816.72 L1259.63,816.55 L1261.16,818.52 L1262.69,817.62 L1264.21,816.63 L1265.74,815.65 L1267.26,817.32 L1268.79,821.22 L1270.32,825.85 L1271.84,829.68 L1273.37,825.9 L1274.9,823.56 L1276.42,823.56 L1277.95,824.85 L1279.47,826.75 L1281,829.54 L1282.53,831.01 L1284.05,828.2 L1285.58,826.34 L1287.1,825.39 L1288.63,826.74 L1290.16,828.54 L1291.68,829.48 L1293.21,830.77 L1294.73,832.63 L1296.26,835.08 L1297.79,837.82 L1299.31,838.84 L1300.84,839.94 L1302.36,841.73 L1303.89,842.62 L1305.42,842.62 L1306.94,839.8 L1308.47,836.68 L1310,840.3 L1311.52,841.99 L1313.05,840.2 L1314.57,837.24 L1316.1,833.57 L1317.63,835.81 L1319.15,838.35 L1320.68,840.16 L1322.2,840.21 L1323.73,838.41 L1325.26,840.07 L1326.78,842.52 L1328.31,840.74 L1329.83,840.74 L1331.36,844.3 L1332.89,847.27 L1334.41,849.87 L1335.94,849.35 L1337.47,848.01 L1338.99,844.5 L1340.52,843.44 L1342.04,845.21 L1343.57,850.21 L1345.1,855.92 L1346.62,855.08 L1348.15,854.51 L1349.67,854.51 L1351.2,854.51" fill="none" stroke="#0072bd" stroke-width="1.3" stroke-linejoin="round"/>
<path d="M795.7,830.11 L797.23,826.53 L798.75,833.46 L800.28,848.08 L801.8,860.08 L803.33,856.9 L804.86,845.18 L806.38,836.74 L807.91,830.9 L809.43,832.64 L810.96,830.9 L812.49,827.03 L814.01,833.29 L815.54,836.66 L817.07,841.63 L818.59,850.94 L820.12,854.72 L821.64,860.33 L823.17,852.21 L824.7,837.92 L826.22,837.03 L827.75,839.67 L829.27,847.86 L830.8,847.61 L832.33,844.24 L833.85,840.66 L835.38,843.3 L836.9,843.35 L838.43,828.89 L839.96,822.49 L841.48,821.8 L843.01,823.49 L844.54,823.93 L846.06,816.76 L847.59,815.65 L849.11,827.85 L850.64,829.58 L852.17,837.28 L853.69,838.79 L855.22,840.28 L856.74,839.83 L858.27,831.16 L859.8,835.92 L861.32,830.57 L862.85,824.8 L864.37,822.48 L865.9,822.88 L867.43,828.87 L868.95,823.84 L870.48,829.69 L872,830.68 L873.53,834.25 L875.06,837.75 L876.58,839.09 L878.11,841.49 L879.64,838.91 L881.16,840.75 L882.69,836.84 L884.21,829.01 L885.74,825.26 L887.27,822.04 L888.79,818.64 L890.32,826.68 L891.84,828.73 L893.37,834.42 L894.9,832.54 L896.42,827.66 L897.95,827.62 L899.47,818 L901,810.71 L902.53,803.03 L904.05,800.42 L905.58,804.7 L907.11,801.7 L908.63,801.63 L910.16,794.94 L911.68,786.09 L913.21,785.5 L914.74,785.96 L916.26,777.74 L917.79,782.33 L919.31,779.39 L920.84,772.29 L922.37,773.84 L923.89,777.88 L925.42,782.92 L926.94,789.12 L928.47,789.91 L930,775.39 L931.52,774.18 L933.05,782.37 L934.58,782.92 L936.1,786.3 L937.63,781.92 L939.15,781.58 L940.68,781.64 L942.21,768.06 L943.73,767.26 L945.26,758.61 L946.78,751.15 L948.31,753.68 L949.84,751.47 L951.36,747.45 L952.89,738.99 L954.41,736.39 L955.94,733.79 L957.47,740 L958.99,746.18 L960.52,752.96 L962.04,749.41 L963.57,750.45 L965.1,746.09 L966.62,752.24 L968.15,753.7 L969.68,746.98 L971.2,762.92 L972.73,751.92 L974.25,748 L975.78,743.51 L977.31,739.55 L978.83,737.39 L980.36,748.95 L981.88,755.37 L983.41,754.2 L984.94,742.58 L986.46,732.11 L987.99,724.11 L989.51,719.52 L991.04,723.28 L992.57,718.15 L994.09,720.17 L995.62,706.66 L997.15,712.85 L998.67,708.52 L1000.2,689.08 L1001.72,674.54 L1003.25,678.35 L1004.78,688.22 L1006.3,694.74 L1007.83,705.14 L1009.35,700.49 L1010.88,692.7 L1012.41,693.93 L1013.93,685.06 L1015.46,684.72 L1016.98,697.2 L1018.51,689.59 L1020.04,704.37 L1021.56,725.21 L1023.09,724.55 L1024.61,733.55 L1026.14,728.83 L1027.67,724.42 L1029.19,729.98 L1030.72,740.32 L1032.25,732.98 L1033.77,733.24 L1035.3,736.22 L1036.82,729.8 L1038.35,727.01 L1039.88,733.46 L1041.4,737.9 L1042.93,741.28 L1044.45,760 L1045.98,768.12 L1047.51,767.06 L1049.03,772.77 L1050.56,765.09 L1052.08,752.06 L1053.61,753.92 L1055.14,733.05 L1056.66,737.63 L1058.19,738.5 L1059.72,736.02 L1061.24,754.38 L1062.77,743.69 L1064.29,750.81 L1065.82,749.62 L1067.35,749.6 L1068.87,748.12 L1070.4,752.14 L1071.92,765.2 L1073.45,761.1 L1074.98,766.49 L1076.5,756.22 L1078.03,742.9 L1079.55,744.58 L1081.08,750.3 L1082.61,755.34 L1084.13,754.47 L1085.66,754.25 L1087.18,760.36 L1088.71,758.88 L1090.24,760.44 L1091.76,784.43 L1093.29,796.78 L1094.82,796.85 L1096.34,783.35 L1097.87,766.29 L1099.39,771.81 L1100.92,785.01 L1102.45,786.29 L1103.97,780.88 L1105.5,768.15 L1107.02,761.78 L1108.55,758.03 L1110.08,754.6 L1111.6,748.34 L1113.13,741.59 L1114.65,741.29 L1116.18,750.62 L1117.71,758.56 L1119.23,766.03 L1120.76,773.05 L1122.29,783.42 L1123.81,795.23 L1125.34,795.67 L1126.86,796.04 L1128.39,794.5 L1129.92,780.01 L1131.44,775.55 L1132.97,792.42 L1134.49,792.82 L1136.02,791.58 L1137.55,786.3 L1139.07,768.59 L1140.6,767.94 L1142.12,774.65 L1143.65,762.91 L1145.18,753.9 L1146.7,749.66 L1148.23,758.49 L1149.75,764.57 L1151.28,755.29 L1152.81,759.98 L1154.33,758.47 L1155.86,770.08 L1157.39,784.44 L1158.91,777.71 L1160.44,776.47 L1161.96,771.57 L1163.49,779.3 L1165.02,772.54 L1166.54,773.73 L1168.07,777.64 L1169.59,775.85 L1171.12,785.33 L1172.65,788.56 L1174.17,773.64 L1175.7,733.27 L1177.22,744.17 L1178.75,748.89 L1180.28,758.94 L1181.8,772.47 L1183.33,757.39 L1184.86,754.11 L1186.38,745.4 L1187.91,726.23 L1189.43,745.23 L1190.96,748.01 L1192.49,755.95 L1194.01,769.69 L1195.54,748.35 L1197.06,750.51 L1198.59,761.72 L1200.12,744.02 L1201.64,754.11 L1203.17,760.81 L1204.69,783.66 L1206.22,800.49 L1207.75,788.95 L1209.27,789.36 L1210.8,784.78 L1212.33,789.18 L1213.85,797.77 L1215.38,802.16 L1216.9,792.36 L1218.43,784.08 L1219.96,771.24 L1221.48,779.73 L1223.01,787.71 L1224.53,778.09 L1226.06,783.62 L1227.59,782.64 L1229.11,802 L1230.64,811.85 L1232.16,809.27 L1233.69,801.77 L1235.22,792.39 L1236.74,775.12 L1238.27,785.29 L1239.79,797.29 L1241.32,801.79 L1242.85,801.57 L1244.37,783.56 L1245.9,780.98 L1247.43,774.72 L1248.95,777.46 L1250.48,778.94 L1252,788.09 L1253.53,792.08 L1255.06,804.62 L1256.58,814.97 L1258.11,799.46 L1259.63,805.95 L1261.16,816.16 L1262.69,805.14 L1264.21,785.37 L1265.74,785.35 L1267.26,791.07 L1268.79,792.92 L1270.32,799.3 L1271.84,804.97 L1273.37,801.25 L1274.9,797.1 L1276.42,790.14 L1277.95,789.1 L1279.47,802.64 L1281,805.19 L1282.53,808.95 L1284.05,806.74 L1285.58,809.84 L1287.1,831.85 L1288.63,849.62 L1290.16,843.86 L1291.68,833.14 L1293.21,825.64 L1294.73,820.62 L1296.26,818.92 L1297.79,827.69 L1299.31,830.74 L1300.84,826.29 L1302.36,821.79 L1303.89,815.44 L1305.42,820.34 L1306.94,831 L1308.47,838.08 L1310,841.29 L1311.52,839.49 L1313.05,841.89 L1314.57,840.38 L1316.1,827.13 L1317.63,820.96 L1319.15,830.89 L1320.68,823.33 L1322.2,825.97 L1323.73,825.98 L1325.26,821.77 L1326.78,838.95 L1328.31,837.71 L1329.83,833.29 L1331.36,826.59 L1332.89,817.85 L1334.41,814.86 L1335.94,812.27 L1337.47,819.11 L1338.99,825.48 L1340.52,828.36 L1342.04,848.78 L1343.57,857.45 L1345.1,857.85 L1346.62,854.86 L1348.15,848.49 L1349.67,856.9 L1351.2,858.5 L1351.2,881.46 L1349.67,880.76 L1348.15,879.49 L1346.62,879.09 L1345.1,884.51 L1343.57,876.64 L1342.04,873.98 L1340.52,861.46 L1338.99,858.27 L1337.47,870.1 L1335.94,865.71 L1334.41,872.96 L1332.89,874.12 L1331.36,869.61 L1329.83,869.9 L1328.31,865.63 L1326.78,860.96 L1325.26,857.51 L1323.73,860.72 L1322.2,872.37 L1320.68,879.45 L1319.15,876.02 L1317.63,871.59 L1316.1,859.33 L1314.57,871.63 L1313.05,876.12 L1311.52,862.09 L1310,873.74 L1308.47,863.92 L1306.94,863.69 L1305.42,869.22 L1303.89,861.97 L1302.36,864.89 L1300.84,867.78 L1299.31,867.33 L1297.79,867.06 L1296.26,862.6 L1294.73,861.84 L1293.21,865.21 L1291.68,869.62 L1290.16,874.13 L1288.63,882.33 L1287.1,869.52 L1285.58,856.46 L1284.05,862.31 L1282.53,863.13 L1281,862.15 L1279.47,861.32 L1277.95,846.92 L1276.42,844.14 L1274.9,848.84 L1273.37,844.33 L1271.84,845.43 L1270.32,846.53 L1268.79,841.57 L1267.26,828.58 L1265.74,826.16 L1264.21,828.33 L1262.69,852.03 L1261.16,857.54 L1259.63,849.28 L1258.11,843.63 L1256.58,835.36 L1255.06,849.13 L1253.53,829.46 L1252,824.78 L1250.48,821.94 L1248.95,819.05 L1247.43,825.33 L1245.9,823.32 L1244.37,832.4 L1242.85,834.45 L1241.32,833.47 L1239.79,831.7 L1238.27,822.17 L1236.74,824.73 L1235.22,835.65 L1233.69,846.42 L1232.16,850.41 L1230.64,850.84 L1229.11,840.89 L1227.59,824.59 L1226.06,824.68 L1224.53,823.84 L1223.01,833.77 L1221.48,838.64 L1219.96,835.33 L1218.43,842.13 L1216.9,845.84 L1215.38,841.15 L1213.85,837.09 L1212.33,827.22 L1210.8,824.7 L1209.27,820.93 L1207.75,824.19 L1206.22,828.56 L1204.69,813.06 L1203.17,806.14 L1201.64,794.11 L1200.12,793.37 L1198.59,809.21 L1197.06,794.77 L1195.54,803.22 L1194.01,807.3 L1192.49,799.74 L1190.96,793.38 L1189.43,783.31 L1187.91,785.06 L1186.38,788.65 L1184.86,793.17 L1183.33,794.71 L1181.8,799.55 L1180.28,806.19 L1178.75,803.16 L1177.22,801.51 L1175.7,789.04 L1174.17,820.14 L1172.65,831.6 L1171.12,833.36 L1169.59,827.96 L1168.07,817.48 L1166.54,813.01 L1165.02,798.77 L1163.49,805.15 L1161.96,808.82 L1160.44,812.53 L1158.91,824.7 L1157.39,829.94 L1155.86,828.83 L1154.33,821.78 L1152.81,817.82 L1151.28,823 L1149.75,809.98 L1148.23,803.72 L1146.7,810.81 L1145.18,811.15 L1143.65,817.5 L1142.12,814.46 L1140.6,816.76 L1139.07,813.82 L1137.55,834.45 L1136.02,846.82 L1134.49,830.93 L1132.97,829.74 L1131.44,813.79 L1129.92,812.13 L1128.39,817.27 L1126.86,814.25 L1125.34,823.13 L1123.81,827.02 L1122.29,825.2 L1120.76,818.44 L1119.23,810.78 L1117.71,811.62 L1116.18,800.42 L1114.65,797.52 L1113.13,792.63 L1111.6,788.24 L1110.08,793.6 L1108.55,796.69 L1107.02,794.86 L1105.5,802.05 L1103.97,810.96 L1102.45,820.99 L1100.92,819.17 L1099.39,818.19 L1097.87,815.77 L1096.34,817.92 L1094.82,834.88 L1093.29,817.55 L1091.76,803.27 L1090.24,791.02 L1088.71,784.61 L1087.18,789.91 L1085.66,791.34 L1084.13,806.71 L1082.61,805.09 L1081.08,806.86 L1079.55,795.64 L1078.03,791.82 L1076.5,795.78 L1074.98,806.36 L1073.45,812.11 L1071.92,808.04 L1070.4,810.01 L1068.87,801.28 L1067.35,808.61 L1065.82,812.78 L1064.29,804.47 L1062.77,803.53 L1061.24,796.75 L1059.72,799.57 L1058.19,802.77 L1056.66,793.43 L1055.14,785.64 L1053.61,782.22 L1052.08,795.76 L1050.56,798.27 L1049.03,802.66 L1047.51,805.42 L1045.98,796.89 L1044.45,798.84 L1042.93,791.8 L1041.4,786.77 L1039.88,779.38 L1038.35,781.16 L1036.82,795.76 L1035.3,799.6 L1033.77,806.72 L1032.25,803.29 L1030.72,794.73 L1029.19,785.82 L1027.67,775.59 L1026.14,784.32 L1024.61,778.7 L1023.09,777.56 L1021.56,774.2 L1020.04,755.31 L1018.51,763.14 L1016.98,760.14 L1015.46,752.2 L1013.93,760.45 L1012.41,767.16 L1010.88,772.2 L1009.35,763.99 L1007.83,750.61 L1006.3,749.48 L1004.78,740.73 L1003.25,744.64 L1001.72,747.92 L1000.2,746.53 L998.67,756.32 L997.15,775.71 L995.62,764.97 L994.09,775.94 L992.57,777.5 L991.04,766.73 L989.51,776.55 L987.99,782.58 L986.46,782.85 L984.94,791.77 L983.41,792.5 L981.88,790.88 L980.36,796.93 L978.83,806.73 L977.31,809.77 L975.78,807.76 L974.25,811.57 L972.73,798.72 L971.2,802.16 L969.68,818.82 L968.15,813.84 L966.62,813.7 L965.1,808.51 L963.57,797.01 L962.04,798.16 L960.52,798.01 L958.99,803.02 L957.47,805.44 L955.94,808.1 L954.41,809.89 L952.89,798.07 L951.36,795.21 L949.84,798.98 L948.31,802.69 L946.78,810 L945.26,821.17 L943.73,818.05 L942.21,815.69 L940.68,816.48 L939.15,812.61 L937.63,810.98 L936.1,808.8 L934.58,818.25 L933.05,819.3 L931.52,809.13 L930,813.63 L928.47,823.03 L926.94,831.35 L925.42,840.86 L923.89,836.56 L922.37,831.33 L920.84,818.09 L919.31,814 L917.79,815.64 L916.26,816.89 L914.74,813.28 L913.21,820.41 L911.68,816.57 L910.16,827.75 L908.63,847.37 L907.11,849.3 L905.58,852.17 L904.05,852.35 L902.53,843.24 L901,838.92 L899.47,842.12 L897.95,844.7 L896.42,851.09 L894.9,857.16 L893.37,852.26 L891.84,851.2 L890.32,854.15 L888.79,852.88 L887.27,864.27 L885.74,871.29 L884.21,872.43 L882.69,879.37 L881.16,875.87 L879.64,878.96 L878.11,875.37 L876.58,883.3 L875.06,889.06 L873.53,885.28 L872,882.81 L870.48,872.92 L868.95,872.66 L867.43,870.8 L865.9,874.97 L864.37,878.7 L862.85,884.66 L861.32,885.82 L859.8,885.46 L858.27,880.56 L856.74,869.94 L855.22,865.87 L853.69,865.01 L852.17,863.9 L850.64,865.01 L849.11,868.98 L847.59,863.18 L846.06,862.72 L844.54,869.87 L843.01,871.38 L841.48,869.32 L839.96,870.6 L838.43,877.78 L836.9,889.58 L835.38,887.57 L833.85,887.34 L832.33,884.72 L830.8,882.03 L829.27,886.88 L827.75,881 L826.22,876.78 L824.7,875.5 L823.17,878.42 L821.64,882.43 L820.12,876.27 L818.59,880.4 L817.07,882.5 L815.54,882.82 L814.01,885.52 L812.49,879.92 L810.96,872.28 L809.43,874.63 L807.91,870.82 L806.38,867.02 L804.86,875.04 L803.33,877.1 L801.8,876.29 L800.28,878.76 L798.75,870.48 L797.23,861.91 L795.7,872.56 Z" fill="rgba(200,30,60,0.30)"/>
<path d="M795.7,860.34 L797.23,858.7 L798.75,863.34 L800.28,869.17 L801.8,871.16 L803.33,866.39 L804.86,860.76 L806.38,857 L807.91,856.08 L809.43,857.33 L810.96,856.9 L812.49,859.1 L814.01,863.22 L815.54,864.82 L817.07,860.3 L818.59,858.09 L820.12,859.42 L821.64,863.52 L823.17,859.46 L824.7,854.63 L826.22,854.76 L827.75,859.75 L829.27,864.61 L830.8,861.12 L832.33,857.54 L833.85,857.55 L835.38,862.9 L836.9,863.7 L838.43,855.45 L839.96,848.22 L841.48,846.98 L843.01,853.85 L844.54,851.19 L846.06,847.74 L847.59,846.41 L849.11,848.84 L850.64,848.84 L852.17,849.85 L853.69,851.11 L855.22,851.97 L856.74,851.66 L858.27,851.29 L859.8,855.1 L861.32,856.71 L862.85,854.15 L864.37,850.75 L865.9,849.29 L867.43,850.92 L868.95,855.32 L870.48,860.29 L872,864.76 L873.53,867.81 L875.06,867.02 L876.58,861.15 L878.11,856.59 L879.64,854.89 L881.16,856.46 L882.69,855.63 L884.21,850.94 L885.74,844.45 L887.27,837.45 L888.79,831 L890.32,833.62 L891.84,836.74 L893.37,838.01 L894.9,836.16 L896.42,833.41 L897.95,831.31 L899.47,828.15 L901,823.39 L902.53,818.54 L904.05,816.23 L905.58,816.02 L907.11,817.31 L908.63,819.14 L910.16,815.21 L911.68,811.85 L913.21,809.84 L914.74,809.34 L916.26,810.97 L917.79,811.72 L919.31,810.06 L920.84,804.77 L922.37,797.8 L923.89,798.02 L925.42,803.99 L926.94,809.08 L928.47,811.07 L930,802.92 L931.52,798.71 L933.05,801.05 L934.58,802.65 L936.1,797.45 L937.63,792.97 L939.15,789.76 L940.68,786.72 L942.21,785.64 L943.73,783.72 L945.26,780.43 L946.78,777.65 L948.31,775.14 L949.84,772.29 L951.36,768.89 L952.89,765.95 L954.41,768.24 L955.94,770.31 L957.47,772.01 L958.99,773.27 L960.52,769.88 L962.04,766.46 L963.57,767.81 L965.1,770.37 L966.62,774.2 L968.15,779.22 L969.68,782.36 L971.2,779.05 L972.73,775.71 L974.25,773.12 L975.78,770.58 L977.31,767.47 L978.83,764.02 L980.36,761.62 L981.88,759.98 L983.41,760.86 L984.94,761.73 L986.46,758.55 L987.99,755.21 L989.51,752.55 L991.04,749.87 L992.57,748 L994.09,746.2 L995.62,743.22 L997.15,739.57 L998.67,730.15 L1000.2,719.38 L1001.72,707.08 L1003.25,714.89 L1004.78,727.23 L1006.3,737.91 L1007.83,741.59 L1009.35,745.23 L1010.88,742.21 L1012.41,737.69 L1013.93,729.62 L1015.46,728.13 L1016.98,733.75 L1018.51,734.1 L1020.04,733.44 L1021.56,743.26 L1023.09,750.47 L1024.61,752.85 L1026.14,755.4 L1027.67,758.04 L1029.19,761.35 L1030.72,765.97 L1032.25,766.31 L1033.77,764.01 L1035.3,760.64 L1036.82,757.13 L1038.35,756.32 L1039.88,757.2 L1041.4,760.08 L1042.93,767.01 L1044.45,773.13 L1045.98,778.72 L1047.51,782.27 L1049.03,784.57 L1050.56,782.38 L1052.08,778.51 L1053.61,772.63 L1055.14,767.72 L1056.66,767.72 L1058.19,765.61 L1059.72,760.98 L1061.24,761.53 L1062.77,764.05 L1064.29,773.09 L1065.82,781.91 L1067.35,781.56 L1068.87,781.6 L1070.4,785.98 L1071.92,789.24 L1073.45,791.38 L1074.98,786.01 L1076.5,778.45 L1078.03,772.86 L1079.55,771.89 L1081.08,779.72 L1082.61,777.01 L1084.13,767.98 L1085.66,771.35 L1087.18,775.85 L1088.71,780.3 L1090.24,786.78 L1091.76,795.35 L1093.29,802.11 L1094.82,807.21 L1096.34,792.63 L1097.87,784.04 L1099.39,788.39 L1100.92,792.02 L1102.45,795.2 L1103.97,790.7 L1105.5,785.09 L1107.02,778.49 L1108.55,773.9 L1110.08,771.65 L1111.6,767.65 L1113.13,763.72 L1114.65,775.1 L1116.18,784.71 L1117.71,791.2 L1119.23,795.63 L1120.76,798.78 L1122.29,802.82 L1123.81,806.01 L1125.34,804.99 L1126.86,803.49 L1128.39,801.42 L1129.92,800.9 L1131.44,801.09 L1132.97,807.26 L1134.49,811.72 L1136.02,812.72 L1137.55,803.99 L1139.07,788.19 L1140.6,791.09 L1142.12,795.15 L1143.65,793.03 L1145.18,789.43 L1146.7,784.01 L1148.23,787.4 L1149.75,793.76 L1151.28,796.93 L1152.81,799.75 L1154.33,801.83 L1155.86,806.31 L1157.39,812.37 L1158.91,802.45 L1160.44,791.69 L1161.96,790.62 L1163.49,790.98 L1165.02,793.11 L1166.54,795.23 L1168.07,797.34 L1169.59,799.43 L1171.12,802.74 L1172.65,808.87 L1174.17,799.5 L1175.7,777.96 L1177.22,783.59 L1178.75,788.66 L1180.28,791.82 L1181.8,785.35 L1183.33,778.11 L1184.86,769.11 L1186.38,761.23 L1187.91,754.19 L1189.43,760.27 L1190.96,768.67 L1192.49,778.79 L1194.01,781.17 L1195.54,773.37 L1197.06,775.91 L1198.59,782.55 L1200.12,776.66 L1201.64,777.03 L1203.17,784.75 L1204.69,806.64 L1206.22,812.43 L1207.75,806.47 L1209.27,802.36 L1210.8,802.8 L1212.33,804.98 L1213.85,813.07 L1215.38,816.78 L1216.9,810.82 L1218.43,804.72 L1219.96,798.51 L1221.48,800.42 L1223.01,802.34 L1224.53,797.71 L1226.06,799.8 L1227.59,803.68 L1229.11,811.8 L1230.64,815.76 L1232.16,816.75 L1233.69,813.49 L1235.22,809.34 L1236.74,804.24 L1238.27,804.34 L1239.79,811.44 L1241.32,814.19 L1242.85,815.18 L1244.37,810.25 L1245.9,806.85 L1247.43,807.86 L1248.95,809.44 L1250.48,811.45 L1252,813.45 L1253.53,816.47 L1255.06,826.62 L1256.58,821.21 L1258.11,818.43 L1259.63,824.74 L1261.16,834.59 L1262.69,828.06 L1264.21,809.83 L1265.74,806.2 L1267.26,811.03 L1268.79,816.01 L1270.32,818.5 L1271.84,820.35 L1273.37,821.32 L1274.9,821.53 L1276.42,820.56 L1277.95,822.84 L1279.47,826.67 L1281,831.33 L1282.53,834.2 L1284.05,831.42 L1285.58,835.86 L1287.1,850.02 L1288.63,863.08 L1290.16,857.35 L1291.68,851.89 L1293.21,846.71 L1294.73,842.12 L1296.26,838.06 L1297.79,838.97 L1299.31,839.54 L1300.84,839.54 L1302.36,840.12 L1303.89,841.02 L1305.42,846.03 L1306.94,849.57 L1308.47,846.97 L1310,844.78 L1311.52,843.01 L1313.05,845.37 L1314.57,848.48 L1316.1,845.86 L1317.63,845.97 L1319.15,851.16 L1320.68,851.99 L1322.2,850.27 L1323.73,849.34 L1325.26,848.98 L1326.78,850.7 L1328.31,850.78 L1329.83,849.05 L1331.36,849.96 L1332.89,851.52 L1334.41,849.8 L1335.94,848.93 L1337.47,849.79 L1338.99,849.6 L1340.52,848.73 L1342.04,858.48 L1343.57,867.25 L1345.1,868.04 L1346.62,867.74 L1348.15,866.16 L1349.67,867.82 L1351.2,870.58" fill="none" stroke="#b41b30" stroke-width="1.3" stroke-linejoin="round"/>
</svg>
<path d="M843.03,892 v-5 M843.03,666.8 v5 M885.77,892 v-5 M885.77,666.8 v5 M933.1,892 v-5 M933.1,666.8 v5 M978.9,892 v-5 M978.9,666.8 v5 M1026.22,892 v-5 M1026.22,666.8 v5 M1072.02,892 v-5 M1072.02,666.8 v5 M1119.35,892 v-5 M1119.35,666.8 v5 M1166.68,892 v-5 M1166.68,666.8 v5 M1212.48,892 v-5 M1212.48,666.8 v5 M1259.8,892 v-5 M1259.8,666.8 v5 M1305.6,892 v-5 M1305.6,666.8 v5 M795.7,873.8 h5 M1351.4,873.8 h-5 M795.7,835.98 h5 M1351.4,835.98 h-5 M795.7,798.16 h5 M1351.4,798.16 h-5 M795.7,760.34 h5 M1351.4,760.34 h-5 M795.7,722.52 h5 M1351.4,722.52 h-5 M795.7,684.7 h5 M1351.4,684.7 h-5" stroke="#999" stroke-width="1.3" fill="none"/>
<rect x="795.7" y="666.8" width="555.7" height="225.2" fill="none" stroke="#a2a2a2" stroke-width="1.4"/>
<g style="font-family:'Liberation Sans',sans-serif;font-size:19px" fill="#1a1a1a" stroke="#1a1a1a" stroke-width="0.3"><text x="789.2" y="880.8" text-anchor="end">6</text><text x="789.2" y="842.98" text-anchor="end">8</text><text x="789.2" y="805.16" text-anchor="end">10</text><text x="789.2" y="767.34" text-anchor="end">12</text><text x="789.2" y="729.52" text-anchor="end">14</text><text x="789.2" y="691.7" text-anchor="end">16</text><text x="795.7" y="915.1" text-anchor="middle">J</text><text x="843.03" y="915.1" text-anchor="middle">F</text><text x="885.77" y="915.1" text-anchor="middle">M</text><text x="933.1" y="915.1" text-anchor="middle">A</text><text x="978.9" y="915.1" text-anchor="middle">M</text><text x="1026.22" y="915.1" text-anchor="middle">J</text><text x="1072.02" y="915.1" text-anchor="middle">J</text><text x="1119.35" y="915.1" text-anchor="middle">A</text><text x="1166.68" y="915.1" text-anchor="middle">S</text><text x="1212.48" y="915.1" text-anchor="middle">O</text><text x="1259.8" y="915.1" text-anchor="middle">N</text><text x="1305.6" y="915.1" text-anchor="middle">D</text></g>
<text transform="translate(751.7,779.4) rotate(-90)" text-anchor="middle" style="font-family:'Liberation Sans',sans-serif;font-size:21px" fill="#1a1a1a" stroke="#1a1a1a" stroke-width="0.3">K<tspan dy="10" font-size="16.3">w</tspan><tspan dy="-10"> (cm hr</tspan><tspan dy="-10" font-size="15.5">-1</tspan><tspan dy="10">)</tspan></text>
<text x="738" y="654" style="font-family:'Liberation Sans',sans-serif;font-size:30px;font-weight:bold" fill="#000">F</text>
</svg></body></html>
